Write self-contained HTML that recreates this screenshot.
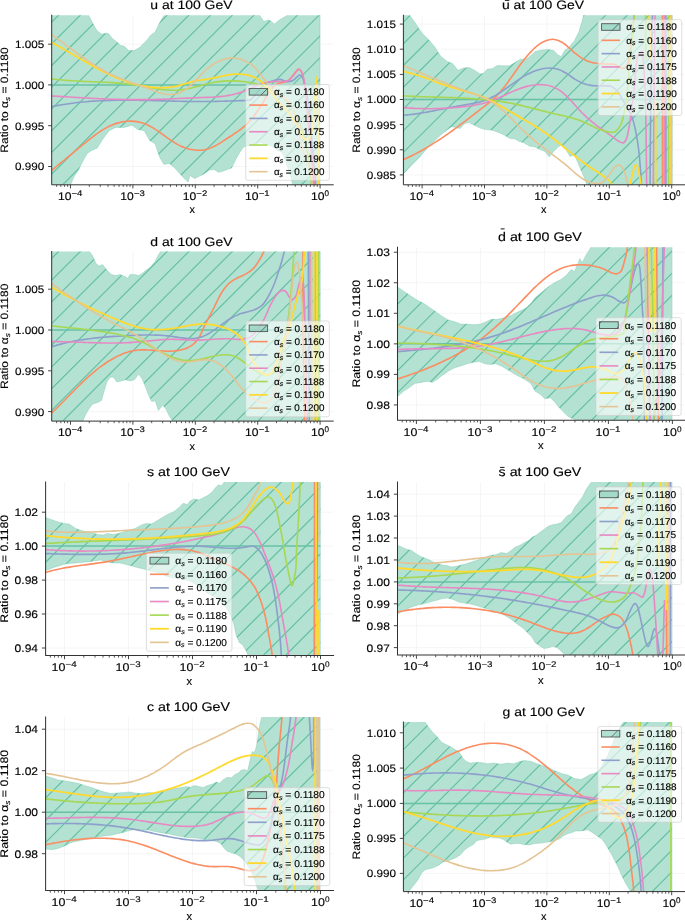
<!DOCTYPE html>
<html><head><meta charset="utf-8"><title>PDF ratio plots</title>
<style>
html,body{margin:0;padding:0;background:#fff;}
body{width:685px;height:920px;overflow:hidden;font-family:"Liberation Sans", sans-serif;}
svg{display:block;will-change:transform;}
svg text{font-family:"Liberation Sans", sans-serif;fill:#000;text-rendering:geometricPrecision;stroke:#000;stroke-width:0.14px;}
</style></head><body>
<svg width="685" height="920" viewBox="0 0 685 920">
<rect width="685" height="920" fill="#fff"/>
<g id="p1">
<path d="M70.5,15.2 V184.8 M132.9,15.2 V184.8 M195.3,15.2 V184.8 M257.7,15.2 V184.8 M320.1,15.2 V184.8 M51.7,44.2 H333.2 M51.7,84.9 H333.2 M51.7,125.7 H333.2 M51.7,166.5 H333.2" stroke="#f3f3f3" stroke-width="0.8" fill="none"/>
<clipPath id="ax1"><rect x="51.7" y="15.2" width="281.5" height="169.6"/></clipPath>
<g clip-path="url(#ax1)">
<clipPath id="bd1"><path d="M51.5,5L88.3,5L88.3,14.8L92.7,23.1L97.1,30.8L101.5,34.1L106.5,33.2L108.5,33.6L112.4,38.5L117.9,42.8L120.3,45.2L124.4,46.3L128.8,50.6L134.3,50.5L139.8,47.2L146.3,40.7L150.7,35.2L155.1,31.9L159.5,23.1L163.9,15.5L165,5L259.7,5L259.7,15.2L263.8,21.5L268.8,19.8L274.6,23.9L279.5,19.8L285.3,16.5L287,15.2L288,5L320,5L320,195L293,195L292.5,184.3L290.7,176.6L288.5,170.1L286.3,163.5L284.2,156.9L282,152.6L277.6,150.4L273.2,147.1L268.8,144.9L264.5,143.8L260.1,142.7L255.7,143.8L251.3,144.9L246.9,146L243.6,147.1L240.4,151.5L237.1,156.9L233.8,163.5L231.6,167.9L227.2,169.6L222.8,171.2L218.5,172.3L214.1,169.6L209.7,170.1L206.4,172.3L203.1,174.4L198.8,176.6L194.4,178.4L190,175.5L188,182.1L181.4,175.5L174.8,167.9L169.3,163.5L163.9,164.6L159.5,156.9L155.1,143.8L149.6,140.5L144.2,130.7L137.6,129.6L132.1,125.2L124.5,127.4L115.7,127.4L109.1,130.7L102.6,139.4L97.1,148.2L91.6,150.4L87.2,153.6L82.8,161.3L78.5,170L74.1,176.6L70.8,184.3L70.8,195L51.5,195Z"/></clipPath>
<path d="M51.5,5L88.3,5L88.3,14.8L92.7,23.1L97.1,30.8L101.5,34.1L106.5,33.2L108.5,33.6L112.4,38.5L117.9,42.8L120.3,45.2L124.4,46.3L128.8,50.6L134.3,50.5L139.8,47.2L146.3,40.7L150.7,35.2L155.1,31.9L159.5,23.1L163.9,15.5L165,5L259.7,5L259.7,15.2L263.8,21.5L268.8,19.8L274.6,23.9L279.5,19.8L285.3,16.5L287,15.2L288,5L320,5L320,195L293,195L292.5,184.3L290.7,176.6L288.5,170.1L286.3,163.5L284.2,156.9L282,152.6L277.6,150.4L273.2,147.1L268.8,144.9L264.5,143.8L260.1,142.7L255.7,143.8L251.3,144.9L246.9,146L243.6,147.1L240.4,151.5L237.1,156.9L233.8,163.5L231.6,167.9L227.2,169.6L222.8,171.2L218.5,172.3L214.1,169.6L209.7,170.1L206.4,172.3L203.1,174.4L198.8,176.6L194.4,178.4L190,175.5L188,182.1L181.4,175.5L174.8,167.9L169.3,163.5L163.9,164.6L159.5,156.9L155.1,143.8L149.6,140.5L144.2,130.7L137.6,129.6L132.1,125.2L124.5,127.4L115.7,127.4L109.1,130.7L102.6,139.4L97.1,148.2L91.6,150.4L87.2,153.6L82.8,161.3L78.5,170L74.1,176.6L70.8,184.3L70.8,195L51.5,195Z" fill="#b3e1d2" stroke="#66c2a5" stroke-opacity="0.5" stroke-width="0.6"/>
<path d="M50.7,-20.36 L16.14,14.2 M50.7,1.35 L37.85,14.2 M50.7,23.06 L59.56,14.2 M50.7,44.77 L81.27,14.2 M50.7,66.48 L102.98,14.2 M50.7,88.19 L124.69,14.2 M50.7,109.9 L146.4,14.2 M50.7,131.61 L168.11,14.2 M50.7,153.32 L189.82,14.2 M50.7,175.03 L211.53,14.2 M50.7,196.74 L233.24,14.2 M50.7,218.45 L254.95,14.2 M50.7,240.16 L276.66,14.2 M50.7,261.87 L298.37,14.2 M50.7,283.58 L320.08,14.2 M50.7,305.29 L341.79,14.2 M50.7,327 L363.5,14.2 M50.7,348.71 L385.21,14.2 M50.7,370.42 L406.92,14.2 M50.7,392.13 L428.63,14.2 M50.7,413.84 L450.34,14.2 M50.7,435.55 L472.05,14.2 M50.7,457.26 L493.76,14.2 M50.7,478.97 L515.47,14.2" stroke="#62c0a2" stroke-width="1.15" fill="none" clip-path="url(#bd1)"/>
<path d="M51.7,84.9 H320.1" stroke="#66c2a5" stroke-opacity="1" stroke-width="1.5" fill="none"/>
<path d="M51.48,170.61C51.94,170.23 53.33,169.05 54.25,168.29C55.17,167.52 56.08,166.75 57,166C57.91,165.24 58.82,164.49 59.73,163.74C60.64,162.99 61.54,162.24 62.45,161.5C63.35,160.76 64.25,160.02 65.16,159.29C66.06,158.55 66.96,157.82 67.86,157.08C68.76,156.35 69.66,155.61 70.56,154.88C71.46,154.14 72.36,153.41 73.26,152.67C74.17,151.93 75.07,151.2 75.97,150.45C76.88,149.71 77.78,148.97 78.69,148.22C79.6,147.47 80.51,146.72 81.43,145.96C82.34,145.21 83.26,144.44 84.18,143.68C85.1,142.92 86.03,142.15 86.96,141.39C87.89,140.64 88.82,139.88 89.76,139.13C90.7,138.38 91.65,137.63 92.6,136.9C93.55,136.17 94.51,135.44 95.48,134.73C96.44,134.02 97.42,133.33 98.4,132.65C99.38,131.97 100.37,131.31 101.37,130.67C102.37,130.03 103.37,129.41 104.39,128.82C105.41,128.23 106.44,127.66 107.48,127.12C108.51,126.58 109.56,126.07 110.62,125.59C111.68,125.11 112.76,124.66 113.84,124.25C114.93,123.84 116.02,123.46 117.13,123.12C118.24,122.79 119.37,122.49 120.5,122.24C121.64,121.98 122.8,121.77 123.96,121.61C125.12,121.44 126.3,121.32 127.48,121.25C128.66,121.18 129.85,121.15 131.04,121.17C132.22,121.19 133.41,121.26 134.59,121.39C135.77,121.51 136.94,121.67 138.1,121.9C139.26,122.12 140.41,122.39 141.53,122.71C142.66,123.04 143.76,123.42 144.85,123.84C145.94,124.26 147.01,124.73 148.07,125.23C149.12,125.74 150.16,126.29 151.19,126.86C152.22,127.43 153.23,128.04 154.24,128.67C155.24,129.29 156.24,129.95 157.22,130.61C158.21,131.27 159.19,131.96 160.17,132.65C161.14,133.34 162.11,134.04 163.09,134.74C164.06,135.44 165.03,136.15 166,136.85C166.97,137.55 167.94,138.25 168.93,138.93C169.91,139.61 170.89,140.29 171.88,140.95C172.88,141.6 173.88,142.25 174.89,142.86C175.91,143.47 176.93,144.07 177.98,144.63C179.02,145.18 180.07,145.72 181.14,146.21C182.22,146.7 183.31,147.16 184.42,147.57C185.52,147.98 186.65,148.36 187.77,148.68C188.9,149.01 190.05,149.29 191.19,149.52C192.34,149.75 193.49,149.94 194.65,150.07C195.8,150.2 196.96,150.28 198.11,150.29C199.26,150.31 200.41,150.28 201.55,150.18C202.7,150.08 203.83,149.93 204.96,149.71C206.08,149.48 207.2,149.2 208.3,148.85C209.39,148.5 210.48,148.07 211.55,147.61C212.63,147.15 213.69,146.63 214.74,146.08C215.8,145.53 216.84,144.93 217.87,144.32C218.91,143.71 219.94,143.06 220.96,142.42C221.99,141.77 223,141.1 224.02,140.45C225.03,139.79 226.05,139.14 227.06,138.48C228.06,137.83 229.07,137.19 230.07,136.54C231.07,135.9 232.06,135.26 233.04,134.6C234.02,133.95 235,133.3 235.96,132.64C236.92,131.98 237.88,131.31 238.81,130.63C239.75,129.94 240.68,129.25 241.59,128.54C242.49,127.83 243.39,127.1 244.26,126.35C245.14,125.6 246,124.83 246.83,124.04C247.67,123.24 248.48,122.42 249.28,121.57C250.07,120.72 250.84,119.84 251.6,118.94C252.35,118.04 253.08,117.11 253.8,116.17C254.52,115.22 254.49,115.34 255.91,113.28C257.32,111.22 260.15,107.25 262.3,103.8C264.45,100.35 266.62,95.75 268.8,92.6C270.98,89.45 273.2,86.55 275.4,84.9C277.6,83.25 279.82,83.43 282,82.7C284.18,81.97 286.5,81.97 288.5,80.5C290.5,79.03 292.35,75.8 294,73.9C295.65,72 297.12,69.28 298.4,69.1C299.68,68.92 300.77,70.65 301.7,72.8C302.63,74.95 303.2,77.47 304,82C304.8,86.53 305.67,92.83 306.5,100C307.33,107.17 308.08,115 309,125C309.92,135 311.17,149.17 312,160C312.83,170.83 313.67,185 314,190" stroke="#fc8d62" stroke-width="1.6" fill="none" stroke-linejoin="round" stroke-linecap="butt"/>
<path d="M51.43,106.77C52.01,106.65 53.74,106.28 54.9,106.05C56.05,105.82 57.21,105.6 58.37,105.38C59.53,105.17 60.69,104.96 61.85,104.77C63.01,104.57 64.17,104.38 65.33,104.2C66.49,104.02 67.65,103.84 68.81,103.67C69.97,103.51 71.13,103.35 72.3,103.2C73.46,103.04 74.62,102.9 75.78,102.76C76.95,102.62 78.11,102.49 79.28,102.36C80.44,102.24 81.61,102.12 82.77,102.01C83.94,101.89 85.1,101.79 86.27,101.69C87.43,101.59 88.6,101.5 89.77,101.41C90.94,101.32 92.1,101.24 93.27,101.16C94.44,101.08 95.61,101.01 96.78,100.94C97.94,100.88 99.11,100.82 100.28,100.76C101.45,100.7 102.62,100.65 103.79,100.6C104.96,100.56 106.13,100.52 107.3,100.48C108.47,100.44 109.64,100.41 110.81,100.38C111.99,100.35 113.16,100.32 114.33,100.3C115.5,100.28 116.67,100.26 117.85,100.25C119.02,100.23 120.19,100.22 121.36,100.22C122.54,100.21 123.71,100.2 124.88,100.2C126.06,100.2 127.23,100.2 128.4,100.21C129.58,100.21 130.75,100.22 131.92,100.23C133.1,100.24 134.27,100.25 135.45,100.27C136.62,100.28 137.8,100.3 138.97,100.31C140.14,100.33 141.32,100.35 142.49,100.37C143.67,100.4 144.84,100.42 146.02,100.44C147.19,100.47 148.37,100.5 149.54,100.52C150.72,100.55 151.89,100.58 153.07,100.61C154.25,100.64 155.42,100.67 156.6,100.7C157.77,100.73 158.95,100.76 160.12,100.79C161.3,100.82 162.47,100.85 163.65,100.88C164.82,100.91 166,100.94 167.18,100.97C168.35,101 169.53,101.04 170.7,101.07C171.88,101.09 173.05,101.12 174.23,101.15C175.4,101.18 176.58,101.21 177.75,101.24C178.93,101.26 180.1,101.29 181.28,101.31C182.45,101.33 183.63,101.36 184.8,101.38C185.98,101.4 187.15,101.42 188.33,101.43C189.5,101.45 190.68,101.47 191.85,101.48C193.03,101.49 194.2,101.5 195.37,101.51C196.55,101.52 197.72,101.53 198.9,101.53C200.07,101.53 201.24,101.53 202.42,101.53C203.59,101.52 204.76,101.52 205.93,101.51C207.11,101.5 208.28,101.49 209.45,101.48C210.62,101.46 211.8,101.45 212.97,101.43C214.14,101.41 215.31,101.39 216.48,101.37C217.66,101.35 218.83,101.32 220,101.29C221.17,101.27 222.34,101.24 223.51,101.21C224.68,101.18 225.86,101.15 227.03,101.12C228.2,101.08 229.37,101.05 230.54,101.01C231.71,100.98 232.88,100.94 234.05,100.9C235.22,100.87 236.39,100.83 237.56,100.79C238.73,100.75 239.9,100.71 241.07,100.67C242.24,100.63 243.42,100.61 244.58,100.55C245.75,100.49 246.94,100.5 248.05,100.32C249.15,100.13 249.58,100.9 251.22,99.43C252.86,97.96 255.69,93.92 257.9,91.5C260.11,89.08 262.32,86.55 264.5,84.9C266.68,83.25 268.45,82.52 271,81.6C273.55,80.68 277.25,79.4 279.8,79.4C282.35,79.4 284.12,81.42 286.3,81.6C288.48,81.78 290.7,81.6 292.9,80.5C295.1,79.4 297.85,75.37 299.5,75C301.15,74.63 301.72,75.73 302.8,78.3C303.88,80.87 304.92,85.12 306,90.4C307.08,95.68 308.25,100.73 309.3,110C310.35,119.27 311.15,132.67 312.3,146C313.45,159.33 315.55,182.67 316.2,190" stroke="#8da0cb" stroke-width="1.6" fill="none" stroke-linejoin="round" stroke-linecap="butt"/>
<path d="M51.5,95.95C52.09,95.99 53.87,96.1 55.05,96.17C56.23,96.24 57.42,96.32 58.6,96.39C59.78,96.46 60.96,96.53 62.15,96.61C63.33,96.68 64.51,96.75 65.7,96.82C66.88,96.9 68.06,96.97 69.25,97.04C70.43,97.11 71.61,97.18 72.8,97.25C73.98,97.32 75.16,97.39 76.35,97.46C77.53,97.53 78.71,97.6 79.9,97.67C81.08,97.74 82.27,97.8 83.45,97.87C84.63,97.94 85.82,98 87,98.06C88.18,98.13 89.37,98.19 90.55,98.25C91.74,98.31 92.92,98.37 94.1,98.43C95.29,98.49 96.47,98.55 97.66,98.6C98.84,98.66 100.03,98.71 101.21,98.76C102.39,98.82 103.58,98.87 104.76,98.92C105.95,98.96 107.13,99.01 108.32,99.06C109.5,99.1 110.68,99.14 111.87,99.18C113.05,99.22 114.24,99.26 115.42,99.3C116.61,99.33 117.79,99.37 118.97,99.4C120.16,99.43 121.34,99.46 122.53,99.49C123.71,99.51 124.9,99.54 126.08,99.56C127.26,99.58 128.45,99.6 129.63,99.61C130.82,99.63 132,99.64 133.19,99.65C134.37,99.66 135.55,99.66 136.74,99.67C137.92,99.67 139.11,99.67 140.29,99.67C141.47,99.66 142.66,99.66 143.84,99.65C145.03,99.64 146.21,99.62 147.39,99.61C148.58,99.59 149.76,99.57 150.95,99.54C152.13,99.52 153.31,99.49 154.5,99.46C155.68,99.43 156.87,99.4 158.05,99.36C159.23,99.32 160.42,99.28 161.6,99.24C162.78,99.2 163.97,99.15 165.15,99.11C166.33,99.06 167.52,99.01 168.7,98.96C169.89,98.91 171.07,98.86 172.25,98.81C173.44,98.76 174.62,98.7 175.81,98.65C176.99,98.6 178.17,98.54 179.36,98.49C180.54,98.43 181.73,98.38 182.91,98.32C184.09,98.27 185.28,98.21 186.46,98.16C187.65,98.11 188.83,98.06 190.02,98C191.2,97.95 192.39,97.9 193.57,97.85C194.76,97.8 195.94,97.76 197.13,97.71C198.31,97.66 199.5,97.62 200.68,97.58C201.87,97.54 203.05,97.5 204.24,97.46C205.43,97.42 206.61,97.38 207.8,97.34C208.98,97.29 210.17,97.25 211.35,97.19C212.53,97.13 213.72,97.07 214.9,97C216.08,96.92 217.26,96.84 218.44,96.74C219.62,96.64 220.8,96.52 221.98,96.39C223.16,96.26 224.33,96.11 225.51,95.94C226.68,95.77 227.85,95.58 229.02,95.37C230.18,95.16 231.35,94.93 232.5,94.68C233.66,94.42 234.81,94.15 235.96,93.85C237.1,93.55 238.24,93.23 239.37,92.88C240.5,92.53 241.63,92.15 242.74,91.75C243.86,91.35 244.96,90.92 246.06,90.47C247.15,90.03 248.24,89.54 249.32,89.07C250.41,88.59 251.48,88.08 252.56,87.6C253.64,87.11 253.81,86.96 255.8,86.14C257.79,85.32 261.6,83.46 264.5,82.7C267.4,81.94 270.28,81.78 273.2,81.6C276.12,81.42 279.45,81.78 282,81.6C284.55,81.42 286.68,81.42 288.5,80.5C290.32,79.58 291.25,77.92 292.9,76.1C294.55,74.28 296.93,70.32 298.4,69.6C299.87,68.88 300.78,70.17 301.7,71.8C302.62,73.43 303.18,75.72 303.9,79.4C304.62,83.08 305.4,88.07 306,93.9C306.6,99.73 306.72,105.72 307.5,114.4C308.28,123.08 309.65,136.27 310.7,146C311.75,155.73 313.02,165.47 313.8,172.8C314.58,180.13 315.13,187.13 315.4,190" stroke="#e78ac3" stroke-width="1.6" fill="none" stroke-linejoin="round" stroke-linecap="butt"/>
<path d="M51.5,78.89C52.09,78.97 53.86,79.19 55.04,79.33C56.22,79.47 57.4,79.59 58.58,79.71C59.77,79.83 60.95,79.94 62.13,80.05C63.31,80.15 64.49,80.25 65.67,80.34C66.86,80.43 68.04,80.52 69.22,80.6C70.4,80.68 71.59,80.75 72.77,80.82C73.95,80.89 75.13,80.96 76.32,81.02C77.5,81.08 78.68,81.14 79.86,81.2C81.05,81.25 82.23,81.31 83.41,81.36C84.6,81.41 85.78,81.46 86.96,81.5C88.14,81.55 89.33,81.6 90.51,81.64C91.69,81.69 92.87,81.74 94.06,81.78C95.24,81.83 96.42,81.88 97.6,81.93C98.79,81.97 99.97,82.02 101.15,82.08C102.33,82.13 103.51,82.18 104.7,82.24C105.88,82.3 107.06,82.36 108.24,82.42C109.42,82.49 110.6,82.56 111.78,82.63C112.97,82.7 114.15,82.78 115.33,82.87C116.51,82.95 117.69,83.04 118.87,83.13C120.05,83.23 121.23,83.33 122.41,83.44C123.59,83.55 124.76,83.67 125.94,83.79C127.12,83.92 128.3,84.05 129.48,84.2C130.66,84.34 131.83,84.49 133.01,84.65C134.19,84.81 135.36,84.98 136.54,85.17C137.72,85.35 138.89,85.54 140.07,85.74C141.24,85.94 142.42,86.16 143.59,86.37C144.77,86.58 145.94,86.8 147.12,87.02C148.29,87.23 149.46,87.45 150.64,87.67C151.81,87.88 152.98,88.09 154.16,88.29C155.33,88.49 156.5,88.69 157.67,88.87C158.85,89.05 160.02,89.22 161.19,89.37C162.36,89.52 163.53,89.66 164.7,89.78C165.87,89.89 167.04,89.99 168.21,90.06C169.38,90.14 170.55,90.19 171.72,90.2C172.89,90.22 174.06,90.21 175.23,90.18C176.4,90.14 177.57,90.07 178.74,89.98C179.91,89.89 181.07,89.77 182.24,89.62C183.4,89.48 184.57,89.31 185.73,89.11C186.89,88.92 188.05,88.7 189.2,88.46C190.36,88.22 191.51,87.96 192.66,87.68C193.81,87.4 194.96,87.1 196.11,86.8C197.26,86.5 198.4,86.18 199.55,85.87C200.69,85.55 201.84,85.23 202.99,84.92C204.13,84.61 205.28,84.3 206.43,84.01C207.58,83.72 208.73,83.43 209.89,83.17C211.04,82.91 212.2,82.67 213.36,82.45C214.52,82.23 215.69,82.04 216.85,81.87C218.02,81.7 219.19,81.55 220.37,81.42C221.54,81.3 222.71,81.19 223.89,81.11C225.07,81.03 226.25,80.96 227.43,80.92C228.61,80.88 229.8,80.86 230.98,80.86C232.17,80.86 233.35,80.88 234.54,80.92C235.73,80.96 236.92,81.02 238.1,81.1C239.29,81.18 240.48,81.27 241.66,81.39C242.85,81.51 244.03,81.66 245.21,81.82C246.39,81.98 247.57,82.16 248.74,82.37C249.91,82.58 251.08,82.8 252.24,83.05C253.41,83.31 253.09,83.05 255.71,83.88C258.34,84.7 263.95,86.15 268,88C272.05,89.85 276,91.67 280,95C284,98.33 288.33,102.17 292,108C295.67,113.83 299.33,122.17 302,130C304.67,137.83 306.33,145 308,155C309.67,165 311.33,184.17 312,190" stroke="#a6d854" stroke-width="1.6" fill="none" stroke-linejoin="round" stroke-linecap="butt"/>
<path d="M51.55,42.34C52.06,42.62 53.6,43.46 54.62,44.02C55.64,44.59 56.67,45.16 57.69,45.73C58.71,46.31 59.73,46.89 60.75,47.47C61.77,48.05 62.79,48.64 63.8,49.23C64.82,49.82 65.84,50.41 66.86,51.01C67.88,51.6 68.89,52.2 69.91,52.8C70.93,53.4 71.95,54 72.97,54.6C73.99,55.2 75,55.8 76.02,56.4C77.04,57 78.06,57.61 79.08,58.21C80.11,58.8 81.13,59.4 82.15,60C83.17,60.59 84.2,61.19 85.23,61.78C86.25,62.37 87.28,62.96 88.31,63.54C89.34,64.13 90.37,64.71 91.4,65.29C92.43,65.86 93.47,66.43 94.5,67C95.54,67.57 96.58,68.13 97.62,68.68C98.66,69.24 99.71,69.79 100.76,70.33C101.8,70.87 102.85,71.4 103.91,71.93C104.96,72.45 106.01,72.97 107.07,73.48C108.13,73.99 109.19,74.49 110.26,74.98C111.33,75.48 112.4,75.96 113.47,76.43C114.54,76.9 115.62,77.36 116.7,77.81C117.78,78.26 118.87,78.7 119.96,79.12C121.05,79.55 122.14,79.96 123.24,80.36C124.34,80.77 125.44,81.15 126.55,81.53C127.65,81.9 128.77,82.26 129.88,82.61C131,82.95 132.12,83.28 133.25,83.6C134.38,83.92 135.51,84.22 136.65,84.5C137.79,84.78 138.94,85.05 140.09,85.3C141.24,85.55 142.4,85.78 143.56,86C144.72,86.21 145.89,86.41 147.07,86.59C148.24,86.77 149.42,86.93 150.61,87.07C151.8,87.2 152.99,87.32 154.18,87.42C155.38,87.52 156.58,87.59 157.77,87.64C158.97,87.69 160.16,87.72 161.36,87.72C162.55,87.71 163.74,87.69 164.92,87.63C166.11,87.58 167.29,87.5 168.46,87.38C169.63,87.27 170.79,87.13 171.94,86.96C173.1,86.78 174.24,86.58 175.38,86.34C176.51,86.11 177.64,85.85 178.76,85.56C179.89,85.28 181,84.96 182.11,84.63C183.23,84.3 184.33,83.93 185.45,83.58C186.56,83.24 187.67,82.87 188.79,82.55C189.91,82.23 191.04,81.93 192.17,81.66C193.3,81.4 194.45,81.16 195.6,80.94C196.74,80.72 197.9,80.53 199.06,80.33C200.21,80.14 201.38,79.97 202.54,79.8C203.7,79.62 204.87,79.45 206.04,79.28C207.2,79.1 208.37,78.92 209.53,78.72C210.7,78.52 211.86,78.31 213.02,78.08C214.18,77.86 215.34,77.6 216.5,77.35C217.65,77.1 218.81,76.84 219.96,76.58C221.12,76.33 222.27,76.07 223.43,75.82C224.59,75.58 225.74,75.34 226.91,75.14C228.07,74.93 229.23,74.73 230.4,74.58C231.56,74.42 232.73,74.29 233.91,74.2C235.09,74.11 236.27,74.06 237.45,74.06C238.63,74.05 239.81,74.08 240.99,74.16C242.16,74.24 243.34,74.36 244.5,74.53C245.66,74.7 246.82,74.92 247.95,75.18C249.09,75.44 249.32,75.23 251.33,76.11C253.33,77 257.09,78.3 260,80.5C262.91,82.7 265.87,85.83 268.8,89.3C271.73,92.77 274.57,97.77 277.6,101.3C280.63,104.83 283.6,106.22 287,110.5C290.4,114.78 295.37,122.53 298,127C300.63,131.47 301.22,135.2 302.8,137.3C304.38,139.4 306.18,140 307.5,139.6C308.82,139.2 309.78,137.78 310.7,134.9C311.62,132.02 312.22,129.65 313,122.3C313.78,114.95 314.87,98.42 315.4,90.8C315.93,83.18 315.93,76.6 316.2,76.6C316.47,76.6 316.73,83.18 317,90.8C317.27,98.42 317.53,105.77 317.8,122.3C318.07,138.83 318.47,178.72 318.6,190" stroke="#ffd92f" stroke-width="1.8" fill="none" stroke-linejoin="round" stroke-linecap="butt"/>
<path d="M51.52,34.6C51.99,34.93 53.4,35.92 54.34,36.59C55.28,37.26 56.21,37.93 57.15,38.61C58.09,39.29 59.03,39.97 59.97,40.66C60.91,41.34 61.85,42.03 62.79,42.72C63.73,43.42 64.67,44.11 65.61,44.8C66.55,45.5 67.5,46.2 68.44,46.89C69.39,47.59 70.33,48.29 71.28,48.98C72.23,49.68 73.18,50.38 74.13,51.07C75.08,51.77 76.03,52.46 76.98,53.15C77.94,53.84 78.89,54.53 79.85,55.21C80.81,55.9 81.77,56.58 82.74,57.26C83.7,57.94 84.67,58.61 85.64,59.28C86.61,59.94 87.58,60.61 88.56,61.26C89.53,61.92 90.51,62.57 91.5,63.21C92.48,63.85 93.46,64.49 94.45,65.11C95.44,65.74 96.44,66.36 97.44,66.97C98.43,67.58 99.43,68.18 100.44,68.77C101.45,69.36 102.46,69.94 103.47,70.51C104.49,71.07 105.51,71.63 106.53,72.18C107.56,72.72 108.59,73.26 109.62,73.78C110.66,74.3 111.7,74.81 112.74,75.3C113.79,75.79 114.84,76.27 115.89,76.74C116.95,77.2 118.01,77.65 119.08,78.09C120.15,78.53 121.22,78.95 122.3,79.37C123.38,79.78 124.46,80.19 125.55,80.59C126.63,80.99 127.72,81.38 128.82,81.76C129.91,82.15 131.01,82.53 132.11,82.91C133.21,83.3 134.32,83.67 135.42,84.05C136.53,84.43 137.64,84.81 138.75,85.19C139.87,85.58 140.98,85.96 142.1,86.35C143.22,86.74 144.33,87.14 145.45,87.55C146.57,87.95 147.7,88.37 148.82,88.79C149.94,89.21 151.06,89.65 152.19,90.07C153.31,90.5 154.43,90.93 155.56,91.33C156.68,91.74 157.81,92.14 158.94,92.49C160.07,92.85 161.19,93.18 162.32,93.46C163.45,93.74 164.58,93.99 165.71,94.17C166.84,94.35 167.97,94.48 169.11,94.53C170.24,94.58 171.38,94.57 172.5,94.47C173.63,94.37 174.76,94.2 175.87,93.95C176.98,93.7 178.08,93.37 179.14,92.97C180.21,92.57 181.25,92.08 182.26,91.53C183.27,90.98 184.25,90.35 185.2,89.68C186.15,89.01 187.08,88.27 187.99,87.52C188.89,86.77 189.77,85.97 190.64,85.17C191.51,84.37 192.35,83.54 193.19,82.71C194.03,81.89 194.85,81.04 195.68,80.2C196.5,79.36 197.31,78.5 198.12,77.66C198.94,76.81 199.75,75.96 200.57,75.13C201.39,74.29 202.21,73.46 203.04,72.64C203.88,71.83 204.72,71.02 205.59,70.23C206.45,69.45 207.33,68.68 208.24,67.94C209.14,67.2 210.06,66.48 211.02,65.79C211.98,65.11 212.96,64.45 213.97,63.83C214.98,63.22 216.02,62.63 217.08,62.09C218.14,61.56 219.22,61.06 220.32,60.61C221.42,60.17 222.53,59.77 223.66,59.43C224.78,59.1 225.92,58.81 227.06,58.6C228.2,58.38 229.36,58.22 230.5,58.14C231.65,58.06 232.81,58.04 233.95,58.1C235.1,58.16 236.24,58.3 237.37,58.51C238.51,58.71 239.63,59 240.74,59.34C241.85,59.68 242.95,60.08 244.03,60.54C245.1,61.01 246.16,61.53 247.2,62.1C248.23,62.67 249.24,63.29 250.22,63.96C251.2,64.63 252.16,65.34 253.07,66.09C253.99,66.84 253.82,66.24 255.72,68.46C257.63,70.68 261.59,75.64 264.5,79.4C267.41,83.16 270.23,88.07 273.2,91C276.17,93.93 279.73,95.25 282.3,97C284.87,98.75 286.5,98.6 288.6,101.5C290.7,104.4 293.07,108.83 294.9,114.4C296.73,119.97 298.28,129.12 299.6,134.9C300.92,140.68 301.73,144.92 302.8,149.1C303.87,153.28 304.68,156.18 306,160C307.32,163.82 309.53,167 310.7,172C311.87,177 312.62,187 313,190" stroke="#e5c494" stroke-width="1.6" fill="none" stroke-linejoin="round" stroke-linecap="butt"/>
</g>
<path d="M51.7,15.2 V184.8 H333.2" stroke="#333" stroke-width="1" fill="none" stroke-linecap="square"/>
<path d="M70.5,184.8 v3.6 M132.9,184.8 v3.6 M195.3,184.8 v3.6 M257.7,184.8 v3.6 M320.1,184.8 v3.6 M51.7,44.2 h-3.6 M51.7,84.9 h-3.6 M51.7,125.7 h-3.6 M51.7,166.5 h-3.6" stroke="#333" stroke-width="0.9" fill="none"/>
<path d="M56.66,184.8 v2.1 M60.83,184.8 v2.1 M64.45,184.8 v2.1 M67.64,184.8 v2.1 M89.28,184.8 v2.1 M100.27,184.8 v2.1 M108.07,184.8 v2.1 M114.12,184.8 v2.1 M119.06,184.8 v2.1 M123.23,184.8 v2.1 M126.85,184.8 v2.1 M130.04,184.8 v2.1 M151.68,184.8 v2.1 M162.67,184.8 v2.1 M170.47,184.8 v2.1 M176.52,184.8 v2.1 M181.46,184.8 v2.1 M185.63,184.8 v2.1 M189.25,184.8 v2.1 M192.44,184.8 v2.1 M214.08,184.8 v2.1 M225.07,184.8 v2.1 M232.87,184.8 v2.1 M238.92,184.8 v2.1 M243.86,184.8 v2.1 M248.03,184.8 v2.1 M251.65,184.8 v2.1 M254.84,184.8 v2.1 M276.48,184.8 v2.1 M287.47,184.8 v2.1 M295.27,184.8 v2.1 M301.32,184.8 v2.1 M306.26,184.8 v2.1 M310.43,184.8 v2.1 M314.05,184.8 v2.1 M317.24,184.8 v2.1" stroke="#333" stroke-width="0.8" fill="none"/>
<text x="57.9" y="199.8" font-size="11" textLength="13.5" lengthAdjust="spacingAndGlyphs">10</text>
<text x="71.5" y="196.05" font-size="8.1" textLength="10.9" lengthAdjust="spacingAndGlyphs">−4</text>
<text x="120.3" y="199.8" font-size="11" textLength="13.5" lengthAdjust="spacingAndGlyphs">10</text>
<text x="133.9" y="196.05" font-size="8.1" textLength="10.9" lengthAdjust="spacingAndGlyphs">−3</text>
<text x="182.7" y="199.8" font-size="11" textLength="13.5" lengthAdjust="spacingAndGlyphs">10</text>
<text x="196.3" y="196.05" font-size="8.1" textLength="10.9" lengthAdjust="spacingAndGlyphs">−2</text>
<text x="245.1" y="199.8" font-size="11" textLength="13.5" lengthAdjust="spacingAndGlyphs">10</text>
<text x="258.7" y="196.05" font-size="8.1" textLength="10.9" lengthAdjust="spacingAndGlyphs">−1</text>
<text x="310.9" y="199.8" font-size="11" textLength="13.5" lengthAdjust="spacingAndGlyphs">10</text>
<text x="324.5" y="196.05" font-size="8.1" textLength="4.5" lengthAdjust="spacingAndGlyphs">0</text>
<text x="44.3" y="48.15" font-size="10.7" text-anchor="end" textLength="29.3" lengthAdjust="spacingAndGlyphs">1.005</text>
<text x="44.3" y="88.85" font-size="10.7" text-anchor="end" textLength="29.3" lengthAdjust="spacingAndGlyphs">1.000</text>
<text x="44.3" y="129.65" font-size="10.7" text-anchor="end" textLength="29.3" lengthAdjust="spacingAndGlyphs">0.995</text>
<text x="44.3" y="170.45" font-size="10.7" text-anchor="end" textLength="29.3" lengthAdjust="spacingAndGlyphs">0.990</text>
<text x="192.15" y="213.2" font-size="10.9" text-anchor="middle">x</text>
<text transform="translate(8,100) rotate(-90)" font-size="10.7" text-anchor="middle" textLength="105.5" lengthAdjust="spacingAndGlyphs">Ratio to α<tspan font-size="7.21" dy="1.8" font-style="italic">s</tspan><tspan dy="-1.8"> = 0.1180</tspan></text>
<text x="191.35" y="9.3" font-size="12.3" text-anchor="middle" textLength="82.2" lengthAdjust="spacingAndGlyphs">u at 100 GeV</text>
<rect x="245.7" y="84.5" width="83.6" height="95.8" rx="2" fill="#fff" fill-opacity="0.6" stroke="#ccc" stroke-opacity="0.8" stroke-width="0.8"/>
<g><clipPath id="lc1"><rect x="249.2" y="88.5" width="18.4" height="6.6"/></clipPath>
<rect x="249.2" y="88.5" width="18.4" height="6.6" fill="#66c2a5" fill-opacity="0.5"/>
<path d="M216.47,96.1 L225.07,87.5 M238.18,96.1 L246.78,87.5 M259.89,96.1 L268.49,87.5 M281.6,96.1 L290.2,87.5" stroke="#555" stroke-width="0.8" clip-path="url(#lc1)"/>
<rect x="249.2" y="88.5" width="18.4" height="6.6" fill="none" stroke="#555" stroke-width="0.9"/></g>
<text x="273.9" y="95.1" font-size="9.7" textLength="50.5" lengthAdjust="spacingAndGlyphs">α<tspan font-size="6.79" dy="1.6" font-style="italic">s</tspan><tspan dy="-1.6"> = 0.1180</tspan></text>
<path d="M249.2,105.11 H267.6" stroke="#fc8d62" stroke-width="1.6" fill="none"/>
<text x="273.9" y="108.41" font-size="9.7" textLength="50.5" lengthAdjust="spacingAndGlyphs">α<tspan font-size="6.79" dy="1.6" font-style="italic">s</tspan><tspan dy="-1.6"> = 0.1160</tspan></text>
<path d="M249.2,118.42 H267.6" stroke="#8da0cb" stroke-width="1.6" fill="none"/>
<text x="273.9" y="121.72" font-size="9.7" textLength="50.5" lengthAdjust="spacingAndGlyphs">α<tspan font-size="6.79" dy="1.6" font-style="italic">s</tspan><tspan dy="-1.6"> = 0.1170</tspan></text>
<path d="M249.2,131.73 H267.6" stroke="#e78ac3" stroke-width="1.6" fill="none"/>
<text x="273.9" y="135.03" font-size="9.7" textLength="50.5" lengthAdjust="spacingAndGlyphs">α<tspan font-size="6.79" dy="1.6" font-style="italic">s</tspan><tspan dy="-1.6"> = 0.1175</tspan></text>
<path d="M249.2,145.04 H267.6" stroke="#a6d854" stroke-width="1.6" fill="none"/>
<text x="273.9" y="148.34" font-size="9.7" textLength="50.5" lengthAdjust="spacingAndGlyphs">α<tspan font-size="6.79" dy="1.6" font-style="italic">s</tspan><tspan dy="-1.6"> = 0.1188</tspan></text>
<path d="M249.2,158.35 H267.6" stroke="#ffd92f" stroke-width="1.8" fill="none"/>
<text x="273.9" y="161.65" font-size="9.7" textLength="50.5" lengthAdjust="spacingAndGlyphs">α<tspan font-size="6.79" dy="1.6" font-style="italic">s</tspan><tspan dy="-1.6"> = 0.1190</tspan></text>
<path d="M249.2,171.66 H267.6" stroke="#e5c494" stroke-width="1.6" fill="none"/>
<text x="273.9" y="174.96" font-size="9.7" textLength="50.5" lengthAdjust="spacingAndGlyphs">α<tspan font-size="6.79" dy="1.6" font-style="italic">s</tspan><tspan dy="-1.6"> = 0.1200</tspan></text>
</g>
<g id="p2">
<path d="M422.1,15.2 V184.8 M484.5,15.2 V184.8 M546.9,15.2 V184.8 M609.3,15.2 V184.8 M671.7,15.2 V184.8 M403.4,24.1 H684.9 M403.4,49.2 H684.9 M403.4,74.4 H684.9 M403.4,99.5 H684.9 M403.4,124.6 H684.9 M403.4,149.8 H684.9 M403.4,174.9 H684.9" stroke="#f3f3f3" stroke-width="0.8" fill="none"/>
<clipPath id="ax2"><rect x="403.4" y="15.2" width="281.5" height="169.6"/></clipPath>
<g clip-path="url(#ax2)">
<clipPath id="bd2"><path d="M403.8,5L409.9,5L409.9,15.5L415.3,23.1L421.9,33L428.5,39.6L435,47.2L440.5,56L447.1,61.5L452.6,63.6L458,70.2L463.5,68L469,67.4L474.5,70.2L479.9,73.9L483.2,73.5L487.6,69.1L492,68.7L497.4,65.4L502.9,65.8L509.5,65.8L515,62.6L520.4,59.3L525.9,59.3L531.4,54.9L535,51.6L541.6,50.1L548.1,49.4L553.6,50.5L558,54.9L561.3,56.4L564.6,50.5L568.9,47.2L574.4,40.7L578.8,31.9L582.1,20.9L583.6,14.8L584,5L672.3,5L672.3,195L587,195L586.5,184.3L584.3,177.7L581,170.1L577.7,162.4L574.4,154.7L570,156.5L565.7,149.3L561.3,144.9L558,147.1L553.6,151.5L549.2,156.9L544.9,151.5L539.4,149.3L535,147.1L529.2,146L523.7,142.7L519.3,141.6L515,139L509.5,138.3L504,135L498.5,132.4L492,130.2L485.4,129.6L479.9,128L474.5,125.2L469,122.6L464.6,123.6L460.2,128.5L455.8,127.4L451.5,126.7L446,130.7L439.4,136.1L432.8,142.7L426.3,149.3L419.7,156.9L410.9,165.7L403.8,173.4Z"/></clipPath>
<path d="M403.8,5L409.9,5L409.9,15.5L415.3,23.1L421.9,33L428.5,39.6L435,47.2L440.5,56L447.1,61.5L452.6,63.6L458,70.2L463.5,68L469,67.4L474.5,70.2L479.9,73.9L483.2,73.5L487.6,69.1L492,68.7L497.4,65.4L502.9,65.8L509.5,65.8L515,62.6L520.4,59.3L525.9,59.3L531.4,54.9L535,51.6L541.6,50.1L548.1,49.4L553.6,50.5L558,54.9L561.3,56.4L564.6,50.5L568.9,47.2L574.4,40.7L578.8,31.9L582.1,20.9L583.6,14.8L584,5L672.3,5L672.3,195L587,195L586.5,184.3L584.3,177.7L581,170.1L577.7,162.4L574.4,154.7L570,156.5L565.7,149.3L561.3,144.9L558,147.1L553.6,151.5L549.2,156.9L544.9,151.5L539.4,149.3L535,147.1L529.2,146L523.7,142.7L519.3,141.6L515,139L509.5,138.3L504,135L498.5,132.4L492,130.2L485.4,129.6L479.9,128L474.5,125.2L469,122.6L464.6,123.6L460.2,128.5L455.8,127.4L451.5,126.7L446,130.7L439.4,136.1L432.8,142.7L426.3,149.3L419.7,156.9L410.9,165.7L403.8,173.4Z" fill="#b3e1d2" stroke="#66c2a5" stroke-opacity="0.5" stroke-width="0.6"/>
<path d="M402.4,-20.36 L367.84,14.2 M402.4,1.35 L389.55,14.2 M402.4,23.06 L411.26,14.2 M402.4,44.77 L432.97,14.2 M402.4,66.48 L454.68,14.2 M402.4,88.19 L476.39,14.2 M402.4,109.9 L498.1,14.2 M402.4,131.61 L519.81,14.2 M402.4,153.32 L541.52,14.2 M402.4,175.03 L563.23,14.2 M402.4,196.74 L584.94,14.2 M402.4,218.45 L606.65,14.2 M402.4,240.16 L628.36,14.2 M402.4,261.87 L650.07,14.2 M402.4,283.58 L671.78,14.2 M402.4,305.29 L693.49,14.2 M402.4,327 L715.2,14.2 M402.4,348.71 L736.91,14.2 M402.4,370.42 L758.62,14.2 M402.4,392.13 L780.33,14.2 M402.4,413.84 L802.04,14.2 M402.4,435.55 L823.75,14.2 M402.4,457.26 L845.46,14.2 M402.4,478.97 L867.17,14.2" stroke="#62c0a2" stroke-width="1.15" fill="none" clip-path="url(#bd2)"/>
<path d="M403.4,99.5 H671.7" stroke="#66c2a5" stroke-opacity="1" stroke-width="1.5" fill="none"/>
<path d="M403.64,159.52C404.18,159.28 405.81,158.56 406.88,158.06C407.96,157.57 409.03,157.06 410.09,156.55C411.16,156.03 412.22,155.51 413.27,154.98C414.33,154.45 415.38,153.9 416.42,153.36C417.46,152.81 418.5,152.25 419.54,151.69C420.57,151.12 421.6,150.55 422.63,149.97C423.65,149.39 424.67,148.8 425.69,148.21C426.7,147.62 427.72,147.01 428.72,146.41C429.73,145.8 430.73,145.18 431.73,144.56C432.73,143.94 433.73,143.32 434.72,142.68C435.71,142.05 436.7,141.41 437.69,140.77C438.67,140.13 439.65,139.48 440.63,138.82C441.61,138.17 442.59,137.51 443.56,136.84C444.53,136.18 445.5,135.51 446.47,134.84C447.43,134.16 448.4,133.49 449.36,132.81C450.32,132.12 451.28,131.44 452.23,130.75C453.19,130.06 454.14,129.37 455.09,128.68C456.04,127.98 456.99,127.28 457.94,126.58C458.89,125.88 459.83,125.18 460.78,124.47C461.72,123.76 462.66,123.06 463.6,122.35C464.54,121.64 465.48,120.92 466.42,120.21C467.36,119.5 468.29,118.78 469.23,118.06C470.16,117.35 471.1,116.63 472.03,115.91C472.96,115.19 473.9,114.47 474.83,113.75C475.76,113.03 476.69,112.31 477.62,111.59C478.55,110.87 479.48,110.15 480.41,109.43C481.34,108.71 482.27,108 483.2,107.28C484.13,106.56 485.06,105.84 485.99,105.12C486.91,104.4 487.84,103.67 488.75,102.93C489.66,102.19 490.57,101.45 491.46,100.68C492.35,99.91 493.23,99.13 494.09,98.32C494.95,97.51 495.79,96.68 496.62,95.83C497.45,94.98 498.25,94.1 499.05,93.22C499.84,92.34 500.62,91.44 501.38,90.53C502.15,89.62 502.89,88.7 503.63,87.78C504.36,86.86 505.08,85.93 505.79,84.99C506.5,84.06 507.2,83.12 507.89,82.18C508.58,81.24 509.26,80.29 509.94,79.34C510.62,78.39 511.29,77.44 511.96,76.49C512.63,75.54 513.3,74.58 513.97,73.63C514.63,72.68 515.3,71.72 515.97,70.77C516.64,69.82 517.31,68.87 517.99,67.92C518.66,66.97 519.34,66.03 520.03,65.08C520.73,64.14 521.42,63.2 522.13,62.27C522.84,61.33 523.56,60.4 524.29,59.48C525.02,58.55 525.77,57.64 526.53,56.73C527.29,55.82 528.07,54.91 528.86,54.02C529.66,53.12 530.47,52.23 531.31,51.36C532.15,50.48 533,49.61 533.88,48.77C534.76,47.93 535.66,47.1 536.59,46.33C537.52,45.55 538.48,44.8 539.46,44.12C540.45,43.43 541.46,42.78 542.5,42.22C543.55,41.65 544.62,41.13 545.73,40.71C546.83,40.3 547.99,39.94 549.13,39.7C550.27,39.47 551.44,39.32 552.56,39.32C553.68,39.31 554.77,39.44 555.84,39.67C556.91,39.9 557.94,40.26 558.96,40.69C559.98,41.13 560.97,41.67 561.95,42.26C562.93,42.86 563.89,43.54 564.84,44.26C565.8,44.97 566.73,45.76 567.67,46.55C568.6,47.34 569.52,48.19 570.45,49.02C571.38,49.85 572.3,50.71 573.23,51.53C574.16,52.36 575.09,53.19 576.03,53.97C576.98,54.75 577.93,55.52 578.89,56.22C579.86,56.92 580.84,57.56 581.83,58.16C582.83,58.76 583.84,59.3 584.86,59.79C585.89,60.29 586.93,60.73 587.98,61.13C589.03,61.53 590.1,61.88 591.19,62.19C592.27,62.5 593.37,62.77 594.48,63C595.6,63.22 596.73,63.41 597.87,63.56C599.01,63.71 600.17,63.82 601.35,63.9C602.52,63.97 602.84,63.96 604.92,64.03C606.99,64.09 611.22,63.74 613.8,64.3C616.38,64.86 618.57,66.78 620.4,67.4C622.23,68.02 623.52,68.8 624.8,68C626.08,67.2 627.02,66.8 628.1,62.6C629.18,58.4 630.22,51.57 631.3,42.8C632.38,34.03 634.05,15.47 634.6,10" stroke="#fc8d62" stroke-width="1.6" fill="none" stroke-linejoin="round" stroke-linecap="butt"/>
<path d="M662.5,10L662.5,190" stroke="#fc8d62" stroke-width="1.6" fill="none" stroke-linejoin="round" stroke-linecap="butt"/>
<path d="M403.68,115.23C404.27,115.18 406.06,115.04 407.24,114.92C408.43,114.81 409.61,114.68 410.78,114.55C411.96,114.41 413.13,114.26 414.3,114.11C415.47,113.95 416.64,113.78 417.8,113.61C418.97,113.44 420.13,113.26 421.29,113.07C422.45,112.88 423.61,112.68 424.76,112.48C425.92,112.28 427.07,112.07 428.22,111.86C429.38,111.64 430.53,111.43 431.68,111.21C432.83,110.98 433.98,110.76 435.13,110.53C436.28,110.31 437.43,110.08 438.58,109.84C439.73,109.61 440.88,109.38 442.03,109.15C443.19,108.92 444.34,108.68 445.49,108.45C446.64,108.22 447.8,107.99 448.95,107.76C450.11,107.53 451.26,107.3 452.42,107.08C453.58,106.86 454.74,106.64 455.91,106.42C457.07,106.2 458.24,105.99 459.41,105.79C460.58,105.58 461.75,105.38 462.93,105.18C464.1,104.99 465.28,104.8 466.45,104.6C467.63,104.4 468.81,104.21 469.98,104C471.15,103.79 472.32,103.58 473.49,103.35C474.65,103.12 475.81,102.88 476.96,102.62C478.11,102.35 479.25,102.07 480.38,101.76C481.51,101.45 482.63,101.12 483.73,100.74C484.84,100.37 485.93,99.97 487.01,99.54C488.08,99.1 489.14,98.63 490.19,98.13C491.25,97.64 492.28,97.11 493.31,96.56C494.34,96.01 495.36,95.43 496.36,94.83C497.37,94.24 498.37,93.62 499.37,92.99C500.36,92.35 501.35,91.7 502.33,91.04C503.31,90.38 504.29,89.71 505.26,89.03C506.24,88.35 507.21,87.66 508.18,86.98C509.15,86.29 510.12,85.59 511.09,84.9C512.06,84.21 513.03,83.52 514,82.83C514.98,82.15 515.95,81.47 516.93,80.8C517.92,80.13 518.9,79.47 519.89,78.83C520.88,78.18 521.88,77.55 522.89,76.94C523.89,76.33 524.91,75.73 525.93,75.16C526.96,74.59 527.99,74.04 529.04,73.52C530.09,73 531.14,72.5 532.22,72.04C533.29,71.58 534.37,71.14 535.48,70.75C536.58,70.35 537.7,69.99 538.83,69.67C539.96,69.35 541.12,69.07 542.27,68.84C543.43,68.61 544.6,68.42 545.77,68.29C546.93,68.17 548.11,68.09 549.27,68.07C550.44,68.06 551.6,68.1 552.75,68.22C553.9,68.33 555.04,68.51 556.16,68.77C557.28,69.02 558.39,69.35 559.47,69.76C560.55,70.17 561.61,70.66 562.66,71.2C563.7,71.73 564.72,72.35 565.74,72.97C566.76,73.6 567.77,74.28 568.77,74.96C569.78,75.63 570.77,76.34 571.78,77.03C572.78,77.71 573.78,78.41 574.8,79.06C575.81,79.7 576.83,80.34 577.87,80.92C578.9,81.49 579.95,82.02 581.02,82.5C582.09,82.97 583.17,83.39 584.27,83.76C585.37,84.12 586.48,84.44 587.6,84.71C588.73,84.98 589.87,85.19 591.01,85.37C592.16,85.54 593.33,85.67 594.5,85.75C595.67,85.84 596.86,85.86 598.04,85.88C599.23,85.89 600.43,85.85 601.62,85.85C602.81,85.85 603.5,85.74 605.16,85.86C606.83,85.99 609.43,85.56 611.6,86.6C613.77,87.64 616.37,89.87 618.2,92.1C620.03,94.33 620.77,96.87 622.6,100C624.43,103.13 627.38,107.25 629.2,110.9C631.02,114.55 632.23,117.52 633.5,121.9C634.77,126.28 635.88,132.08 636.8,137.2C637.72,142.32 638.38,147.12 639,152.6C639.62,158.08 640.03,163.87 640.5,170.1C640.97,176.33 641.58,186.68 641.8,190" stroke="#8da0cb" stroke-width="1.6" fill="none" stroke-linejoin="round" stroke-linecap="butt"/>
<path d="M650,190C650.13,175 650.38,130 650.8,100C651.22,70 652.22,25 652.5,10" stroke="#8da0cb" stroke-width="1.6" fill="none" stroke-linejoin="round" stroke-linecap="butt"/>
<path d="M665.9,10L665.9,190" stroke="#8da0cb" stroke-width="1.6" fill="none" stroke-linejoin="round" stroke-linecap="butt"/>
<path d="M403.69,107.61C404.28,107.66 406.04,107.81 407.21,107.9C408.38,107.98 409.55,108.07 410.72,108.14C411.89,108.21 413.06,108.28 414.23,108.34C415.4,108.4 416.56,108.45 417.73,108.49C418.9,108.54 420.06,108.57 421.23,108.6C422.39,108.63 423.56,108.66 424.72,108.67C425.89,108.69 427.05,108.7 428.21,108.7C429.38,108.71 430.54,108.7 431.7,108.69C432.86,108.68 434.03,108.66 435.19,108.64C436.35,108.61 437.51,108.58 438.67,108.54C439.83,108.5 441,108.46 442.16,108.41C443.32,108.36 444.48,108.3 445.64,108.24C446.8,108.17 447.96,108.1 449.13,108.02C450.29,107.95 451.45,107.86 452.61,107.77C453.77,107.68 454.93,107.59 456.1,107.49C457.26,107.38 458.42,107.28 459.59,107.16C460.75,107.05 461.91,106.93 463.08,106.8C464.24,106.67 465.41,106.54 466.57,106.39C467.73,106.25 468.9,106.1 470.06,105.93C471.21,105.76 472.37,105.58 473.53,105.39C474.68,105.2 475.83,104.99 476.98,104.77C478.13,104.54 479.27,104.3 480.41,104.04C481.55,103.78 482.68,103.5 483.81,103.2C484.94,102.9 486.06,102.57 487.17,102.23C488.29,101.88 489.39,101.51 490.49,101.12C491.59,100.72 492.68,100.31 493.77,99.88C494.86,99.45 495.94,99 497.03,98.55C498.11,98.09 499.18,97.62 500.25,97.15C501.33,96.67 502.4,96.18 503.47,95.7C504.54,95.22 505.61,94.72 506.67,94.24C507.74,93.75 508.81,93.26 509.88,92.79C510.95,92.31 512.02,91.83 513.09,91.37C514.17,90.91 515.24,90.46 516.32,90.02C517.4,89.59 518.49,89.16 519.57,88.76C520.66,88.36 521.76,87.98 522.86,87.62C523.96,87.26 525.06,86.93 526.18,86.62C527.29,86.32 528.41,86.04 529.54,85.8C530.67,85.56 531.81,85.34 532.96,85.17C534.1,85 535.27,84.86 536.43,84.77C537.59,84.67 538.77,84.62 539.93,84.62C541.1,84.61 542.28,84.65 543.44,84.75C544.6,84.84 545.76,84.99 546.91,85.19C548.05,85.4 549.19,85.65 550.3,85.97C551.42,86.3 552.52,86.68 553.59,87.12C554.67,87.57 555.72,88.08 556.75,88.64C557.78,89.19 558.78,89.81 559.75,90.46C560.72,91.11 561.67,91.81 562.58,92.53C563.5,93.25 564.38,94.02 565.25,94.8C566.11,95.58 566.95,96.4 567.78,97.22C568.61,98.05 569.41,98.91 570.21,99.77C571.01,100.63 571.79,101.5 572.57,102.38C573.36,103.26 574.13,104.15 574.91,105.03C575.68,105.91 576.46,106.8 577.24,107.67C578.03,108.54 578.81,109.4 579.62,110.25C580.42,111.1 581.23,111.94 582.05,112.76C582.87,113.59 583.7,114.4 584.54,115.19C585.38,115.99 586.24,116.78 587.1,117.55C587.96,118.33 588.83,119.09 589.71,119.85C590.59,120.6 591.48,121.35 592.37,122.08C593.27,122.81 594.17,123.54 595.09,124.26C596,124.97 596.92,125.68 597.85,126.38C598.78,127.08 598.38,126.85 600.67,128.46C602.96,130.08 608.49,133.91 611.6,136.1C614.71,138.29 617.28,140.5 619.3,141.6C621.32,142.7 622.42,143.43 623.7,142.7C624.98,141.97 626.02,140.3 627,137.2C627.98,134.1 628.88,128.48 629.6,124.1C630.32,119.72 630.75,114.92 631.3,110.9C631.85,106.88 632.28,105.15 632.9,100C633.52,94.85 634.35,86.67 635,80C635.65,73.33 636.02,64.43 636.8,60C637.58,55.57 638.72,54.5 639.7,53.4C640.68,52.3 641.9,48.97 642.7,53.4C643.5,57.83 644.02,72.23 644.5,80C644.98,87.77 645.23,81.67 645.6,100C645.97,118.33 646.52,175 646.7,190" stroke="#e78ac3" stroke-width="1.6" fill="none" stroke-linejoin="round" stroke-linecap="butt"/>
<path d="M653.2,190L655,10" stroke="#e78ac3" stroke-width="1.6" fill="none" stroke-linejoin="round" stroke-linecap="butt"/>
<path d="M664.2,10L664.2,190" stroke="#e78ac3" stroke-width="1.6" fill="none" stroke-linejoin="round" stroke-linecap="butt"/>
<path d="M403.69,95.85C404.28,95.89 406.04,95.99 407.22,96.06C408.39,96.13 409.57,96.19 410.75,96.25C411.92,96.31 413.1,96.36 414.28,96.41C415.45,96.47 416.63,96.51 417.81,96.56C418.99,96.61 420.16,96.65 421.34,96.7C422.52,96.74 423.7,96.78 424.88,96.82C426.06,96.86 427.24,96.89 428.41,96.93C429.59,96.97 430.77,97 431.95,97.03C433.13,97.07 434.31,97.1 435.49,97.14C436.67,97.17 437.85,97.2 439.03,97.23C440.21,97.27 441.39,97.3 442.57,97.33C443.75,97.37 444.93,97.4 446.11,97.44C447.29,97.47 448.47,97.51 449.64,97.55C450.82,97.59 452,97.63 453.18,97.67C454.36,97.71 455.54,97.75 456.72,97.8C457.89,97.85 459.07,97.89 460.25,97.94C461.43,98 462.6,98.05 463.78,98.11C464.96,98.16 466.13,98.22 467.31,98.29C468.48,98.35 469.66,98.42 470.83,98.49C472.01,98.57 473.18,98.64 474.36,98.72C475.53,98.8 476.7,98.89 477.88,98.98C479.05,99.07 480.22,99.17 481.39,99.27C482.56,99.37 483.73,99.47 484.9,99.59C486.07,99.7 487.24,99.82 488.41,99.94C489.58,100.07 490.74,100.2 491.91,100.34C493.08,100.47 494.24,100.62 495.41,100.77C496.57,100.92 497.74,101.08 498.9,101.25C500.06,101.41 501.22,101.59 502.38,101.77C503.54,101.95 504.7,102.15 505.86,102.34C507.02,102.54 508.18,102.75 509.34,102.97C510.49,103.19 511.65,103.41 512.8,103.65C513.96,103.88 515.11,104.12 516.26,104.37C517.41,104.62 518.56,104.88 519.71,105.14C520.87,105.4 522.01,105.67 523.16,105.94C524.31,106.21 525.46,106.49 526.61,106.77C527.76,107.05 528.9,107.34 530.05,107.63C531.2,107.91 532.34,108.21 533.49,108.5C534.63,108.79 535.78,109.08 536.93,109.38C538.07,109.67 539.22,109.96 540.36,110.26C541.5,110.55 542.65,110.85 543.79,111.14C544.94,111.43 546.08,111.72 547.23,112C548.37,112.29 549.52,112.58 550.66,112.86C551.81,113.14 552.95,113.41 554.1,113.69C555.24,113.96 556.39,114.22 557.54,114.49C558.68,114.75 559.83,115 560.97,115.26C562.12,115.52 563.26,115.77 564.4,116.04C565.55,116.3 566.69,116.57 567.82,116.85C568.96,117.13 570.09,117.42 571.22,117.73C572.35,118.03 573.47,118.35 574.59,118.7C575.71,119.04 576.82,119.41 577.93,119.8C579.03,120.19 580.13,120.61 581.23,121.06C582.32,121.5 583.4,121.97 584.49,122.45C585.57,122.93 586.65,123.43 587.73,123.93C588.8,124.44 589.88,124.96 590.95,125.48C592.03,125.99 593.1,126.52 594.18,127.02C595.26,127.52 596.33,128.02 597.42,128.48C598.51,128.94 598.68,129.17 600.7,129.79C602.71,130.41 607.13,131.88 609.5,132.2C611.87,132.52 613.27,132.5 614.9,131.7C616.53,130.9 618.02,129.4 619.3,127.4C620.58,125.4 621.68,122.8 622.6,119.7C623.52,116.6 624.15,112.08 624.8,108.8C625.45,105.52 625.77,106.47 626.5,100C627.23,93.53 628.28,80 629.2,70C630.12,60 631.1,50 632,40C632.9,30 634.17,15 634.6,10" stroke="#a6d854" stroke-width="1.6" fill="none" stroke-linejoin="round" stroke-linecap="butt"/>
<path d="M645.6,10L645.6,60" stroke="#a6d854" stroke-width="1.6" fill="none" stroke-linejoin="round" stroke-linecap="butt"/>
<path d="M668.6,10L668.6,190" stroke="#a6d854" stroke-width="1.6" fill="none" stroke-linejoin="round" stroke-linecap="butt"/>
<path d="M403.69,71.32C404.25,71.49 405.93,71.98 407.06,72.29C408.19,72.61 409.32,72.92 410.45,73.24C411.58,73.56 412.71,73.87 413.84,74.19C414.97,74.51 416.09,74.83 417.22,75.16C418.34,75.5 419.46,75.84 420.58,76.2C421.69,76.55 422.8,76.93 423.9,77.31C425.01,77.7 426.1,78.1 427.2,78.51C428.29,78.92 429.38,79.34 430.47,79.77C431.55,80.19 432.64,80.62 433.73,81.05C434.81,81.48 435.9,81.91 436.99,82.33C438.07,82.76 439.16,83.18 440.26,83.59C441.35,84 442.45,84.41 443.55,84.8C444.66,85.18 445.77,85.56 446.88,85.93C447.99,86.29 449.11,86.65 450.24,86.99C451.36,87.34 452.48,87.68 453.61,88.01C454.74,88.34 455.87,88.67 457,88.99C458.14,89.32 459.27,89.63 460.4,89.95C461.53,90.27 462.67,90.59 463.8,90.91C464.93,91.23 466.06,91.55 467.19,91.88C468.32,92.21 469.45,92.54 470.57,92.88C471.7,93.22 472.82,93.56 473.93,93.91C475.05,94.27 476.16,94.63 477.26,95.01C478.37,95.39 479.47,95.77 480.56,96.18C481.65,96.58 482.74,96.99 483.82,97.43C484.89,97.87 485.96,98.32 487.02,98.79C488.09,99.26 489.14,99.75 490.18,100.26C491.22,100.77 492.26,101.29 493.29,101.83C494.32,102.37 495.34,102.93 496.36,103.49C497.38,104.06 498.39,104.63 499.4,105.22C500.41,105.8 501.42,106.39 502.43,106.98C503.43,107.58 504.44,108.18 505.44,108.78C506.45,109.38 507.45,109.98 508.46,110.58C509.47,111.17 510.48,111.77 511.49,112.36C512.51,112.96 513.52,113.54 514.54,114.13C515.55,114.72 516.57,115.31 517.59,115.89C518.6,116.48 519.62,117.06 520.64,117.65C521.65,118.24 522.67,118.82 523.69,119.41C524.7,120 525.72,120.59 526.73,121.18C527.74,121.77 528.75,122.37 529.76,122.97C530.77,123.56 531.78,124.17 532.78,124.77C533.78,125.38 534.78,125.99 535.77,126.61C536.77,127.23 537.76,127.85 538.74,128.48C539.72,129.11 540.7,129.75 541.68,130.39C542.65,131.04 543.62,131.69 544.58,132.35C545.54,133.01 546.5,133.68 547.44,134.36C548.39,135.04 549.33,135.73 550.27,136.42C551.21,137.12 552.14,137.82 553.06,138.53C553.99,139.24 554.91,139.95 555.83,140.67C556.75,141.39 557.66,142.12 558.58,142.84C559.49,143.57 560.4,144.3 561.31,145.04C562.22,145.77 563.12,146.51 564.03,147.24C564.94,147.98 565.84,148.72 566.75,149.46C567.65,150.2 568.56,150.94 569.47,151.67C570.38,152.41 571.29,153.15 572.2,153.88C573.11,154.61 574.03,155.34 574.94,156.07C575.86,156.79 576.78,157.52 577.71,158.24C578.63,158.95 579.56,159.67 580.5,160.37C581.43,161.08 582.37,161.78 583.32,162.47C584.27,163.16 585.22,163.85 586.18,164.52C587.14,165.2 588.11,165.87 589.08,166.53C590.06,167.18 591.04,167.83 592.03,168.47C593.02,169.11 594.01,169.74 595,170.38C595.99,171.02 596.98,171.66 597.96,172.3C598.94,172.95 598.95,172.81 600.87,174.26C602.8,175.71 606.98,178.38 609.5,181C612.02,183.62 614.92,188.5 616,190" stroke="#ffd92f" stroke-width="1.8" fill="none" stroke-linejoin="round" stroke-linecap="butt"/>
<path d="M628.5,190C629.15,187.4 631.38,178.27 632.4,174.4C633.42,170.53 633.97,168.37 634.6,166.8C635.23,165.23 635.65,164.82 636.2,165C636.75,165.18 637.25,165.6 637.9,167.9C638.55,170.2 639.45,175.12 640.1,178.8C640.75,182.48 641.52,188.13 641.8,190" stroke="#ffd92f" stroke-width="1.8" fill="none" stroke-linejoin="round" stroke-linecap="butt"/>
<path d="M648.9,10L651,60" stroke="#ffd92f" stroke-width="1.8" fill="none" stroke-linejoin="round" stroke-linecap="butt"/>
<path d="M655.6,100L655.6,190" stroke="#ffd92f" stroke-width="1.8" fill="none" stroke-linejoin="round" stroke-linecap="butt"/>
<path d="M670.5,10L670.5,190" stroke="#ffd92f" stroke-width="1.8" fill="none" stroke-linejoin="round" stroke-linecap="butt"/>
<path d="M403.68,65.82C404.23,66.04 405.87,66.72 406.96,67.17C408.05,67.62 409.13,68.07 410.22,68.53C411.31,68.98 412.39,69.43 413.48,69.88C414.56,70.34 415.65,70.79 416.73,71.24C417.81,71.7 418.89,72.15 419.97,72.6C421.05,73.05 422.14,73.51 423.22,73.96C424.3,74.41 425.38,74.86 426.46,75.31C427.54,75.76 428.61,76.21 429.69,76.66C430.77,77.11 431.85,77.56 432.93,78.01C434.02,78.45 435.1,78.9 436.18,79.35C437.26,79.79 438.34,80.23 439.42,80.67C440.51,81.12 441.59,81.56 442.67,81.99C443.76,82.43 444.85,82.87 445.93,83.3C447.02,83.74 448.11,84.17 449.2,84.6C450.29,85.03 451.38,85.46 452.47,85.88C453.57,86.31 454.66,86.73 455.76,87.15C456.86,87.57 457.96,87.99 459.06,88.4C460.16,88.82 461.27,89.23 462.37,89.64C463.48,90.05 464.59,90.45 465.7,90.86C466.81,91.26 467.93,91.65 469.04,92.06C470.16,92.46 471.27,92.85 472.39,93.26C473.5,93.66 474.61,94.07 475.71,94.49C476.82,94.91 477.92,95.33 479.01,95.77C480.1,96.21 481.19,96.66 482.26,97.13C483.33,97.6 484.4,98.08 485.45,98.59C486.5,99.1 487.53,99.62 488.55,100.17C489.57,100.72 490.58,101.3 491.57,101.9C492.55,102.5 493.52,103.14 494.47,103.8C495.42,104.45 496.35,105.14 497.27,105.85C498.19,106.55 499.1,107.28 499.99,108.03C500.89,108.77 501.77,109.54 502.64,110.32C503.51,111.1 504.37,111.9 505.23,112.71C506.08,113.51 506.93,114.34 507.77,115.16C508.61,115.99 509.45,116.83 510.29,117.66C511.12,118.5 511.95,119.35 512.79,120.19C513.62,121.04 514.45,121.88 515.28,122.73C516.12,123.57 516.95,124.41 517.8,125.24C518.64,126.08 519.48,126.91 520.33,127.73C521.18,128.55 522.04,129.36 522.89,130.17C523.75,130.98 524.62,131.78 525.48,132.58C526.35,133.38 527.22,134.17 528.1,134.95C528.97,135.73 529.85,136.51 530.74,137.28C531.62,138.05 532.51,138.82 533.4,139.58C534.29,140.34 535.19,141.09 536.09,141.84C536.99,142.58 537.89,143.32 538.8,144.06C539.7,144.79 540.61,145.52 541.53,146.25C542.44,146.97 543.36,147.69 544.28,148.4C545.2,149.11 546.12,149.82 547.05,150.52C547.98,151.22 548.91,151.91 549.84,152.61C550.77,153.3 551.7,154 552.63,154.69C553.57,155.38 554.5,156.08 555.43,156.77C556.37,157.47 557.3,158.17 558.23,158.88C559.16,159.58 560.09,160.3 561.01,161.02C561.94,161.74 562.86,162.47 563.78,163.21C564.7,163.95 565.61,164.7 566.52,165.46C567.43,166.23 568.33,167.01 569.23,167.8C570.14,168.58 571.03,169.39 571.93,170.19C572.83,170.98 573.73,171.79 574.64,172.57C575.54,173.35 576.46,174.13 577.39,174.88C578.32,175.63 579.25,176.36 580.21,177.05C581.17,177.75 582.15,178.41 583.15,179.03C584.15,179.64 585.17,180.22 586.22,180.74C587.27,181.25 588.36,181.73 589.46,182.11C590.56,182.5 591.69,182.84 592.82,183.06C593.94,183.29 595.08,183.44 596.19,183.46C597.3,183.47 598.41,183.4 599.47,183.16C600.53,182.93 600.86,183.52 602.53,182.06C604.2,180.6 607.44,176.94 609.5,174.4C611.56,171.86 613.27,168.37 614.9,166.8C616.53,165.23 618.02,164.82 619.3,165C620.58,165.18 621.5,165.97 622.6,167.9C623.7,169.83 624.75,172.92 625.9,176.6C627.05,180.28 628.9,187.77 629.5,190" stroke="#e5c494" stroke-width="1.6" fill="none" stroke-linejoin="round" stroke-linecap="butt"/>
<path d="M671.4,10L671.4,190" stroke="#e5c494" stroke-width="1.6" fill="none" stroke-linejoin="round" stroke-linecap="butt"/>
</g>
<path d="M403.4,15.2 V184.8 H684.9" stroke="#333" stroke-width="1" fill="none" stroke-linecap="square"/>
<path d="M422.1,184.8 v3.6 M484.5,184.8 v3.6 M546.9,184.8 v3.6 M609.3,184.8 v3.6 M671.7,184.8 v3.6 M403.4,24.1 h-3.6 M403.4,49.2 h-3.6 M403.4,74.4 h-3.6 M403.4,99.5 h-3.6 M403.4,124.6 h-3.6 M403.4,149.8 h-3.6 M403.4,174.9 h-3.6" stroke="#333" stroke-width="0.9" fill="none"/>
<path d="M408.26,184.8 v2.1 M412.43,184.8 v2.1 M416.05,184.8 v2.1 M419.24,184.8 v2.1 M440.88,184.8 v2.1 M451.87,184.8 v2.1 M459.67,184.8 v2.1 M465.72,184.8 v2.1 M470.66,184.8 v2.1 M474.83,184.8 v2.1 M478.45,184.8 v2.1 M481.64,184.8 v2.1 M503.28,184.8 v2.1 M514.27,184.8 v2.1 M522.07,184.8 v2.1 M528.12,184.8 v2.1 M533.06,184.8 v2.1 M537.23,184.8 v2.1 M540.85,184.8 v2.1 M544.04,184.8 v2.1 M565.68,184.8 v2.1 M576.67,184.8 v2.1 M584.47,184.8 v2.1 M590.52,184.8 v2.1 M595.46,184.8 v2.1 M599.63,184.8 v2.1 M603.25,184.8 v2.1 M606.44,184.8 v2.1 M628.08,184.8 v2.1 M639.07,184.8 v2.1 M646.87,184.8 v2.1 M652.92,184.8 v2.1 M657.86,184.8 v2.1 M662.03,184.8 v2.1 M665.65,184.8 v2.1 M668.84,184.8 v2.1" stroke="#333" stroke-width="0.8" fill="none"/>
<text x="409.5" y="199.8" font-size="11" textLength="13.5" lengthAdjust="spacingAndGlyphs">10</text>
<text x="423.1" y="196.05" font-size="8.1" textLength="10.9" lengthAdjust="spacingAndGlyphs">−4</text>
<text x="471.9" y="199.8" font-size="11" textLength="13.5" lengthAdjust="spacingAndGlyphs">10</text>
<text x="485.5" y="196.05" font-size="8.1" textLength="10.9" lengthAdjust="spacingAndGlyphs">−3</text>
<text x="534.3" y="199.8" font-size="11" textLength="13.5" lengthAdjust="spacingAndGlyphs">10</text>
<text x="547.9" y="196.05" font-size="8.1" textLength="10.9" lengthAdjust="spacingAndGlyphs">−2</text>
<text x="596.7" y="199.8" font-size="11" textLength="13.5" lengthAdjust="spacingAndGlyphs">10</text>
<text x="610.3" y="196.05" font-size="8.1" textLength="10.9" lengthAdjust="spacingAndGlyphs">−1</text>
<text x="662.5" y="199.8" font-size="11" textLength="13.5" lengthAdjust="spacingAndGlyphs">10</text>
<text x="676.1" y="196.05" font-size="8.1" textLength="4.5" lengthAdjust="spacingAndGlyphs">0</text>
<text x="396" y="28.05" font-size="10.7" text-anchor="end" textLength="29.3" lengthAdjust="spacingAndGlyphs">1.015</text>
<text x="396" y="53.15" font-size="10.7" text-anchor="end" textLength="29.3" lengthAdjust="spacingAndGlyphs">1.010</text>
<text x="396" y="78.35" font-size="10.7" text-anchor="end" textLength="29.3" lengthAdjust="spacingAndGlyphs">1.005</text>
<text x="396" y="103.45" font-size="10.7" text-anchor="end" textLength="29.3" lengthAdjust="spacingAndGlyphs">1.000</text>
<text x="396" y="128.55" font-size="10.7" text-anchor="end" textLength="29.3" lengthAdjust="spacingAndGlyphs">0.995</text>
<text x="396" y="153.75" font-size="10.7" text-anchor="end" textLength="29.3" lengthAdjust="spacingAndGlyphs">0.990</text>
<text x="396" y="178.85" font-size="10.7" text-anchor="end" textLength="29.3" lengthAdjust="spacingAndGlyphs">0.985</text>
<text x="543.85" y="213.2" font-size="10.9" text-anchor="middle">x</text>
<text transform="translate(359.7,100) rotate(-90)" font-size="10.7" text-anchor="middle" textLength="105.5" lengthAdjust="spacingAndGlyphs">Ratio to α<tspan font-size="7.21" dy="1.8" font-style="italic">s</tspan><tspan dy="-1.8"> = 0.1180</tspan></text>
<text x="543.05" y="9.3" font-size="12.3" text-anchor="middle" textLength="82.2" lengthAdjust="spacingAndGlyphs">u at 100 GeV</text>
<path d="M504.9,0.4 h4.4" stroke="#000" stroke-width="0.9"/>
<rect x="598.1" y="19.7" width="83.6" height="95.8" rx="2" fill="#fff" fill-opacity="0.6" stroke="#ccc" stroke-opacity="0.8" stroke-width="0.8"/>
<g><clipPath id="lc2"><rect x="601.6" y="23.7" width="18.4" height="6.6"/></clipPath>
<rect x="601.6" y="23.7" width="18.4" height="6.6" fill="#66c2a5" fill-opacity="0.5"/>
<path d="M567.84,31.3 L576.44,22.7 M589.55,31.3 L598.15,22.7 M611.26,31.3 L619.86,22.7 M632.97,31.3 L641.57,22.7" stroke="#555" stroke-width="0.8" clip-path="url(#lc2)"/>
<rect x="601.6" y="23.7" width="18.4" height="6.6" fill="none" stroke="#555" stroke-width="0.9"/></g>
<text x="626.3" y="30.3" font-size="9.7" textLength="50.5" lengthAdjust="spacingAndGlyphs">α<tspan font-size="6.79" dy="1.6" font-style="italic">s</tspan><tspan dy="-1.6"> = 0.1180</tspan></text>
<path d="M601.6,40.31 H620" stroke="#fc8d62" stroke-width="1.6" fill="none"/>
<text x="626.3" y="43.61" font-size="9.7" textLength="50.5" lengthAdjust="spacingAndGlyphs">α<tspan font-size="6.79" dy="1.6" font-style="italic">s</tspan><tspan dy="-1.6"> = 0.1160</tspan></text>
<path d="M601.6,53.62 H620" stroke="#8da0cb" stroke-width="1.6" fill="none"/>
<text x="626.3" y="56.92" font-size="9.7" textLength="50.5" lengthAdjust="spacingAndGlyphs">α<tspan font-size="6.79" dy="1.6" font-style="italic">s</tspan><tspan dy="-1.6"> = 0.1170</tspan></text>
<path d="M601.6,66.93 H620" stroke="#e78ac3" stroke-width="1.6" fill="none"/>
<text x="626.3" y="70.23" font-size="9.7" textLength="50.5" lengthAdjust="spacingAndGlyphs">α<tspan font-size="6.79" dy="1.6" font-style="italic">s</tspan><tspan dy="-1.6"> = 0.1175</tspan></text>
<path d="M601.6,80.24 H620" stroke="#a6d854" stroke-width="1.6" fill="none"/>
<text x="626.3" y="83.54" font-size="9.7" textLength="50.5" lengthAdjust="spacingAndGlyphs">α<tspan font-size="6.79" dy="1.6" font-style="italic">s</tspan><tspan dy="-1.6"> = 0.1188</tspan></text>
<path d="M601.6,93.55 H620" stroke="#ffd92f" stroke-width="1.8" fill="none"/>
<text x="626.3" y="96.85" font-size="9.7" textLength="50.5" lengthAdjust="spacingAndGlyphs">α<tspan font-size="6.79" dy="1.6" font-style="italic">s</tspan><tspan dy="-1.6"> = 0.1190</tspan></text>
<path d="M601.6,106.86 H620" stroke="#e5c494" stroke-width="1.6" fill="none"/>
<text x="626.3" y="110.16" font-size="9.7" textLength="50.5" lengthAdjust="spacingAndGlyphs">α<tspan font-size="6.79" dy="1.6" font-style="italic">s</tspan><tspan dy="-1.6"> = 0.1200</tspan></text>
</g>
<g id="p3">
<path d="M70.5,251.5 V421.1 M132.9,251.5 V421.1 M195.3,251.5 V421.1 M257.7,251.5 V421.1 M320.1,251.5 V421.1 M51.7,289.2 H333.2 M51.7,330 H333.2 M51.7,370.8 H333.2 M51.7,411.6 H333.2" stroke="#f3f3f3" stroke-width="0.8" fill="none"/>
<clipPath id="ax3"><rect x="51.7" y="251.5" width="281.5" height="169.6"/></clipPath>
<g clip-path="url(#ax3)">
<clipPath id="bd3"><path d="M51.5,240L89.4,240L89.4,251.5L92.7,255.9L96,263.5L99.3,266.1L102.6,264.6L106.9,270.1L111.3,274.5L115.7,275.6L120.1,274.5L125.5,276.7L127.7,278.4L129.9,274.5L134.3,274.5L138.7,275.6L142,273.4L146.3,270.1L150.7,266.8L155.1,261.3L158.4,254.8L160.6,251.5L161,240L320.2,240L320.2,430L173,430L172.6,421L169.3,415.9L166.1,409.4L162.8,405L158.4,410.5L155.1,400.6L151.8,401.7L148.5,395.1L145.3,386.4L142,378.7L138.7,374.3L134.3,379.8L129.9,380.9L125.5,379.8L121.2,380.9L116.8,382L113.5,377.2L110.2,377.2L106.9,382L103.6,392.9L101.5,400.6L97.1,402.8L92.7,403.9L89.4,408.3L86.1,413.7L82.8,421L82.8,430L51.5,430Z"/></clipPath>
<path d="M51.5,240L89.4,240L89.4,251.5L92.7,255.9L96,263.5L99.3,266.1L102.6,264.6L106.9,270.1L111.3,274.5L115.7,275.6L120.1,274.5L125.5,276.7L127.7,278.4L129.9,274.5L134.3,274.5L138.7,275.6L142,273.4L146.3,270.1L150.7,266.8L155.1,261.3L158.4,254.8L160.6,251.5L161,240L320.2,240L320.2,430L173,430L172.6,421L169.3,415.9L166.1,409.4L162.8,405L158.4,410.5L155.1,400.6L151.8,401.7L148.5,395.1L145.3,386.4L142,378.7L138.7,374.3L134.3,379.8L129.9,380.9L125.5,379.8L121.2,380.9L116.8,382L113.5,377.2L110.2,377.2L106.9,382L103.6,392.9L101.5,400.6L97.1,402.8L92.7,403.9L89.4,408.3L86.1,413.7L82.8,421L82.8,430L51.5,430Z" fill="#b3e1d2" stroke="#66c2a5" stroke-opacity="0.5" stroke-width="0.6"/>
<path d="M50.7,215.94 L16.14,250.5 M50.7,237.65 L37.85,250.5 M50.7,259.36 L59.56,250.5 M50.7,281.07 L81.27,250.5 M50.7,302.78 L102.98,250.5 M50.7,324.49 L124.69,250.5 M50.7,346.2 L146.4,250.5 M50.7,367.91 L168.11,250.5 M50.7,389.62 L189.82,250.5 M50.7,411.33 L211.53,250.5 M50.7,433.04 L233.24,250.5 M50.7,454.75 L254.95,250.5 M50.7,476.46 L276.66,250.5 M50.7,498.17 L298.37,250.5 M50.7,519.88 L320.08,250.5 M50.7,541.59 L341.79,250.5 M50.7,563.3 L363.5,250.5 M50.7,585.01 L385.21,250.5 M50.7,606.72 L406.92,250.5 M50.7,628.43 L428.63,250.5 M50.7,650.14 L450.34,250.5 M50.7,671.85 L472.05,250.5 M50.7,693.56 L493.76,250.5 M50.7,715.27 L515.47,250.5" stroke="#62c0a2" stroke-width="1.15" fill="none" clip-path="url(#bd3)"/>
<path d="M51.7,330 H320.1" stroke="#66c2a5" stroke-opacity="1" stroke-width="1.5" fill="none"/>
<path d="M51.48,413.23C51.91,412.81 53.23,411.57 54.09,410.74C54.95,409.91 55.81,409.07 56.66,408.24C57.51,407.4 58.35,406.57 59.19,405.73C60.03,404.9 60.86,404.06 61.69,403.22C62.52,402.38 63.34,401.54 64.16,400.71C64.98,399.87 65.8,399.03 66.62,398.19C67.44,397.36 68.25,396.52 69.07,395.69C69.88,394.85 70.69,394.02 71.51,393.19C72.32,392.36 73.14,391.53 73.95,390.7C74.77,389.88 75.59,389.05 76.41,388.23C77.23,387.41 78.05,386.59 78.87,385.78C79.7,384.96 80.53,384.15 81.36,383.34C82.2,382.54 83.04,381.74 83.88,380.94C84.73,380.14 85.58,379.35 86.44,378.56C87.3,377.77 88.16,376.99 89.03,376.21C89.91,375.44 90.79,374.66 91.68,373.9C92.57,373.14 93.46,372.38 94.37,371.63C95.28,370.88 96.2,370.13 97.13,369.39C98.06,368.66 99.01,367.93 99.96,367.21C100.91,366.49 101.88,365.78 102.85,365.08C103.83,364.38 104.82,363.69 105.82,363.02C106.81,362.35 107.82,361.69 108.84,361.05C109.85,360.41 110.88,359.79 111.92,359.19C112.95,358.59 114,358.01 115.05,357.45C116.11,356.89 117.17,356.36 118.24,355.85C119.31,355.34 120.39,354.85 121.48,354.4C122.57,353.95 123.66,353.52 124.76,353.12C125.87,352.73 126.97,352.36 128.09,352.03C129.21,351.7 130.33,351.4 131.46,351.15C132.58,350.89 133.72,350.66 134.86,350.48C136,350.3 137.14,350.15 138.29,350.05C139.44,349.94 140.6,349.89 141.76,349.85C142.92,349.82 144.08,349.82 145.25,349.85C146.42,349.87 147.59,349.92 148.77,349.98C149.94,350.05 151.12,350.13 152.3,350.22C153.48,350.31 154.67,350.41 155.85,350.51C157.04,350.6 158.22,350.71 159.41,350.8C160.6,350.88 161.79,350.97 162.98,351.04C164.17,351.11 165.37,351.17 166.56,351.19C167.75,351.22 168.94,351.23 170.14,351.21C171.33,351.18 172.52,351.13 173.71,351.04C174.89,350.95 176.07,350.82 177.24,350.65C178.41,350.48 179.56,350.28 180.7,350.02C181.83,349.76 182.95,349.46 184.04,349.11C185.13,348.76 186.2,348.36 187.23,347.9C188.26,347.44 189.27,346.93 190.23,346.35C191.19,345.78 192.12,345.15 192.99,344.45C193.87,343.75 194.71,342.98 195.49,342.15C196.27,341.31 197,340.4 197.68,339.43C198.36,338.47 198.98,337.42 199.58,336.35C200.18,335.29 200.73,334.16 201.28,333.03C201.82,331.91 202.33,330.75 202.84,329.61C203.35,328.47 203.84,327.31 204.35,326.21C204.86,325.1 205.37,324.01 205.9,322.96C206.42,321.91 206.96,320.9 207.5,319.9C208.04,318.89 208.59,317.92 209.13,316.94C209.67,315.96 210.22,314.99 210.76,314C211.3,313 211.83,312.01 212.35,310.98C212.88,309.96 213.39,308.91 213.91,307.85C214.42,306.79 214.93,305.72 215.44,304.64C215.96,303.56 216.47,302.47 217,301.39C217.53,300.32 218.06,299.23 218.61,298.16C219.16,297.09 219.72,296.03 220.3,294.99C220.89,293.95 221.49,292.91 222.12,291.91C222.75,290.92 223.4,289.93 224.09,288.99C224.78,288.05 225.49,287.13 226.25,286.26C227,285.39 227.79,284.56 228.63,283.77C229.46,282.99 230.34,282.25 231.26,281.57C232.18,280.89 233.16,280.27 234.17,279.68C235.17,279.09 236.23,278.56 237.29,278.03C238.34,277.5 239.44,277.01 240.51,276.5C241.59,275.99 242.69,275.5 243.75,274.97C244.82,274.44 245.88,273.92 246.9,273.33C247.92,272.75 248.92,272.14 249.86,271.46C250.8,270.78 251.7,270.05 252.54,269.25C253.38,268.45 254.16,267.57 254.9,266.66C255.65,265.75 255.95,265.41 257,263.78C258.05,262.15 259.53,260.03 261.2,256.9C262.87,253.77 266.03,246.98 267,245" stroke="#fc8d62" stroke-width="1.6" fill="none" stroke-linejoin="round" stroke-linecap="butt"/>
<path d="M302.9,245C302.95,260.83 302.85,309.17 303.2,340C303.55,370.83 304.7,415 305,430" stroke="#fc8d62" stroke-width="1.6" fill="none" stroke-linejoin="round" stroke-linecap="butt"/>
<path d="M51.53,346.79C52.1,346.62 53.79,346.09 54.92,345.75C56.06,345.42 57.19,345.1 58.33,344.79C59.47,344.47 60.61,344.17 61.76,343.88C62.9,343.59 64.05,343.32 65.2,343.05C66.35,342.78 67.51,342.52 68.66,342.27C69.82,342.02 70.97,341.78 72.13,341.55C73.29,341.32 74.45,341.1 75.62,340.89C76.78,340.67 77.95,340.47 79.11,340.28C80.28,340.08 81.45,339.89 82.62,339.71C83.79,339.53 84.96,339.36 86.14,339.2C87.31,339.03 88.48,338.88 89.66,338.72C90.84,338.57 92.01,338.43 93.19,338.29C94.37,338.16 95.55,338.03 96.72,337.9C97.9,337.77 99.08,337.66 100.26,337.54C101.44,337.43 102.63,337.32 103.81,337.22C104.99,337.11 106.17,337.01 107.35,336.92C108.53,336.82 109.71,336.73 110.89,336.65C112.08,336.56 113.26,336.48 114.44,336.4C115.62,336.32 116.8,336.25 117.98,336.18C119.16,336.1 120.34,336.03 121.52,335.97C122.7,335.9 123.87,335.84 125.05,335.77C126.23,335.71 127.4,335.65 128.58,335.59C129.75,335.54 130.93,335.48 132.1,335.42C133.27,335.37 134.44,335.31 135.61,335.27C136.79,335.22 137.96,335.17 139.13,335.13C140.3,335.09 141.47,335.05 142.64,335.03C143.81,335 144.98,334.97 146.15,334.96C147.33,334.94 148.5,334.94 149.67,334.94C150.85,334.94 152.02,334.95 153.2,334.98C154.38,335 155.56,335.03 156.74,335.08C157.92,335.12 159.11,335.18 160.3,335.25C161.48,335.32 162.67,335.41 163.87,335.51C165.06,335.61 166.26,335.72 167.46,335.85C168.66,335.98 169.86,336.13 171.07,336.29C172.27,336.46 173.49,336.64 174.7,336.82C175.91,337 177.12,337.19 178.33,337.37C179.54,337.54 180.75,337.72 181.95,337.87C183.16,338.02 184.36,338.17 185.55,338.27C186.74,338.38 187.93,338.47 189.1,338.51C190.28,338.55 191.45,338.56 192.6,338.51C193.76,338.46 194.9,338.38 196.03,338.22C197.15,338.06 198.27,337.85 199.36,337.57C200.46,337.29 201.53,336.94 202.6,336.54C203.66,336.13 204.71,335.66 205.75,335.15C206.79,334.65 207.81,334.08 208.82,333.49C209.84,332.9 210.84,332.26 211.84,331.61C212.83,330.96 213.82,330.27 214.8,329.57C215.78,328.88 216.76,328.16 217.73,327.45C218.7,326.74 219.67,326.01 220.63,325.3C221.6,324.58 222.56,323.87 223.53,323.18C224.49,322.49 225.45,321.81 226.43,321.15C227.4,320.5 228.37,319.85 229.36,319.24C230.35,318.63 231.34,318.04 232.35,317.48C233.36,316.92 234.38,316.39 235.43,315.89C236.47,315.4 237.53,314.93 238.62,314.51C239.71,314.08 240.82,313.71 241.95,313.35C243.08,312.99 244.24,312.69 245.39,312.37C246.55,312.05 247.72,311.77 248.88,311.45C250.03,311.13 251.19,310.82 252.33,310.46C253.46,310.1 254,310.18 255.67,309.29C257.33,308.4 260.29,307.07 262.3,305.1C264.31,303.13 265.88,300.6 267.7,297.5C269.52,294.4 271.55,290.33 273.2,286.5C274.85,282.67 276.13,278.88 277.6,274.5C279.07,270.12 280.6,265.12 282,260.2C283.4,255.28 285.33,247.53 286,245" stroke="#8da0cb" stroke-width="1.6" fill="none" stroke-linejoin="round" stroke-linecap="butt"/>
<path d="M308.2,245L309.3,430" stroke="#8da0cb" stroke-width="1.6" fill="none" stroke-linejoin="round" stroke-linecap="butt"/>
<path d="M51.5,341.53C52.09,341.54 53.85,341.55 55.03,341.57C56.2,341.58 57.38,341.6 58.55,341.63C59.72,341.65 60.9,341.67 62.08,341.7C63.25,341.73 64.43,341.76 65.6,341.79C66.78,341.83 67.95,341.86 69.13,341.9C70.31,341.93 71.48,341.97 72.66,342.01C73.84,342.05 75.01,342.09 76.19,342.13C77.37,342.17 78.54,342.21 79.72,342.26C80.9,342.3 82.07,342.34 83.25,342.38C84.43,342.42 85.61,342.46 86.78,342.5C87.96,342.54 89.14,342.58 90.31,342.62C91.49,342.65 92.67,342.69 93.85,342.72C95.02,342.76 96.2,342.79 97.38,342.82C98.56,342.84 99.73,342.87 100.91,342.89C102.09,342.92 103.26,342.94 104.44,342.96C105.62,342.97 106.79,342.99 107.97,342.99C109.15,343 110.32,343.01 111.5,343.01C112.68,343.01 113.85,343 115.03,342.99C116.2,342.99 117.38,342.97 118.56,342.95C119.73,342.93 120.91,342.9 122.08,342.87C123.26,342.84 124.43,342.8 125.61,342.76C126.78,342.71 127.95,342.66 129.13,342.6C130.3,342.54 131.48,342.48 132.65,342.4C133.82,342.33 135,342.25 136.17,342.16C137.34,342.07 138.51,341.97 139.69,341.86C140.86,341.76 142.03,341.64 143.2,341.53C144.37,341.41 145.54,341.29 146.71,341.17C147.89,341.05 149.06,340.92 150.23,340.8C151.4,340.68 152.57,340.56 153.74,340.44C154.91,340.32 156.09,340.21 157.26,340.1C158.43,340 159.6,339.9 160.77,339.81C161.95,339.72 163.12,339.63 164.29,339.57C165.47,339.5 166.64,339.44 167.82,339.4C168.99,339.36 170.17,339.33 171.34,339.32C172.52,339.31 173.69,339.32 174.87,339.35C176.05,339.37 177.23,339.41 178.41,339.46C179.58,339.51 180.76,339.57 181.94,339.63C183.12,339.69 184.3,339.76 185.47,339.82C186.65,339.88 187.83,339.95 189.01,340C190.18,340.05 191.36,340.1 192.53,340.14C193.71,340.17 194.88,340.19 196.05,340.19C197.22,340.19 198.39,340.17 199.56,340.14C200.73,340.11 201.9,340.06 203.07,340C204.23,339.94 205.4,339.87 206.57,339.8C207.74,339.72 208.9,339.64 210.07,339.55C211.24,339.47 212.41,339.38 213.58,339.3C214.75,339.21 215.92,339.12 217.09,339.05C218.27,338.97 219.44,338.89 220.62,338.84C221.8,338.78 222.98,338.74 224.16,338.72C225.35,338.7 226.54,338.69 227.73,338.73C228.92,338.76 230.12,338.83 231.32,338.91C232.52,338.98 233.72,339.11 234.92,339.19C236.11,339.27 237.3,339.37 238.47,339.39C239.64,339.42 240.81,339.42 241.94,339.33C243.07,339.24 244.19,339.09 245.27,338.84C246.35,338.59 247.41,338.27 248.43,337.83C249.44,337.4 249.78,337.69 251.36,336.25C252.94,334.81 255.71,332.19 257.9,329.2C260.09,326.21 262.5,322.13 264.5,318.3C266.5,314.47 268.08,309.85 269.9,306.2C271.72,302.55 273.75,298.85 275.4,296.4C277.05,293.95 278.52,292.5 279.8,291.5C281.08,290.5 282.02,290.32 283.1,290.4C284.18,290.48 285.22,290.82 286.3,292C287.38,293.18 288.5,296.23 289.6,297.5C290.7,298.77 291.8,299.97 292.9,299.6C294,299.23 295.28,297.48 296.2,295.3C297.12,293.12 297.67,289.25 298.4,286.5C299.13,283.75 299.98,280.25 300.6,278.8C301.22,277.35 301.63,276.88 302.1,277.8C302.57,278.72 303.03,280.48 303.4,284.3C303.77,288.12 304,292.08 304.3,300.7C304.6,309.32 304.73,314.45 305.2,336C305.67,357.55 306.78,414.33 307.1,430" stroke="#e78ac3" stroke-width="1.6" fill="none" stroke-linejoin="round" stroke-linecap="butt"/>
<path d="M310,245L310,330" stroke="#e78ac3" stroke-width="1.6" fill="none" stroke-linejoin="round" stroke-linecap="butt"/>
<path d="M51.51,325.83C52.09,325.89 53.8,326.08 54.95,326.21C56.1,326.34 57.25,326.46 58.4,326.58C59.56,326.71 60.71,326.83 61.87,326.95C63.03,327.07 64.19,327.19 65.35,327.32C66.51,327.44 67.67,327.56 68.84,327.68C70,327.8 71.17,327.92 72.33,328.04C73.5,328.16 74.67,328.29 75.84,328.41C77,328.54 78.17,328.66 79.34,328.79C80.51,328.91 81.68,329.04 82.85,329.17C84.02,329.3 85.19,329.44 86.35,329.57C87.52,329.71 88.69,329.85 89.86,329.99C91.02,330.13 92.19,330.27 93.36,330.42C94.52,330.57 95.69,330.72 96.85,330.88C98.01,331.03 99.17,331.19 100.33,331.35C101.49,331.52 102.65,331.69 103.8,331.86C104.96,332.03 106.11,332.21 107.26,332.4C108.41,332.58 109.56,332.77 110.71,332.96C111.85,333.16 112.99,333.36 114.13,333.57C115.27,333.78 116.41,333.99 117.54,334.22C118.67,334.45 119.8,334.68 120.93,334.93C122.05,335.18 123.17,335.44 124.29,335.72C125.41,336 126.52,336.29 127.63,336.61C128.74,336.92 129.85,337.25 130.95,337.6C132.05,337.95 133.14,338.32 134.23,338.71C135.32,339.1 136.41,339.52 137.49,339.96C138.57,340.4 139.65,340.87 140.72,341.35C141.79,341.83 142.86,342.34 143.92,342.86C144.99,343.38 146.04,343.92 147.1,344.47C148.16,345.02 149.22,345.58 150.27,346.14C151.32,346.7 152.37,347.27 153.42,347.84C154.48,348.41 155.53,348.98 156.58,349.55C157.63,350.12 158.68,350.68 159.73,351.24C160.78,351.79 161.83,352.34 162.88,352.87C163.94,353.4 164.99,353.92 166.05,354.42C167.11,354.92 168.17,355.4 169.23,355.86C170.3,356.32 171.37,356.76 172.44,357.16C173.51,357.57 174.59,357.95 175.67,358.3C176.75,358.64 177.84,358.96 178.93,359.24C180.02,359.51 181.12,359.75 182.23,359.95C183.34,360.14 184.45,360.3 185.57,360.41C186.69,360.51 187.82,360.57 188.96,360.58C190.1,360.59 191.24,360.54 192.4,360.45C193.55,360.36 194.71,360.22 195.88,360.05C197.05,359.88 198.22,359.66 199.4,359.44C200.58,359.21 201.76,358.95 202.94,358.69C204.12,358.42 205.31,358.13 206.5,357.85C207.68,357.57 208.87,357.28 210.06,357.01C211.24,356.73 212.43,356.45 213.61,356.21C214.79,355.96 215.97,355.72 217.14,355.52C218.31,355.32 219.48,355.14 220.64,355.01C221.8,354.88 222.95,354.78 224.09,354.74C225.23,354.7 226.36,354.71 227.47,354.79C228.58,354.87 229.67,355 230.75,355.22C231.82,355.44 232.88,355.73 233.92,356.1C234.95,356.47 235.96,356.94 236.96,357.46C237.96,357.98 238.93,358.59 239.9,359.22C240.87,359.85 241.82,360.55 242.77,361.26C243.72,361.98 244.66,362.74 245.6,363.49C246.55,364.24 247.48,365.03 248.42,365.79C249.37,366.55 250.31,367.32 251.26,368.05C252.22,368.78 252.4,369.14 254.15,370.18C255.91,371.22 259.34,373.5 261.8,374.3C264.26,375.1 266.53,375.67 268.9,375C271.27,374.33 274.03,372.92 276,370.3C277.97,367.68 279.38,363.77 280.7,359.3C282.02,354.83 282.93,348.38 283.9,343.5C284.87,338.62 285.65,335.25 286.5,330C287.35,324.75 288.22,318.7 289,312C289.78,305.3 290.55,297.15 291.2,289.8C291.85,282.45 292.38,275.37 292.9,267.9C293.42,260.43 294.07,248.82 294.3,245" stroke="#a6d854" stroke-width="1.6" fill="none" stroke-linejoin="round" stroke-linecap="butt"/>
<path d="M315.2,245L315.2,430" stroke="#a6d854" stroke-width="1.6" fill="none" stroke-linejoin="round" stroke-linecap="butt"/>
<path d="M318.6,245L318.6,430" stroke="#a6d854" stroke-width="1.6" fill="none" stroke-linejoin="round" stroke-linecap="butt"/>
<path d="M51.49,287.19C52,287.49 53.55,288.4 54.58,289C55.61,289.6 56.64,290.2 57.67,290.79C58.7,291.38 59.74,291.96 60.77,292.54C61.8,293.12 62.84,293.7 63.87,294.27C64.91,294.84 65.94,295.41 66.98,295.97C68.02,296.53 69.06,297.09 70.09,297.65C71.13,298.2 72.18,298.75 73.22,299.3C74.26,299.85 75.3,300.39 76.35,300.93C77.39,301.47 78.44,302 79.49,302.53C80.53,303.06 81.58,303.59 82.63,304.11C83.68,304.64 84.74,305.16 85.79,305.67C86.85,306.19 87.9,306.7 88.96,307.21C90.02,307.72 91.08,308.23 92.14,308.73C93.2,309.24 94.27,309.74 95.33,310.24C96.4,310.73 97.47,311.23 98.54,311.72C99.61,312.21 100.68,312.7 101.76,313.18C102.84,313.67 103.91,314.15 104.99,314.63C106.07,315.11 107.16,315.59 108.24,316.06C109.33,316.54 110.42,317.01 111.51,317.48C112.6,317.95 113.69,318.42 114.79,318.88C115.89,319.35 116.99,319.82 118.09,320.27C119.19,320.73 120.3,321.19 121.41,321.64C122.52,322.08 123.63,322.52 124.74,322.95C125.86,323.38 126.98,323.8 128.1,324.21C129.22,324.61 130.34,325 131.47,325.38C132.6,325.75 133.73,326.11 134.86,326.45C136,326.78 137.14,327.1 138.28,327.4C139.42,327.69 140.56,327.96 141.71,328.21C142.86,328.45 144.01,328.67 145.17,328.86C146.32,329.05 147.48,329.21 148.64,329.34C149.81,329.47 150.97,329.57 152.14,329.64C153.31,329.7 154.48,329.74 155.66,329.75C156.83,329.77 158.01,329.75 159.18,329.71C160.36,329.68 161.54,329.62 162.72,329.53C163.9,329.45 165.08,329.35 166.26,329.23C167.44,329.11 168.62,328.98 169.8,328.83C170.98,328.68 172.15,328.51 173.33,328.33C174.51,328.15 175.68,327.96 176.85,327.77C178.03,327.57 179.2,327.36 180.36,327.15C181.53,326.94 182.69,326.72 183.85,326.5C185.01,326.28 186.17,326.05 187.32,325.83C188.47,325.61 189.62,325.38 190.77,325.18C191.92,324.98 193.06,324.78 194.21,324.63C195.36,324.47 196.5,324.32 197.66,324.23C198.81,324.13 199.96,324.08 201.12,324.06C202.28,324.04 203.45,324.06 204.62,324.11C205.79,324.16 206.97,324.24 208.15,324.35C209.34,324.46 210.54,324.59 211.73,324.75C212.92,324.92 214.12,325.11 215.31,325.33C216.5,325.55 217.7,325.8 218.87,326.08C220.05,326.36 221.23,326.68 222.38,327.03C223.54,327.38 224.68,327.76 225.8,328.18C226.92,328.6 228.03,329.05 229.1,329.54C230.18,330.03 231.23,330.56 232.25,331.13C233.27,331.7 234.27,332.3 235.22,332.95C236.17,333.6 237.1,334.29 237.97,335.02C238.85,335.76 239.69,336.53 240.48,337.35C241.26,338.17 242.01,339.04 242.7,339.95C243.39,340.86 244.03,341.82 244.62,342.81C245.22,343.81 245.76,344.85 246.29,345.91C246.81,346.97 247.29,348.07 247.77,349.17C248.25,350.27 248.7,351.4 249.15,352.52C249.61,353.64 250.05,354.78 250.51,355.9C250.97,357.02 251.43,358.15 251.92,359.24C252.41,360.34 252.11,360.51 253.46,362.47C254.81,364.43 257.81,368.91 260,371C262.19,373.09 264.58,374.82 266.6,375C268.62,375.18 270.45,374.22 272.1,372.1C273.75,369.98 275.22,365.77 276.5,362.3C277.78,358.83 278.7,354.95 279.8,351.3C280.9,347.65 282.2,342.95 283.1,340.4C284,337.85 284.3,337.4 285.2,336C286.1,334.6 287.4,334.95 288.5,332C289.6,329.05 290.7,322.78 291.8,318.3C292.9,313.82 294,309.3 295.1,305.1C296.2,300.9 297.3,296.93 298.4,293.1C299.5,289.27 300.87,286.3 301.7,282.1C302.53,277.9 302.92,274.08 303.4,267.9C303.88,261.72 304.4,248.82 304.6,245" stroke="#ffd92f" stroke-width="1.8" fill="none" stroke-linejoin="round" stroke-linecap="butt"/>
<path d="M313.7,245L313.7,430" stroke="#ffd92f" stroke-width="1.8" fill="none" stroke-linejoin="round" stroke-linecap="butt"/>
<path d="M317,245L317,430" stroke="#ffd92f" stroke-width="1.8" fill="none" stroke-linejoin="round" stroke-linecap="butt"/>
<path d="M51.48,283.24C51.95,283.59 53.37,284.65 54.32,285.35C55.27,286.05 56.22,286.75 57.17,287.44C58.12,288.14 59.08,288.84 60.03,289.53C60.99,290.22 61.95,290.91 62.91,291.6C63.88,292.29 64.84,292.97 65.81,293.65C66.78,294.34 67.75,295.02 68.72,295.69C69.69,296.37 70.66,297.04 71.64,297.71C72.62,298.38 73.6,299.05 74.58,299.72C75.56,300.38 76.55,301.04 77.54,301.7C78.52,302.35 79.51,303.01 80.51,303.66C81.5,304.31 82.49,304.95 83.49,305.6C84.49,306.24 85.49,306.88 86.49,307.51C87.49,308.14 88.5,308.77 89.51,309.4C90.51,310.03 91.52,310.65 92.54,311.26C93.55,311.88 94.56,312.49 95.58,313.1C96.6,313.71 97.62,314.31 98.64,314.91C99.67,315.51 100.69,316.1 101.72,316.69C102.75,317.28 103.78,317.86 104.81,318.44C105.85,319.02 106.89,319.59 107.92,320.15C108.96,320.72 110,321.28 111.05,321.84C112.09,322.39 113.14,322.94 114.19,323.49C115.24,324.03 116.29,324.57 117.35,325.1C118.4,325.64 119.46,326.17 120.52,326.7C121.57,327.23 122.63,327.75 123.68,328.28C124.74,328.81 125.79,329.35 126.84,329.89C127.89,330.43 128.94,330.97 129.98,331.53C131.02,332.09 132.05,332.65 133.08,333.23C134.11,333.81 135.13,334.4 136.15,335.01C137.16,335.62 138.16,336.25 139.16,336.9C140.15,337.54 141.14,338.21 142.12,338.88C143.1,339.55 144.07,340.24 145.04,340.93C146.01,341.63 146.98,342.33 147.94,343.04C148.9,343.75 149.86,344.46 150.83,345.17C151.79,345.88 152.75,346.59 153.71,347.3C154.67,348 155.64,348.71 156.61,349.4C157.58,350.09 158.55,350.78 159.53,351.45C160.52,352.12 161.5,352.79 162.5,353.43C163.49,354.07 164.5,354.7 165.51,355.3C166.53,355.91 167.55,356.5 168.59,357.05C169.63,357.6 170.68,358.14 171.74,358.62C172.8,359.11 173.87,359.56 174.96,359.96C176.04,360.36 177.14,360.73 178.25,361.02C179.36,361.32 180.49,361.57 181.62,361.74C182.76,361.91 183.91,362.03 185.07,362.06C186.24,362.1 187.42,362.04 188.6,361.95C189.79,361.86 190.98,361.69 192.18,361.52C193.38,361.35 194.59,361.12 195.79,360.92C196.99,360.72 198.2,360.5 199.39,360.33C200.58,360.15 201.77,359.98 202.95,359.89C204.12,359.8 205.29,359.74 206.44,359.78C207.59,359.82 208.72,359.93 209.83,360.14C210.94,360.34 212.03,360.64 213.1,361C214.17,361.37 215.22,361.81 216.24,362.31C217.27,362.81 218.27,363.39 219.25,364.01C220.23,364.63 221.19,365.31 222.12,366.03C223.05,366.75 223.95,367.52 224.83,368.32C225.7,369.12 226.55,369.96 227.38,370.83C228.21,371.69 229.01,372.59 229.8,373.49C230.59,374.4 231.36,375.34 232.13,376.28C232.89,377.22 233.64,378.18 234.38,379.14C235.13,380.1 235.87,381.07 236.61,382.03C237.35,382.99 238.09,383.96 238.84,384.91C239.59,385.86 240.34,386.8 241.1,387.72C241.87,388.64 242.64,389.55 243.43,390.43C244.22,391.31 245.03,392.17 245.86,392.99C246.69,393.8 247.54,394.6 248.42,395.35C249.3,396.09 249.22,396.4 251.15,397.46C253.08,398.52 257.61,400.81 260,401.7C262.39,402.59 263.85,402.98 265.5,402.8C267.15,402.62 268.43,402.25 269.9,400.6C271.37,398.95 273.02,396 274.3,392.9C275.58,389.8 276.5,386.73 277.6,382C278.7,377.27 279.8,370.33 280.9,364.5C282,358.67 283.3,351.75 284.2,347C285.1,342.25 285.5,340.78 286.3,336C287.1,331.22 288.18,324.9 289,318.3C289.82,311.7 290.55,302.98 291.2,296.4C291.85,289.82 292.32,283.73 292.9,278.8C293.48,273.87 294.08,269.53 294.7,266.8C295.32,264.07 295.98,262.58 296.6,262.4C297.22,262.22 297.85,262.97 298.4,265.7C298.95,268.43 299.35,272.97 299.9,278.8C300.45,284.63 301.12,293.4 301.7,300.7C302.28,308 302.97,316.72 303.4,322.6C303.83,328.48 303.87,318.1 304.3,336C304.73,353.9 305.72,414.33 306,430" stroke="#e5c494" stroke-width="1.6" fill="none" stroke-linejoin="round" stroke-linecap="butt"/>
<path d="M311.5,245L311.5,430" stroke="#e5c494" stroke-width="1.6" fill="none" stroke-linejoin="round" stroke-linecap="butt"/>
</g>
<path d="M51.7,251.5 V421.1 H333.2" stroke="#333" stroke-width="1" fill="none" stroke-linecap="square"/>
<path d="M70.5,421.1 v3.6 M132.9,421.1 v3.6 M195.3,421.1 v3.6 M257.7,421.1 v3.6 M320.1,421.1 v3.6 M51.7,289.2 h-3.6 M51.7,330 h-3.6 M51.7,370.8 h-3.6 M51.7,411.6 h-3.6" stroke="#333" stroke-width="0.9" fill="none"/>
<path d="M56.66,421.1 v2.1 M60.83,421.1 v2.1 M64.45,421.1 v2.1 M67.64,421.1 v2.1 M89.28,421.1 v2.1 M100.27,421.1 v2.1 M108.07,421.1 v2.1 M114.12,421.1 v2.1 M119.06,421.1 v2.1 M123.23,421.1 v2.1 M126.85,421.1 v2.1 M130.04,421.1 v2.1 M151.68,421.1 v2.1 M162.67,421.1 v2.1 M170.47,421.1 v2.1 M176.52,421.1 v2.1 M181.46,421.1 v2.1 M185.63,421.1 v2.1 M189.25,421.1 v2.1 M192.44,421.1 v2.1 M214.08,421.1 v2.1 M225.07,421.1 v2.1 M232.87,421.1 v2.1 M238.92,421.1 v2.1 M243.86,421.1 v2.1 M248.03,421.1 v2.1 M251.65,421.1 v2.1 M254.84,421.1 v2.1 M276.48,421.1 v2.1 M287.47,421.1 v2.1 M295.27,421.1 v2.1 M301.32,421.1 v2.1 M306.26,421.1 v2.1 M310.43,421.1 v2.1 M314.05,421.1 v2.1 M317.24,421.1 v2.1" stroke="#333" stroke-width="0.8" fill="none"/>
<text x="57.9" y="436.1" font-size="11" textLength="13.5" lengthAdjust="spacingAndGlyphs">10</text>
<text x="71.5" y="432.35" font-size="8.1" textLength="10.9" lengthAdjust="spacingAndGlyphs">−4</text>
<text x="120.3" y="436.1" font-size="11" textLength="13.5" lengthAdjust="spacingAndGlyphs">10</text>
<text x="133.9" y="432.35" font-size="8.1" textLength="10.9" lengthAdjust="spacingAndGlyphs">−3</text>
<text x="182.7" y="436.1" font-size="11" textLength="13.5" lengthAdjust="spacingAndGlyphs">10</text>
<text x="196.3" y="432.35" font-size="8.1" textLength="10.9" lengthAdjust="spacingAndGlyphs">−2</text>
<text x="245.1" y="436.1" font-size="11" textLength="13.5" lengthAdjust="spacingAndGlyphs">10</text>
<text x="258.7" y="432.35" font-size="8.1" textLength="10.9" lengthAdjust="spacingAndGlyphs">−1</text>
<text x="310.9" y="436.1" font-size="11" textLength="13.5" lengthAdjust="spacingAndGlyphs">10</text>
<text x="324.5" y="432.35" font-size="8.1" textLength="4.5" lengthAdjust="spacingAndGlyphs">0</text>
<text x="44.3" y="293.15" font-size="10.7" text-anchor="end" textLength="29.3" lengthAdjust="spacingAndGlyphs">1.005</text>
<text x="44.3" y="333.95" font-size="10.7" text-anchor="end" textLength="29.3" lengthAdjust="spacingAndGlyphs">1.000</text>
<text x="44.3" y="374.75" font-size="10.7" text-anchor="end" textLength="29.3" lengthAdjust="spacingAndGlyphs">0.995</text>
<text x="44.3" y="415.55" font-size="10.7" text-anchor="end" textLength="29.3" lengthAdjust="spacingAndGlyphs">0.990</text>
<text x="192.15" y="449.5" font-size="10.9" text-anchor="middle">x</text>
<text transform="translate(8,336.3) rotate(-90)" font-size="10.7" text-anchor="middle" textLength="105.5" lengthAdjust="spacingAndGlyphs">Ratio to α<tspan font-size="7.21" dy="1.8" font-style="italic">s</tspan><tspan dy="-1.8"> = 0.1180</tspan></text>
<text x="191.35" y="245.6" font-size="12.3" text-anchor="middle" textLength="82.2" lengthAdjust="spacingAndGlyphs">d at 100 GeV</text>
<rect x="245.7" y="321" width="83.6" height="95.8" rx="2" fill="#fff" fill-opacity="0.6" stroke="#ccc" stroke-opacity="0.8" stroke-width="0.8"/>
<g><clipPath id="lc3"><rect x="249.2" y="325" width="18.4" height="6.6"/></clipPath>
<rect x="249.2" y="325" width="18.4" height="6.6" fill="#66c2a5" fill-opacity="0.5"/>
<path d="M216.27,332.6 L224.87,324 M237.98,332.6 L246.58,324 M259.69,332.6 L268.29,324 M281.4,332.6 L290,324" stroke="#555" stroke-width="0.8" clip-path="url(#lc3)"/>
<rect x="249.2" y="325" width="18.4" height="6.6" fill="none" stroke="#555" stroke-width="0.9"/></g>
<text x="273.9" y="331.6" font-size="9.7" textLength="50.5" lengthAdjust="spacingAndGlyphs">α<tspan font-size="6.79" dy="1.6" font-style="italic">s</tspan><tspan dy="-1.6"> = 0.1180</tspan></text>
<path d="M249.2,341.61 H267.6" stroke="#fc8d62" stroke-width="1.6" fill="none"/>
<text x="273.9" y="344.91" font-size="9.7" textLength="50.5" lengthAdjust="spacingAndGlyphs">α<tspan font-size="6.79" dy="1.6" font-style="italic">s</tspan><tspan dy="-1.6"> = 0.1160</tspan></text>
<path d="M249.2,354.92 H267.6" stroke="#8da0cb" stroke-width="1.6" fill="none"/>
<text x="273.9" y="358.22" font-size="9.7" textLength="50.5" lengthAdjust="spacingAndGlyphs">α<tspan font-size="6.79" dy="1.6" font-style="italic">s</tspan><tspan dy="-1.6"> = 0.1170</tspan></text>
<path d="M249.2,368.23 H267.6" stroke="#e78ac3" stroke-width="1.6" fill="none"/>
<text x="273.9" y="371.53" font-size="9.7" textLength="50.5" lengthAdjust="spacingAndGlyphs">α<tspan font-size="6.79" dy="1.6" font-style="italic">s</tspan><tspan dy="-1.6"> = 0.1175</tspan></text>
<path d="M249.2,381.54 H267.6" stroke="#a6d854" stroke-width="1.6" fill="none"/>
<text x="273.9" y="384.84" font-size="9.7" textLength="50.5" lengthAdjust="spacingAndGlyphs">α<tspan font-size="6.79" dy="1.6" font-style="italic">s</tspan><tspan dy="-1.6"> = 0.1188</tspan></text>
<path d="M249.2,394.85 H267.6" stroke="#ffd92f" stroke-width="1.8" fill="none"/>
<text x="273.9" y="398.15" font-size="9.7" textLength="50.5" lengthAdjust="spacingAndGlyphs">α<tspan font-size="6.79" dy="1.6" font-style="italic">s</tspan><tspan dy="-1.6"> = 0.1190</tspan></text>
<path d="M249.2,408.16 H267.6" stroke="#e5c494" stroke-width="1.6" fill="none"/>
<text x="273.9" y="411.46" font-size="9.7" textLength="50.5" lengthAdjust="spacingAndGlyphs">α<tspan font-size="6.79" dy="1.6" font-style="italic">s</tspan><tspan dy="-1.6"> = 0.1200</tspan></text>
</g>
<g id="p4">
<path d="M416.4,247.3 V420.29 M480.4,247.3 V420.29 M544.4,247.3 V420.29 M608.4,247.3 V420.29 M672.4,247.3 V420.29 M397.5,252.2 H684.63 M397.5,282.75 H684.63 M397.5,313.3 H684.63 M397.5,343.85 H684.63 M397.5,374.4 H684.63 M397.5,404.95 H684.63" stroke="#f3f3f3" stroke-width="0.8" fill="none"/>
<clipPath id="ax4"><rect x="397.5" y="247.3" width="287.13" height="172.99"/></clipPath>
<g clip-path="url(#ax4)">
<clipPath id="bd4"><path d="M397.6,286.9L403.8,291.3L410.3,295.6L416.9,300L423.5,303.3L430,307.7L435.5,311.6L441,315.4L447.6,319.7L454.1,321.5L460.7,324.1L467.3,324.1L473.8,324.8L480.4,324.1L485.9,321.9L491.3,319.3L497.9,319.3L504.5,317.5L511,315.4L517.6,312.1L522,309.9L526.4,307.7L531.9,302.2L535,297.8L541.6,292.4L548.1,286.9L554.7,282.5L561.3,279.2L566.8,274.8L571.1,269.4L574.4,271.6L577.7,263.9L579.9,258.4L582.1,262.8L585.4,256.2L588.7,250.8L590.8,247.5L591,238L671.9,238L671.9,430L577,430L576.6,420.2L572.2,418.5L567.8,416.3L563.5,411.9L559.1,407.5L554.7,402.1L550.3,397.7L544.9,398.8L540.5,394.4L535,391.1L530.8,383.5L524.2,379.1L517.6,375.8L512.1,372.5L506.7,369.2L501.2,365.9L495.7,363.8L490.2,364.4L484.8,363.8L479.3,361.6L473.8,362.2L467.3,363.8L460.7,365.9L454.1,368.1L448.6,371L443.2,374.7L437.7,379.1L432.2,382.4L427.8,381.3L421.3,382.4L414.7,383.5L409.2,387.8L403.8,391.1L397.6,396.6Z"/></clipPath>
<path d="M397.6,286.9L403.8,291.3L410.3,295.6L416.9,300L423.5,303.3L430,307.7L435.5,311.6L441,315.4L447.6,319.7L454.1,321.5L460.7,324.1L467.3,324.1L473.8,324.8L480.4,324.1L485.9,321.9L491.3,319.3L497.9,319.3L504.5,317.5L511,315.4L517.6,312.1L522,309.9L526.4,307.7L531.9,302.2L535,297.8L541.6,292.4L548.1,286.9L554.7,282.5L561.3,279.2L566.8,274.8L571.1,269.4L574.4,271.6L577.7,263.9L579.9,258.4L582.1,262.8L585.4,256.2L588.7,250.8L590.8,247.5L591,238L671.9,238L671.9,430L577,430L576.6,420.2L572.2,418.5L567.8,416.3L563.5,411.9L559.1,407.5L554.7,402.1L550.3,397.7L544.9,398.8L540.5,394.4L535,391.1L530.8,383.5L524.2,379.1L517.6,375.8L512.1,372.5L506.7,369.2L501.2,365.9L495.7,363.8L490.2,364.4L484.8,363.8L479.3,361.6L473.8,362.2L467.3,363.8L460.7,365.9L454.1,368.1L448.6,371L443.2,374.7L437.7,379.1L432.2,382.4L427.8,381.3L421.3,382.4L414.7,383.5L409.2,387.8L403.8,391.1L397.6,396.6Z" fill="#b3e1d2" stroke="#66c2a5" stroke-opacity="0.5" stroke-width="0.6"/>
<path d="M396.5,216.62 L366.82,246.3 M396.5,238.77 L388.97,246.3 M396.5,260.91 L411.11,246.3 M396.5,283.06 L433.26,246.3 M396.5,305.2 L455.4,246.3 M396.5,327.34 L477.54,246.3 M396.5,349.49 L499.69,246.3 M396.5,371.63 L521.83,246.3 M396.5,393.78 L543.98,246.3 M396.5,415.92 L566.12,246.3 M396.5,438.07 L588.27,246.3 M396.5,460.21 L610.41,246.3 M396.5,482.35 L632.55,246.3 M396.5,504.5 L654.7,246.3 M396.5,526.64 L676.84,246.3 M396.5,548.79 L698.99,246.3 M396.5,570.93 L721.13,246.3 M396.5,593.07 L743.27,246.3 M396.5,615.22 L765.42,246.3 M396.5,637.36 L787.56,246.3 M396.5,659.51 L809.71,246.3 M396.5,681.65 L831.85,246.3 M396.5,703.8 L854,246.3 M396.5,725.94 L876.14,246.3" stroke="#62c0a2" stroke-width="1.17" fill="none" clip-path="url(#bd4)"/>
<path d="M397.5,343.85 H672.4" stroke="#66c2a5" stroke-opacity="1" stroke-width="1.53" fill="none"/>
<path d="M397.63,378.93C398.18,378.75 399.81,378.23 400.9,377.88C401.99,377.52 403.09,377.16 404.18,376.79C405.27,376.43 406.37,376.06 407.46,375.68C408.56,375.31 409.65,374.93 410.74,374.55C411.84,374.16 412.93,373.77 414.03,373.38C415.12,372.98 416.22,372.58 417.31,372.18C418.41,371.77 419.5,371.36 420.59,370.94C421.69,370.53 422.78,370.11 423.87,369.68C424.96,369.25 426.05,368.82 427.13,368.38C428.22,367.94 429.31,367.49 430.39,367.04C431.48,366.59 432.56,366.14 433.64,365.67C434.72,365.21 435.8,364.74 436.87,364.26C437.95,363.79 439.02,363.31 440.09,362.82C441.16,362.33 442.23,361.83 443.29,361.33C444.35,360.83 445.41,360.32 446.47,359.81C447.53,359.29 448.58,358.77 449.63,358.24C450.68,357.71 451.72,357.18 452.76,356.63C453.8,356.09 454.84,355.54 455.87,354.98C456.9,354.43 457.93,353.86 458.95,353.29C459.98,352.72 460.99,352.14 462.01,351.55C463.02,350.96 464.03,350.37 465.03,349.76C466.03,349.16 467.02,348.55 468.01,347.93C469,347.31 469.99,346.69 470.96,346.05C471.94,345.42 472.91,344.77 473.88,344.12C474.84,343.47 475.8,342.81 476.75,342.15C477.7,341.48 478.64,340.8 479.58,340.12C480.51,339.43 481.44,338.74 482.37,338.04C483.29,337.33 484.2,336.62 485.11,335.9C486.01,335.18 486.91,334.46 487.8,333.72C488.7,332.98 489.58,332.24 490.46,331.49C491.34,330.74 492.21,329.98 493.08,329.22C493.95,328.45 494.81,327.68 495.67,326.9C496.53,326.12 497.38,325.34 498.23,324.55C499.08,323.76 499.92,322.96 500.76,322.16C501.6,321.36 502.43,320.55 503.27,319.74C504.1,318.93 504.93,318.12 505.76,317.3C506.58,316.48 507.41,315.65 508.23,314.82C509.05,314 509.87,313.16 510.69,312.33C511.51,311.49 512.32,310.66 513.14,309.82C513.95,308.97 514.77,308.13 515.58,307.29C516.4,306.44 517.21,305.59 518.03,304.74C518.84,303.89 519.65,303.04 520.47,302.19C521.28,301.34 522.1,300.49 522.92,299.63C523.73,298.78 524.55,297.92 525.37,297.07C526.19,296.22 527.01,295.36 527.84,294.51C528.66,293.66 529.49,292.8 530.32,291.95C531.15,291.11 531.99,290.26 532.82,289.43C533.66,288.59 534.51,287.76 535.36,286.94C536.21,286.11 537.06,285.3 537.93,284.5C538.79,283.7 539.66,282.91 540.53,282.14C541.41,281.36 542.3,280.6 543.19,279.86C544.08,279.11 544.99,278.39 545.9,277.68C546.81,276.97 547.73,276.28 548.67,275.62C549.6,274.95 550.54,274.31 551.5,273.69C552.46,273.07 553.42,272.47 554.4,271.91C555.39,271.34 556.38,270.8 557.39,270.29C558.4,269.77 559.42,269.29 560.46,268.84C561.49,268.39 562.54,267.98 563.61,267.59C564.68,267.21 565.77,266.86 566.87,266.55C567.97,266.24 569.09,265.97 570.23,265.74C571.36,265.5 572.52,265.31 573.69,265.16C574.86,265.01 576.05,264.9 577.25,264.82C578.45,264.75 579.66,264.71 580.87,264.72C582.08,264.72 583.3,264.76 584.52,264.83C585.74,264.91 586.96,265.02 588.17,265.16C589.38,265.3 590.59,265.48 591.78,265.69C592.97,265.9 594.16,266.15 595.33,266.42C596.49,266.69 597.64,266.99 598.77,267.33C599.9,267.66 601.01,268.02 602.08,268.41C603.16,268.8 603.65,268.94 605.23,269.66C606.82,270.37 609.62,272.01 611.6,272.7C613.58,273.39 615.45,274.17 617.1,273.8C618.75,273.43 620.3,272.52 621.5,270.5C622.7,268.48 623.47,264.63 624.3,261.7C625.13,258.77 625.72,256.85 626.5,252.9C627.28,248.95 628.58,240.48 629,238" stroke="#fc8d62" stroke-width="1.63" fill="none" stroke-linejoin="round" stroke-linecap="butt"/>
<path d="M656.5,238C656.67,253.33 657.13,298 657.5,330C657.87,362 658.5,413.33 658.7,430" stroke="#fc8d62" stroke-width="1.63" fill="none" stroke-linejoin="round" stroke-linecap="butt"/>
<path d="M397.61,351.69C398.19,351.64 399.96,351.49 401.13,351.39C402.31,351.28 403.48,351.18 404.66,351.08C405.84,350.98 407.02,350.87 408.2,350.76C409.37,350.66 410.55,350.55 411.73,350.44C412.91,350.33 414.09,350.22 415.27,350.11C416.45,350 417.63,349.88 418.81,349.76C419.99,349.64 421.17,349.52 422.35,349.4C423.53,349.28 424.71,349.15 425.89,349.03C427.07,348.9 428.25,348.77 429.43,348.63C430.6,348.5 431.78,348.36 432.96,348.22C434.14,348.08 435.32,347.93 436.5,347.79C437.67,347.64 438.85,347.49 440.03,347.33C441.2,347.17 442.38,347.01 443.56,346.85C444.73,346.68 445.9,346.52 447.08,346.34C448.25,346.17 449.42,345.99 450.6,345.81C451.77,345.62 452.94,345.44 454.11,345.24C455.28,345.05 456.44,344.85 457.61,344.65C458.78,344.44 459.94,344.23 461.11,344.02C462.27,343.8 463.44,343.58 464.6,343.35C465.76,343.13 466.92,342.89 468.08,342.66C469.24,342.42 470.39,342.17 471.55,341.92C472.7,341.67 473.86,341.41 475.01,341.14C476.16,340.87 477.31,340.6 478.46,340.32C479.61,340.04 480.75,339.75 481.9,339.46C483.04,339.16 484.18,338.86 485.32,338.55C486.46,338.24 487.6,337.92 488.73,337.6C489.87,337.27 491,336.94 492.13,336.6C493.26,336.25 494.39,335.9 495.51,335.54C496.64,335.19 497.76,334.82 498.88,334.44C500,334.07 501.12,333.69 502.24,333.3C503.35,332.91 504.47,332.51 505.58,332.11C506.69,331.71 507.8,331.3 508.91,330.88C510.02,330.47 511.12,330.05 512.23,329.62C513.33,329.2 514.44,328.77 515.54,328.33C516.64,327.9 517.74,327.46 518.84,327.01C519.94,326.57 521.04,326.12 522.13,325.67C523.23,325.21 524.33,324.76 525.42,324.3C526.51,323.84 527.61,323.38 528.7,322.92C529.79,322.45 530.88,321.99 531.97,321.52C533.07,321.05 534.16,320.58 535.25,320.11C536.33,319.64 537.42,319.17 538.51,318.69C539.6,318.22 540.69,317.75 541.78,317.27C542.86,316.8 543.95,316.32 545.04,315.85C546.13,315.38 547.21,314.9 548.3,314.43C549.39,313.96 550.48,313.49 551.57,313.02C552.65,312.55 553.74,312.08 554.83,311.62C555.92,311.15 557.01,310.68 558.1,310.22C559.19,309.76 560.28,309.3 561.38,308.85C562.47,308.39 563.56,307.94 564.66,307.49C565.76,307.04 566.85,306.59 567.95,306.15C569.05,305.71 570.15,305.27 571.25,304.83C572.36,304.4 573.46,303.97 574.57,303.54C575.68,303.12 576.78,302.7 577.9,302.28C579.01,301.87 580.12,301.46 581.24,301.06C582.36,300.65 583.48,300.26 584.6,299.87C585.73,299.47 586.85,299.09 587.98,298.71C589.11,298.34 590.25,297.96 591.38,297.6C592.52,297.25 593.66,296.89 594.8,296.58C595.94,296.27 597.08,295.98 598.22,295.75C599.36,295.53 600.5,295.33 601.63,295.22C602.76,295.11 603.36,294.84 605.02,295.08C606.68,295.33 609.4,295.76 611.6,296.7C613.8,297.64 616.18,299.67 618.2,300.7C620.22,301.73 622.23,303.02 623.7,302.9C625.17,302.78 625.92,302.12 627,300C628.08,297.88 629.12,294.4 630.2,290.2C631.28,286 632.5,278.82 633.5,274.8C634.5,270.78 635.47,267.92 636.2,266.1C636.93,264.28 637.32,263.72 637.9,263.9C638.48,264.08 639.15,263.55 639.7,267.2C640.25,270.85 640.77,279.05 641.2,285.8C641.63,292.55 641.93,300 642.3,307.7C642.67,315.4 643,311.62 643.4,332C643.8,352.38 644.48,413.67 644.7,430" stroke="#8da0cb" stroke-width="1.63" fill="none" stroke-linejoin="round" stroke-linecap="butt"/>
<path d="M663,238L662,430" stroke="#8da0cb" stroke-width="1.63" fill="none" stroke-linejoin="round" stroke-linecap="butt"/>
<path d="M397.62,349.57C398.2,349.54 399.96,349.43 401.13,349.37C402.3,349.31 403.47,349.26 404.65,349.21C405.82,349.17 407,349.13 408.17,349.09C409.35,349.05 410.53,349.02 411.7,348.99C412.88,348.96 414.06,348.93 415.24,348.91C416.42,348.89 417.6,348.87 418.78,348.85C419.96,348.83 421.15,348.82 422.33,348.8C423.51,348.79 424.69,348.78 425.88,348.76C427.06,348.75 428.24,348.74 429.43,348.73C430.61,348.72 431.79,348.71 432.98,348.7C434.16,348.68 435.35,348.67 436.53,348.66C437.71,348.64 438.9,348.63 440.08,348.61C441.27,348.59 442.45,348.57 443.63,348.55C444.82,348.53 446,348.5 447.18,348.47C448.36,348.44 449.55,348.41 450.73,348.37C451.91,348.33 453.09,348.29 454.27,348.24C455.45,348.19 456.63,348.14 457.81,348.08C458.99,348.02 460.16,347.96 461.34,347.89C462.52,347.81 463.69,347.74 464.87,347.65C466.04,347.56 467.21,347.47 468.39,347.37C469.56,347.27 470.73,347.16 471.9,347.04C473.07,346.92 474.24,346.79 475.4,346.65C476.57,346.52 477.73,346.37 478.9,346.21C480.06,346.05 481.22,345.88 482.38,345.7C483.54,345.52 484.7,345.33 485.85,345.13C487.01,344.93 488.16,344.72 489.32,344.5C490.47,344.28 491.62,344.05 492.77,343.81C493.92,343.57 495.07,343.33 496.22,343.08C497.37,342.82 498.52,342.56 499.66,342.3C500.81,342.03 501.96,341.76 503.1,341.49C504.25,341.21 505.39,340.93 506.54,340.65C507.68,340.36 508.82,340.08 509.97,339.79C511.11,339.5 512.26,339.2 513.4,338.91C514.54,338.62 515.69,338.32 516.83,338.02C517.98,337.73 519.12,337.43 520.26,337.14C521.41,336.84 522.55,336.55 523.7,336.26C524.85,335.96 525.99,335.67 527.14,335.39C528.29,335.1 529.44,334.81 530.59,334.53C531.74,334.25 532.89,333.98 534.04,333.71C535.19,333.44 536.35,333.17 537.5,332.91C538.66,332.65 539.81,332.4 540.97,332.15C542.13,331.91 543.29,331.67 544.45,331.44C545.61,331.21 546.78,330.99 547.94,330.78C549.11,330.57 550.28,330.37 551.45,330.18C552.61,329.99 553.78,329.81 554.96,329.65C556.13,329.49 557.3,329.34 558.47,329.21C559.64,329.08 560.82,328.96 561.99,328.86C563.16,328.76 564.34,328.68 565.51,328.62C566.68,328.56 567.86,328.52 569.03,328.51C570.2,328.49 571.37,328.49 572.54,328.52C573.71,328.55 574.88,328.6 576.05,328.68C577.22,328.76 578.38,328.86 579.54,329C580.71,329.13 581.87,329.29 583.03,329.48C584.19,329.67 585.34,329.89 586.5,330.15C587.65,330.4 588.8,330.69 589.95,331C591.1,331.32 592.24,331.68 593.38,332.04C594.52,332.39 595.66,332.78 596.8,333.13C597.93,333.48 598,333.82 600.2,334.13C602.4,334.44 607,335.36 610,335C613,334.64 615.73,334.73 618.2,332C620.67,329.27 622.97,324.48 624.8,318.6C626.63,312.72 627.93,304 629.2,296.7C630.47,289.4 631.5,281 632.4,274.8C633.3,268.6 633.83,265.63 634.6,259.5C635.37,253.37 636.6,241.58 637,238" stroke="#e78ac3" stroke-width="1.63" fill="none" stroke-linejoin="round" stroke-linecap="butt"/>
<path d="M647,238C647.45,266.33 648.78,377 649.7,408C650.62,439 651.52,424 652.5,424C653.48,424 654.38,416.5 655.6,408C656.82,399.5 658.3,401.33 659.8,373C661.3,344.67 663.8,260.5 664.6,238" stroke="#e78ac3" stroke-width="1.63" fill="none" stroke-linejoin="round" stroke-linecap="butt"/>
<path d="M397.59,342.91C398.18,342.92 399.94,342.97 401.12,343C402.29,343.04 403.47,343.07 404.64,343.1C405.82,343.14 407,343.17 408.17,343.21C409.35,343.24 410.52,343.28 411.7,343.32C412.87,343.36 414.05,343.4 415.22,343.44C416.4,343.48 417.57,343.52 418.75,343.57C419.92,343.61 421.1,343.66 422.27,343.71C423.44,343.76 424.62,343.81 425.79,343.86C426.97,343.91 428.14,343.97 429.31,344.03C430.48,344.09 431.66,344.15 432.83,344.21C434,344.27 435.17,344.34 436.35,344.41C437.52,344.48 438.69,344.55 439.86,344.62C441.03,344.7 442.2,344.78 443.37,344.86C444.54,344.94 445.71,345.03 446.88,345.12C448.05,345.21 449.22,345.3 450.38,345.4C451.55,345.5 452.72,345.6 453.89,345.7C455.05,345.81 456.22,345.92 457.39,346.03C458.55,346.15 459.72,346.27 460.88,346.39C462.05,346.51 463.21,346.64 464.38,346.78C465.54,346.91 466.7,347.05 467.86,347.19C469.03,347.33 470.19,347.48 471.35,347.64C472.51,347.79 473.67,347.95 474.83,348.11C475.99,348.28 477.15,348.45 478.31,348.63C479.47,348.8 480.62,348.99 481.78,349.17C482.94,349.36 484.09,349.56 485.25,349.76C486.4,349.96 487.56,350.17 488.71,350.38C489.86,350.6 491.02,350.82 492.17,351.05C493.32,351.27 494.47,351.51 495.62,351.75C496.77,351.99 497.92,352.24 499.07,352.5C500.22,352.75 501.37,353.02 502.51,353.29C503.66,353.56 504.8,353.84 505.95,354.12C507.09,354.41 508.24,354.7 509.38,355C510.53,355.29 511.67,355.59 512.81,355.89C513.96,356.18 515.1,356.48 516.25,356.78C517.39,357.07 518.54,357.36 519.69,357.64C520.84,357.92 521.99,358.2 523.14,358.46C524.29,358.73 525.44,358.98 526.6,359.22C527.76,359.46 528.92,359.69 530.08,359.9C531.25,360.11 532.41,360.3 533.58,360.47C534.75,360.64 535.93,360.8 537.11,360.92C538.28,361.04 539.46,361.15 540.64,361.21C541.81,361.27 542.99,361.3 544.15,361.29C545.32,361.27 546.48,361.22 547.63,361.11C548.77,361 549.91,360.85 551.03,360.63C552.14,360.41 553.24,360.13 554.33,359.79C555.41,359.46 556.48,359.06 557.53,358.62C558.58,358.18 559.62,357.68 560.65,357.16C561.68,356.64 562.69,356.07 563.7,355.48C564.72,354.89 565.72,354.26 566.71,353.63C567.71,352.99 568.7,352.33 569.69,351.67C570.69,351.01 571.67,350.33 572.66,349.66C573.65,349 574.64,348.32 575.64,347.67C576.64,347.01 577.63,346.36 578.64,345.74C579.65,345.12 580.66,344.51 581.69,343.94C582.71,343.37 583.75,342.82 584.8,342.32C585.85,341.82 586.91,341.36 587.98,340.95C589.06,340.53 590.16,340.18 591.26,339.85C592.37,339.53 593.49,339.25 594.62,339C595.75,338.74 596.89,338.53 598.04,338.32C599.18,338.12 600.34,337.95 601.5,337.77C602.66,337.6 602.94,337.52 604.99,337.29C607.04,337.07 611.23,336.92 613.8,336.4C616.37,335.88 618.75,334.93 620.4,334.2C622.05,333.47 622.6,336.42 623.7,332C624.8,327.58 625.92,316.13 627,307.7C628.08,299.27 629.18,289.43 630.2,281.4C631.22,273.37 632.3,266.73 633.1,259.5C633.9,252.27 634.68,241.58 635,238" stroke="#a6d854" stroke-width="1.63" fill="none" stroke-linejoin="round" stroke-linecap="butt"/>
<path d="M651,238C651.37,253.67 652.7,300 653.2,332C653.7,364 653.87,413.67 654,430" stroke="#a6d854" stroke-width="1.63" fill="none" stroke-linejoin="round" stroke-linecap="butt"/>
<path d="M397.61,326.15C398.18,326.29 399.88,326.7 401.02,326.97C402.16,327.23 403.3,327.5 404.44,327.76C405.58,328.02 406.72,328.27 407.86,328.53C409,328.78 410.14,329.03 411.29,329.28C412.43,329.53 413.57,329.78 414.71,330.02C415.86,330.27 417,330.51 418.14,330.75C419.29,330.99 420.43,331.23 421.58,331.46C422.72,331.7 423.87,331.94 425.01,332.17C426.16,332.41 427.3,332.64 428.45,332.87C429.59,333.1 430.74,333.34 431.89,333.57C433.03,333.8 434.18,334.03 435.32,334.26C436.47,334.49 437.61,334.72 438.76,334.95C439.91,335.18 441.05,335.41 442.2,335.64C443.34,335.87 444.49,336.1 445.63,336.34C446.78,336.57 447.93,336.8 449.07,337.04C450.22,337.27 451.36,337.51 452.5,337.74C453.65,337.98 454.79,338.22 455.94,338.46C457.08,338.7 458.22,338.94 459.37,339.19C460.51,339.43 461.65,339.68 462.79,339.93C463.93,340.18 465.07,340.43 466.21,340.69C467.36,340.94 468.5,341.2 469.63,341.46C470.77,341.72 471.91,341.98 473.05,342.25C474.19,342.52 475.32,342.79 476.46,343.07C477.6,343.34 478.73,343.62 479.86,343.9C481,344.19 482.13,344.47 483.26,344.76C484.4,345.06 485.53,345.35 486.66,345.65C487.79,345.96 488.92,346.26 490.05,346.57C491.17,346.88 492.3,347.2 493.43,347.52C494.55,347.85 495.68,348.17 496.8,348.51C497.92,348.84 499.04,349.18 500.16,349.53C501.28,349.87 502.4,350.22 503.51,350.58C504.63,350.94 505.74,351.31 506.85,351.68C507.96,352.05 509.07,352.43 510.17,352.82C511.27,353.2 512.38,353.6 513.47,354C514.57,354.4 515.66,354.81 516.75,355.22C517.84,355.64 518.93,356.07 520.01,356.5C521.09,356.93 522.16,357.37 523.23,357.82C524.31,358.27 525.37,358.73 526.43,359.2C527.49,359.67 528.55,360.14 529.6,360.63C530.65,361.11 531.69,361.61 532.74,362.11C533.78,362.61 534.82,363.12 535.86,363.62C536.9,364.11 537.94,364.61 538.99,365.09C540.04,365.57 541.1,366.05 542.16,366.49C543.23,366.94 544.31,367.37 545.4,367.77C546.5,368.17 547.61,368.54 548.74,368.87C549.86,369.21 551,369.51 552.15,369.78C553.29,370.05 554.45,370.28 555.62,370.47C556.78,370.67 557.96,370.82 559.13,370.93C560.3,371.04 561.48,371.12 562.66,371.14C563.84,371.17 565.01,371.15 566.19,371.08C567.36,371.02 568.53,370.9 569.69,370.74C570.86,370.59 572.01,370.38 573.17,370.16C574.32,369.94 575.47,369.68 576.62,369.43C577.77,369.18 578.92,368.9 580.07,368.65C581.21,368.4 582.36,368.14 583.5,367.91C584.65,367.69 585.8,367.47 586.94,367.31C588.09,367.15 589.24,367.02 590.39,366.95C591.55,366.88 592.7,366.86 593.85,366.89C595,366.93 596.16,367.02 597.3,367.17C598.45,367.32 599.59,367.52 600.72,367.79C601.84,368.06 602.97,368.39 604.07,368.78C605.18,369.17 605.54,369.34 607.35,370.15C609.15,370.95 612.72,373.21 614.9,373.6C617.08,373.99 618.57,373.6 620.4,372.5C622.23,371.4 624.27,369.37 625.9,367C627.53,364.63 628.93,360.55 630.2,358.3C631.47,356.05 632.5,354.42 633.5,353.5C634.5,352.58 635.28,352.18 636.2,352.8C637.12,353.42 637.98,354.28 639,357.2C640.02,360.12 641.35,365.67 642.3,370.3C643.25,374.93 644,375.05 644.7,385C645.4,394.95 646.2,422.5 646.5,430" stroke="#ffd92f" stroke-width="1.84" fill="none" stroke-linejoin="round" stroke-linecap="butt"/>
<path d="M648.9,238L650,332" stroke="#ffd92f" stroke-width="1.84" fill="none" stroke-linejoin="round" stroke-linecap="butt"/>
<path d="M655,238L655,332" stroke="#ffd92f" stroke-width="1.84" fill="none" stroke-linejoin="round" stroke-linecap="butt"/>
<path d="M397.6,325.63C398.16,325.82 399.83,326.39 400.96,326.75C402.08,327.11 403.2,327.45 404.33,327.77C405.46,328.1 406.59,328.41 407.73,328.71C408.86,329.01 409.99,329.29 411.13,329.57C412.27,329.85 413.41,330.11 414.55,330.37C415.69,330.63 416.83,330.89 417.98,331.13C419.12,331.38 420.26,331.62 421.41,331.86C422.55,332.1 423.7,332.33 424.85,332.57C425.99,332.8 427.14,333.04 428.29,333.27C429.43,333.51 430.58,333.74 431.73,333.99C432.87,334.23 434.02,334.47 435.17,334.72C436.31,334.98 437.46,335.23 438.6,335.5C439.75,335.77 440.89,336.04 442.03,336.32C443.17,336.61 444.31,336.9 445.45,337.2C446.59,337.5 447.73,337.81 448.86,338.13C450,338.45 451.13,338.78 452.26,339.11C453.39,339.45 454.51,339.79 455.64,340.15C456.76,340.5 457.88,340.87 459,341.24C460.12,341.61 461.23,341.99 462.35,342.38C463.46,342.77 464.56,343.17 465.67,343.58C466.77,343.99 467.87,344.41 468.96,344.84C470.05,345.26 471.14,345.7 472.23,346.15C473.31,346.59 474.39,347.05 475.47,347.51C476.54,347.98 477.61,348.45 478.67,348.94C479.74,349.42 480.8,349.91 481.85,350.42C482.91,350.92 483.96,351.43 485,351.95C486.05,352.47 487.09,353 488.12,353.53C489.16,354.07 490.19,354.62 491.22,355.17C492.25,355.72 493.27,356.28 494.29,356.86C495.31,357.43 496.33,358 497.34,358.59C498.35,359.18 499.36,359.77 500.37,360.37C501.37,360.98 502.37,361.59 503.37,362.2C504.37,362.82 505.36,363.45 506.36,364.08C507.35,364.71 508.34,365.35 509.32,366C510.31,366.65 511.29,367.3 512.27,367.96C513.25,368.62 514.23,369.29 515.2,369.97C516.17,370.64 517.15,371.32 518.12,372.01C519.09,372.7 520.05,373.39 521.02,374.08C521.99,374.77 522.96,375.47 523.93,376.14C524.91,376.82 525.88,377.5 526.87,378.15C527.85,378.81 528.84,379.45 529.84,380.06C530.84,380.68 531.84,381.28 532.86,381.84C533.88,382.4 534.92,382.94 535.96,383.43C537.01,383.93 538.07,384.39 539.14,384.81C540.21,385.24 541.29,385.63 542.38,385.98C543.48,386.33 544.58,386.65 545.7,386.92C546.81,387.2 547.93,387.44 549.06,387.64C550.19,387.84 551.33,388.01 552.47,388.13C553.61,388.26 554.76,388.34 555.91,388.39C557.06,388.44 558.22,388.45 559.38,388.42C560.53,388.39 561.69,388.31 562.86,388.21C564.02,388.1 565.18,387.95 566.34,387.78C567.51,387.6 568.67,387.39 569.83,387.16C571,386.93 572.16,386.67 573.32,386.4C574.48,386.13 575.64,385.83 576.79,385.52C577.95,385.22 579.1,384.9 580.25,384.57C581.39,384.25 582.54,383.91 583.68,383.58C584.82,383.24 585.96,382.9 587.1,382.56C588.24,382.23 589.38,381.89 590.52,381.56C591.65,381.23 592.79,380.9 593.92,380.59C595.06,380.27 596.2,379.97 597.33,379.68C598.47,379.39 598.72,379.25 600.75,378.86C602.78,378.46 606.77,377.63 609.5,377.3C612.23,376.97 614.92,376.6 617.1,376.9C619.28,377.2 620.95,377.1 622.6,379.1C624.25,381.1 625.73,385.07 627,388.9C628.27,392.73 629.3,397.72 630.2,402.1C631.1,406.48 631.8,410.55 632.4,415.2C633,419.85 633.57,427.53 633.8,430" stroke="#e5c494" stroke-width="1.63" fill="none" stroke-linejoin="round" stroke-linecap="butt"/>
<path d="M644.5,238L646.7,332" stroke="#e5c494" stroke-width="1.63" fill="none" stroke-linejoin="round" stroke-linecap="butt"/>
</g>
<path d="M397.5,247.3 V420.29 H684.63" stroke="#333" stroke-width="1.02" fill="none" stroke-linecap="square"/>
<path d="M416.4,420.29 v3.67 M480.4,420.29 v3.67 M544.4,420.29 v3.67 M608.4,420.29 v3.67 M672.4,420.29 v3.67 M397.5,252.2 h-3.67 M397.5,282.75 h-3.67 M397.5,313.3 h-3.67 M397.5,343.85 h-3.67 M397.5,374.4 h-3.67 M397.5,404.95 h-3.67" stroke="#333" stroke-width="0.92" fill="none"/>
<path d="M402.2,420.29 v2.14 M406.49,420.29 v2.14 M410.2,420.29 v2.14 M413.47,420.29 v2.14 M435.67,420.29 v2.14 M446.94,420.29 v2.14 M454.93,420.29 v2.14 M461.13,420.29 v2.14 M466.2,420.29 v2.14 M470.49,420.29 v2.14 M474.2,420.29 v2.14 M477.47,420.29 v2.14 M499.67,420.29 v2.14 M510.94,420.29 v2.14 M518.93,420.29 v2.14 M525.13,420.29 v2.14 M530.2,420.29 v2.14 M534.49,420.29 v2.14 M538.2,420.29 v2.14 M541.47,420.29 v2.14 M563.67,420.29 v2.14 M574.94,420.29 v2.14 M582.93,420.29 v2.14 M589.13,420.29 v2.14 M594.2,420.29 v2.14 M598.49,420.29 v2.14 M602.2,420.29 v2.14 M605.47,420.29 v2.14 M627.67,420.29 v2.14 M638.94,420.29 v2.14 M646.93,420.29 v2.14 M653.13,420.29 v2.14 M658.2,420.29 v2.14 M662.49,420.29 v2.14 M666.2,420.29 v2.14 M669.47,420.29 v2.14" stroke="#333" stroke-width="0.82" fill="none"/>
<text x="403.55" y="435.59" font-size="11.22" textLength="13.77" lengthAdjust="spacingAndGlyphs">10</text>
<text x="417.42" y="431.77" font-size="8.26" textLength="11.12" lengthAdjust="spacingAndGlyphs">−4</text>
<text x="467.55" y="435.59" font-size="11.22" textLength="13.77" lengthAdjust="spacingAndGlyphs">10</text>
<text x="481.42" y="431.77" font-size="8.26" textLength="11.12" lengthAdjust="spacingAndGlyphs">−3</text>
<text x="531.55" y="435.59" font-size="11.22" textLength="13.77" lengthAdjust="spacingAndGlyphs">10</text>
<text x="545.42" y="431.77" font-size="8.26" textLength="11.12" lengthAdjust="spacingAndGlyphs">−2</text>
<text x="595.55" y="435.59" font-size="11.22" textLength="13.77" lengthAdjust="spacingAndGlyphs">10</text>
<text x="609.42" y="431.77" font-size="8.26" textLength="11.12" lengthAdjust="spacingAndGlyphs">−1</text>
<text x="663.02" y="435.59" font-size="11.22" textLength="13.77" lengthAdjust="spacingAndGlyphs">10</text>
<text x="676.89" y="431.77" font-size="8.26" textLength="4.59" lengthAdjust="spacingAndGlyphs">0</text>
<text x="389.95" y="256.23" font-size="10.91" text-anchor="end" textLength="23.36" lengthAdjust="spacingAndGlyphs">1.03</text>
<text x="389.95" y="286.78" font-size="10.91" text-anchor="end" textLength="23.36" lengthAdjust="spacingAndGlyphs">1.02</text>
<text x="389.95" y="317.33" font-size="10.91" text-anchor="end" textLength="23.36" lengthAdjust="spacingAndGlyphs">1.01</text>
<text x="389.95" y="347.88" font-size="10.91" text-anchor="end" textLength="23.36" lengthAdjust="spacingAndGlyphs">1.00</text>
<text x="389.95" y="378.43" font-size="10.91" text-anchor="end" textLength="23.36" lengthAdjust="spacingAndGlyphs">0.99</text>
<text x="389.95" y="408.98" font-size="10.91" text-anchor="end" textLength="23.36" lengthAdjust="spacingAndGlyphs">0.98</text>
<text x="540.76" y="449.26" font-size="11.12" text-anchor="middle">x</text>
<text transform="translate(359.76,333.8) rotate(-90)" font-size="10.91" text-anchor="middle" textLength="107.61" lengthAdjust="spacingAndGlyphs">Ratio to α<tspan font-size="7.35" dy="1.84" font-style="italic">s</tspan><tspan dy="-1.84"> = 0.1180</tspan></text>
<text x="539.94" y="241.28" font-size="12.55" text-anchor="middle" textLength="83.84" lengthAdjust="spacingAndGlyphs">d at 100 GeV</text>
<path d="M500.7,228.9 h3.9" stroke="#000" stroke-width="0.92"/>
<rect x="595.9" y="317.7" width="85.27" height="97.72" rx="2.04" fill="#fff" fill-opacity="0.6" stroke="#ccc" stroke-opacity="0.8" stroke-width="0.82"/>
<g><clipPath id="lc4"><rect x="599.47" y="321.78" width="18.77" height="6.73"/></clipPath>
<rect x="599.47" y="321.78" width="18.77" height="6.73" fill="#66c2a5" fill-opacity="0.5"/>
<path d="M549.34,329.51 L558.07,320.78 M571.49,329.51 L580.22,320.78 M593.63,329.51 L602.36,320.78 M615.77,329.51 L624.51,320.78 M637.92,329.51 L646.65,320.78" stroke="#555" stroke-width="0.82" clip-path="url(#lc4)"/>
<rect x="599.47" y="321.78" width="18.77" height="6.73" fill="none" stroke="#555" stroke-width="0.92"/></g>
<text x="624.66" y="328.51" font-size="9.89" textLength="51.51" lengthAdjust="spacingAndGlyphs">α<tspan font-size="6.93" dy="1.63" font-style="italic">s</tspan><tspan dy="-1.63"> = 0.1180</tspan></text>
<path d="M599.47,338.72 H618.24" stroke="#fc8d62" stroke-width="1.63" fill="none"/>
<text x="624.66" y="342.09" font-size="9.89" textLength="51.51" lengthAdjust="spacingAndGlyphs">α<tspan font-size="6.93" dy="1.63" font-style="italic">s</tspan><tspan dy="-1.63"> = 0.1160</tspan></text>
<path d="M599.47,352.3 H618.24" stroke="#8da0cb" stroke-width="1.63" fill="none"/>
<text x="624.66" y="355.66" font-size="9.89" textLength="51.51" lengthAdjust="spacingAndGlyphs">α<tspan font-size="6.93" dy="1.63" font-style="italic">s</tspan><tspan dy="-1.63"> = 0.1170</tspan></text>
<path d="M599.47,365.87 H618.24" stroke="#e78ac3" stroke-width="1.63" fill="none"/>
<text x="624.66" y="369.24" font-size="9.89" textLength="51.51" lengthAdjust="spacingAndGlyphs">α<tspan font-size="6.93" dy="1.63" font-style="italic">s</tspan><tspan dy="-1.63"> = 0.1175</tspan></text>
<path d="M599.47,379.45 H618.24" stroke="#a6d854" stroke-width="1.63" fill="none"/>
<text x="624.66" y="382.82" font-size="9.89" textLength="51.51" lengthAdjust="spacingAndGlyphs">α<tspan font-size="6.93" dy="1.63" font-style="italic">s</tspan><tspan dy="-1.63"> = 0.1188</tspan></text>
<path d="M599.47,393.03 H618.24" stroke="#ffd92f" stroke-width="1.84" fill="none"/>
<text x="624.66" y="396.39" font-size="9.89" textLength="51.51" lengthAdjust="spacingAndGlyphs">α<tspan font-size="6.93" dy="1.63" font-style="italic">s</tspan><tspan dy="-1.63"> = 0.1190</tspan></text>
<path d="M599.47,406.6 H618.24" stroke="#e5c494" stroke-width="1.63" fill="none"/>
<text x="624.66" y="409.97" font-size="9.89" textLength="51.51" lengthAdjust="spacingAndGlyphs">α<tspan font-size="6.93" dy="1.63" font-style="italic">s</tspan><tspan dy="-1.63"> = 0.1200</tspan></text>
</g>
<g id="p5">
<path d="M64.5,482 V655.5 M128.5,482 V655.5 M192.5,482 V655.5 M256.5,482 V655.5 M320.5,482 V655.5 M45.6,512.2 H333.57 M45.6,546.1 H333.57 M45.6,580.1 H333.57 M45.6,614 H333.57 M45.6,648 H333.57" stroke="#f3f3f3" stroke-width="0.8" fill="none"/>
<clipPath id="ax5"><rect x="45.6" y="482" width="287.97" height="173.5"/></clipPath>
<g clip-path="url(#ax5)">
<clipPath id="bd5"><path d="M45.6,517.5L51.8,519.7L58.3,521.9L63.8,523.4L69.3,524.1L75.8,528.5L81.3,530.6L86.8,531.7L92.3,532.8L97.7,534.4L103.2,535L107.6,533.5L113.1,534.4L118.5,533.5L124,531.7L129.5,530L135,528.5L141.6,524.9L145.9,523.4L151.4,524.1L156.9,520.8L162.3,517.5L167.8,514.2L173.3,512L178.8,507.7L183.1,503.3L187.5,504.4L190,501.1L194.4,498.9L198.8,500L203.1,497.8L207.5,495.6L211.9,492.3L215.2,487.9L218.5,484.7L221.7,485.8L223.9,482.5L224,470L320.3,470L320.3,665L248.5,665L248,655.2L245.8,650.2L242.5,644.7L239.3,642.5L236,634.9L233.8,623.9L231.6,618L229.1,612.4L225.1,606L220.3,600.4L213.9,596.4L207.5,593.2L201,588.4L194.6,583.5L188.2,580.3L178.5,578.7L168.9,577.1L159.3,573.1L149.6,570.7L145.9,569.6L139.3,568L132.8,566.3L126.2,564.5L119.6,563L113.1,563L106.5,561.9L101,560.1L95.6,560.8L86.8,561.9L75.8,563L64.9,564.1L53.9,567.4L45.6,570.7Z"/></clipPath>
<path d="M45.6,517.5L51.8,519.7L58.3,521.9L63.8,523.4L69.3,524.1L75.8,528.5L81.3,530.6L86.8,531.7L92.3,532.8L97.7,534.4L103.2,535L107.6,533.5L113.1,534.4L118.5,533.5L124,531.7L129.5,530L135,528.5L141.6,524.9L145.9,523.4L151.4,524.1L156.9,520.8L162.3,517.5L167.8,514.2L173.3,512L178.8,507.7L183.1,503.3L187.5,504.4L190,501.1L194.4,498.9L198.8,500L203.1,497.8L207.5,495.6L211.9,492.3L215.2,487.9L218.5,484.7L221.7,485.8L223.9,482.5L224,470L320.3,470L320.3,665L248.5,665L248,655.2L245.8,650.2L242.5,644.7L239.3,642.5L236,634.9L233.8,623.9L231.6,618L229.1,612.4L225.1,606L220.3,600.4L213.9,596.4L207.5,593.2L201,588.4L194.6,583.5L188.2,580.3L178.5,578.7L168.9,577.1L159.3,573.1L149.6,570.7L145.9,569.6L139.3,568L132.8,566.3L126.2,564.5L119.6,563L113.1,563L106.5,561.9L101,560.1L95.6,560.8L86.8,561.9L75.8,563L64.9,564.1L53.9,567.4L45.6,570.7Z" fill="#b3e1d2" stroke="#66c2a5" stroke-opacity="0.5" stroke-width="0.6"/>
<path d="M44.6,452.16 L15.76,481 M44.6,474.37 L37.97,481 M44.6,496.58 L60.18,481 M44.6,518.79 L82.39,481 M44.6,541 L104.6,481 M44.6,563.21 L126.81,481 M44.6,585.42 L149.02,481 M44.6,607.63 L171.23,481 M44.6,629.84 L193.44,481 M44.6,652.05 L215.65,481 M44.6,674.26 L237.86,481 M44.6,696.47 L260.07,481 M44.6,718.67 L282.27,481 M44.6,740.88 L304.48,481 M44.6,763.09 L326.69,481 M44.6,785.3 L348.9,481 M44.6,807.51 L371.11,481 M44.6,829.72 L393.32,481 M44.6,851.93 L415.53,481 M44.6,874.14 L437.74,481 M44.6,896.35 L459.95,481 M44.6,918.56 L482.16,481 M44.6,940.77 L504.37,481 M44.6,962.98 L526.58,481" stroke="#62c0a2" stroke-width="1.18" fill="none" clip-path="url(#bd5)"/>
<path d="M45.6,546.1 H320.5" stroke="#66c2a5" stroke-opacity="1" stroke-width="1.53" fill="none"/>
<path d="M45.61,572.43C46.17,572.27 47.86,571.76 48.99,571.45C50.12,571.14 51.26,570.84 52.39,570.55C53.53,570.27 54.67,570 55.81,569.73C56.95,569.47 58.1,569.22 59.24,568.98C60.39,568.74 61.54,568.52 62.69,568.3C63.84,568.07 64.99,567.86 66.14,567.66C67.3,567.46 68.45,567.26 69.61,567.07C70.76,566.88 71.92,566.7 73.08,566.52C74.24,566.35 75.4,566.18 76.55,566.01C77.71,565.84 78.88,565.68 80.04,565.51C81.2,565.35 82.36,565.19 83.52,565.04C84.68,564.88 85.85,564.72 87.01,564.57C88.17,564.41 89.33,564.26 90.49,564.1C91.66,563.94 92.82,563.79 93.98,563.63C95.14,563.47 96.3,563.3 97.46,563.14C98.62,562.97 99.78,562.8 100.94,562.63C102.09,562.45 103.25,562.27 104.4,562.09C105.56,561.9 106.71,561.71 107.87,561.51C109.02,561.31 110.17,561.11 111.32,560.89C112.47,560.68 113.61,560.46 114.76,560.23C115.91,560 117.05,559.77 118.2,559.53C119.34,559.3 120.49,559.05 121.63,558.81C122.77,558.57 123.92,558.32 125.06,558.07C126.2,557.81 127.34,557.56 128.49,557.31C129.63,557.05 130.77,556.8 131.91,556.54C133.06,556.28 134.2,556.03 135.35,555.77C136.49,555.52 137.63,555.26 138.78,555.01C139.93,554.76 141.07,554.51 142.22,554.26C143.37,554.02 144.52,553.77 145.67,553.54C146.82,553.3 147.98,553.06 149.13,552.83C150.29,552.61 151.44,552.38 152.6,552.17C153.76,551.95 154.92,551.74 156.09,551.54C157.25,551.34 158.41,551.15 159.58,550.97C160.75,550.79 161.91,550.62 163.08,550.46C164.25,550.31 165.41,550.16 166.58,550.04C167.75,549.91 168.91,549.8 170.08,549.71C171.25,549.62 172.41,549.54 173.57,549.49C174.74,549.43 175.9,549.4 177.06,549.39C178.21,549.38 179.37,549.39 180.52,549.43C181.68,549.46 182.83,549.52 183.98,549.61C185.12,549.7 186.27,549.81 187.4,549.96C188.54,550.11 189.68,550.28 190.81,550.48C191.94,550.69 193.06,550.93 194.18,551.2C195.3,551.47 196.41,551.78 197.52,552.11C198.63,552.45 199.74,552.82 200.84,553.2C201.94,553.59 203.03,554.01 204.13,554.44C205.22,554.87 206.31,555.32 207.4,555.78C208.49,556.25 209.58,556.73 210.67,557.21C211.75,557.7 212.84,558.2 213.93,558.7C215.01,559.19 216.1,559.7 217.19,560.2C218.28,560.69 219.37,561.19 220.46,561.68C221.55,562.17 222.65,562.66 223.74,563.14C224.83,563.63 225.93,564.1 227.01,564.59C228.09,565.08 229.17,565.57 230.24,566.08C231.3,566.59 232.36,567.1 233.4,567.64C234.43,568.18 235.46,568.73 236.46,569.31C237.46,569.89 238.44,570.49 239.4,571.13C240.35,571.77 241.28,572.44 242.19,573.14C243.09,573.84 243.97,574.58 244.82,575.34C245.67,576.1 246.49,576.9 247.29,577.72C248.08,578.54 248.86,579.39 249.6,580.27C250.35,581.14 251.07,582.04 251.76,582.97C252.45,583.89 253.12,584.84 253.76,585.81C254.41,586.77 254.38,586.07 255.62,588.77C256.85,591.47 259.55,597.23 261.2,602C262.85,606.77 264.23,611.92 265.5,617.4C266.77,622.88 267.8,629.43 268.8,634.9C269.8,640.37 270.75,645.18 271.5,650.2C272.25,655.22 273,662.53 273.3,665" stroke="#fc8d62" stroke-width="1.64" fill="none" stroke-linejoin="round" stroke-linecap="butt"/>
<path d="M314.6,470L314.2,665" stroke="#fc8d62" stroke-width="1.64" fill="none" stroke-linejoin="round" stroke-linecap="butt"/>
<path d="M45.59,553.57C46.18,553.59 47.94,553.65 49.11,553.69C50.28,553.73 51.46,553.76 52.63,553.8C53.8,553.84 54.98,553.88 56.15,553.91C57.32,553.95 58.49,553.98 59.67,554.01C60.84,554.05 62.01,554.08 63.19,554.11C64.36,554.13 65.53,554.16 66.7,554.19C67.87,554.21 69.05,554.24 70.22,554.26C71.39,554.28 72.56,554.3 73.74,554.32C74.91,554.34 76.08,554.35 77.25,554.36C78.42,554.38 79.59,554.39 80.77,554.39C81.94,554.4 83.11,554.4 84.28,554.41C85.45,554.41 86.62,554.41 87.79,554.4C88.96,554.4 90.14,554.39 91.31,554.38C92.48,554.37 93.65,554.35 94.82,554.33C95.99,554.32 97.16,554.3 98.33,554.27C99.5,554.24 100.67,554.21 101.84,554.18C103.01,554.15 104.18,554.11 105.35,554.07C106.52,554.03 107.69,553.98 108.86,553.93C110.03,553.88 111.2,553.83 112.37,553.77C113.53,553.71 114.7,553.64 115.87,553.58C117.04,553.51 118.21,553.43 119.38,553.35C120.55,553.28 121.71,553.19 122.88,553.1C124.05,553.01 125.22,552.92 126.39,552.82C127.55,552.72 128.72,552.61 129.89,552.5C131.05,552.39 132.22,552.27 133.39,552.15C134.55,552.03 135.72,551.9 136.89,551.77C138.05,551.64 139.22,551.51 140.39,551.37C141.55,551.23 142.72,551.09 143.88,550.94C145.05,550.8 146.21,550.65 147.38,550.51C148.55,550.36 149.71,550.21 150.88,550.07C152.04,549.92 153.21,549.77 154.37,549.62C155.54,549.47 156.7,549.33 157.87,549.18C159.03,549.04 160.2,548.89 161.36,548.75C162.53,548.61 163.69,548.47 164.86,548.34C166.02,548.2 167.19,548.07 168.35,547.94C169.52,547.81 170.68,547.69 171.85,547.57C173.01,547.46 174.18,547.35 175.34,547.24C176.51,547.14 177.67,547.04 178.84,546.95C180,546.85 181.17,546.77 182.33,546.69C183.5,546.62 184.66,546.55 185.83,546.49C186.99,546.43 188.16,546.39 189.33,546.35C190.49,546.31 191.66,546.28 192.82,546.26C193.99,546.24 195.16,546.24 196.32,546.24C197.49,546.25 198.66,546.27 199.82,546.3C200.99,546.33 202.16,546.37 203.32,546.43C204.49,546.49 205.66,546.56 206.83,546.64C207.99,546.72 209.16,546.81 210.33,546.91C211.5,547 212.67,547.11 213.83,547.21C215,547.31 216.17,547.41 217.34,547.51C218.51,547.61 219.68,547.71 220.85,547.8C222.02,547.88 223.19,547.97 224.36,548.04C225.53,548.11 226.7,548.17 227.87,548.21C229.04,548.25 230.21,548.28 231.38,548.29C232.55,548.29 233.73,548.28 234.9,548.24C236.07,548.21 237.24,548.15 238.41,548.06C239.59,547.97 240.76,547.85 241.93,547.7C243.11,547.55 244.28,547.34 245.45,547.15C246.62,546.95 247.8,546.66 248.95,546.52C250.09,546.38 251.24,546.21 252.32,546.28C253.41,546.36 254.17,546.09 255.47,546.96C256.77,547.83 258.59,549.48 260.1,551.5C261.61,553.52 263.23,556.52 264.5,559.1C265.77,561.68 266.43,563.13 267.7,567C268.97,570.87 270.82,576.83 272.1,582.3C273.38,587.77 274.42,593.58 275.4,599.8C276.38,606.02 277.2,613.02 278,619.6C278.8,626.18 279.53,631.73 280.2,639.3C280.87,646.87 281.7,660.72 282,665" stroke="#8da0cb" stroke-width="1.64" fill="none" stroke-linejoin="round" stroke-linecap="butt"/>
<path d="M317.2,470L317.2,600" stroke="#8da0cb" stroke-width="1.64" fill="none" stroke-linejoin="round" stroke-linecap="butt"/>
<path d="M45.63,549.67C46.21,549.71 47.95,549.84 49.12,549.92C50.28,550 51.45,550.07 52.61,550.14C53.78,550.21 54.94,550.28 56.11,550.34C57.28,550.4 58.44,550.46 59.61,550.51C60.78,550.57 61.94,550.62 63.11,550.66C64.28,550.71 65.45,550.75 66.61,550.79C67.78,550.83 68.95,550.86 70.12,550.89C71.29,550.92 72.45,550.95 73.62,550.97C74.79,550.99 75.96,551.01 77.13,551.02C78.3,551.04 79.47,551.05 80.64,551.06C81.81,551.06 82.98,551.07 84.15,551.06C85.32,551.06 86.49,551.06 87.65,551.05C88.82,551.04 89.99,551.03 91.16,551.01C92.33,550.99 93.5,550.97 94.67,550.95C95.84,550.93 97.01,550.9 98.18,550.86C99.35,550.83 100.52,550.8 101.69,550.76C102.86,550.72 104.03,550.67 105.2,550.62C106.37,550.58 107.54,550.53 108.71,550.47C109.87,550.42 111.04,550.36 112.21,550.29C113.38,550.23 114.55,550.16 115.72,550.09C116.88,550.02 118.05,549.95 119.22,549.87C120.39,549.79 121.55,549.71 122.72,549.62C123.89,549.54 125.06,549.45 126.22,549.35C127.39,549.26 128.55,549.16 129.72,549.06C130.89,548.96 132.05,548.86 133.22,548.75C134.38,548.64 135.54,548.53 136.71,548.41C137.87,548.29 139.04,548.17 140.2,548.05C141.36,547.93 142.53,547.8 143.69,547.67C144.85,547.54 146.01,547.4 147.17,547.26C148.33,547.13 149.49,546.98 150.65,546.84C151.81,546.69 152.97,546.54 154.13,546.39C155.29,546.23 156.45,546.08 157.6,545.92C158.76,545.75 159.92,545.59 161.07,545.42C162.23,545.25 163.39,545.08 164.54,544.91C165.7,544.73 166.85,544.55 168,544.37C169.16,544.18 170.31,544 171.46,543.81C172.61,543.62 173.76,543.42 174.91,543.22C176.06,543.03 177.21,542.83 178.36,542.62C179.51,542.42 180.65,542.21 181.8,541.99C182.95,541.78 184.09,541.57 185.24,541.35C186.38,541.13 187.53,540.9 188.67,540.68C189.81,540.45 190.95,540.22 192.09,539.99C193.23,539.75 194.37,539.51 195.51,539.27C196.65,539.03 197.79,538.79 198.93,538.54C200.06,538.29 201.2,538.04 202.33,537.78C203.47,537.52 204.6,537.27 205.73,537C206.86,536.74 208,536.47 209.13,536.19C210.26,535.91 211.39,535.63 212.52,535.34C213.65,535.04 214.77,534.74 215.9,534.42C217.03,534.11 218.16,533.78 219.29,533.44C220.42,533.1 221.54,532.75 222.67,532.38C223.8,532.01 224.93,531.63 226.06,531.23C227.19,530.82 228.32,530.39 229.44,529.97C230.57,529.55 231.7,529.11 232.83,528.72C233.96,528.34 235.09,527.95 236.22,527.66C237.34,527.36 238.47,527.1 239.59,526.95C240.72,526.81 241.85,526.74 242.96,526.8C244.08,526.86 245.2,527.04 246.28,527.33C247.37,527.62 248.44,528.03 249.45,528.55C250.46,529.07 251.11,529.19 252.33,530.45C253.56,531.71 255.32,533.69 256.8,536.1C258.28,538.51 259.75,541.62 261.2,544.9C262.65,548.18 264.05,552.12 265.5,555.8C266.95,559.48 268.43,562.95 269.9,567C271.37,571.05 272.83,574.98 274.3,580.1C275.77,585.22 277.23,590.77 278.7,597.7C280.17,604.63 281.83,614.77 283.1,621.7C284.37,628.63 285.07,632.08 286.3,639.3C287.53,646.52 289.8,660.72 290.5,665" stroke="#e78ac3" stroke-width="1.64" fill="none" stroke-linejoin="round" stroke-linecap="butt"/>
<path d="M45.55,543.49C46.15,543.46 47.94,543.35 49.13,543.28C50.32,543.21 51.51,543.14 52.7,543.07C53.89,543 55.08,542.94 56.27,542.87C57.46,542.81 58.65,542.75 59.84,542.68C61.03,542.62 62.22,542.56 63.4,542.5C64.59,542.44 65.78,542.39 66.96,542.33C68.15,542.27 69.34,542.22 70.52,542.16C71.71,542.11 72.9,542.05 74.08,542C75.27,541.95 76.45,541.89 77.64,541.84C78.82,541.79 80,541.74 81.19,541.69C82.37,541.64 83.56,541.59 84.74,541.54C85.92,541.5 87.11,541.45 88.29,541.4C89.47,541.35 90.65,541.31 91.84,541.26C93.02,541.22 94.2,541.17 95.38,541.13C96.56,541.08 97.75,541.04 98.93,540.99C100.11,540.95 101.29,540.9 102.47,540.86C103.65,540.81 104.83,540.77 106.01,540.73C107.2,540.68 108.38,540.64 109.56,540.59C110.74,540.55 111.92,540.51 113.1,540.46C114.28,540.42 115.46,540.37 116.64,540.33C117.82,540.29 119,540.24 120.18,540.2C121.36,540.15 122.54,540.11 123.72,540.06C124.9,540.02 126.08,539.97 127.26,539.92C128.44,539.88 129.63,539.83 130.81,539.78C131.99,539.74 133.17,539.69 134.35,539.64C135.53,539.59 136.71,539.54 137.89,539.49C139.07,539.44 140.25,539.39 141.43,539.34C142.62,539.29 143.8,539.24 144.98,539.18C146.16,539.13 147.34,539.08 148.52,539.02C149.71,538.96 150.89,538.91 152.07,538.85C153.25,538.79 154.44,538.73 155.62,538.67C156.8,538.61 157.99,538.55 159.17,538.49C160.35,538.43 161.54,538.36 162.72,538.3C163.9,538.23 165.09,538.17 166.27,538.1C167.46,538.03 168.64,537.96 169.83,537.89C171.01,537.82 172.2,537.75 173.39,537.67C174.57,537.6 175.76,537.52 176.95,537.44C178.13,537.36 179.32,537.28 180.51,537.2C181.7,537.12 182.89,537.04 184.07,536.95C185.26,536.87 186.45,536.78 187.64,536.69C188.83,536.6 190.02,536.51 191.21,536.41C192.4,536.32 193.6,536.22 194.79,536.12C195.98,536.03 197.17,535.93 198.37,535.82C199.56,535.72 200.75,535.62 201.95,535.51C203.14,535.4 204.34,535.29 205.53,535.18C206.73,535.06 207.92,534.94 209.11,534.81C210.3,534.67 211.49,534.53 212.67,534.37C213.85,534.21 215.02,534.03 216.19,533.83C217.36,533.63 218.52,533.41 219.66,533.16C220.81,532.9 221.95,532.63 223.07,532.31C224.2,532 225.31,531.66 226.4,531.27C227.5,530.89 228.58,530.46 229.64,530C230.7,529.53 231.75,529.03 232.77,528.49C233.79,527.94 234.8,527.36 235.78,526.74C236.77,526.12 237.73,525.47 238.67,524.77C239.61,524.08 240.53,523.34 241.42,522.58C242.31,521.81 243.17,521 244.01,520.17C244.86,519.34 245.68,518.47 246.48,517.59C247.29,516.71 248.08,515.8 248.87,514.89C249.65,513.98 250.42,513.05 251.2,512.13C251.97,511.21 252.74,510.27 253.52,509.36C254.29,508.44 254.4,508.19 255.86,506.63C257.33,505.07 260.51,501.54 262.3,500C264.09,498.46 265.33,497.83 266.6,497.4C267.87,496.97 268.8,496.78 269.9,497.4C271,498.02 272.1,499.03 273.2,501.1C274.3,503.17 275.4,505.78 276.5,509.8C277.6,513.82 278.7,519.72 279.8,525.2C280.9,530.68 282.2,537.6 283.1,542.7C284,547.8 284.48,551.75 285.2,555.8C285.92,559.85 286.67,563.32 287.4,567C288.13,570.68 288.93,574.9 289.6,577.9C290.27,580.9 290.85,583.9 291.4,585C291.95,586.1 292.35,586.03 292.9,584.5C293.45,582.97 294.18,578.72 294.7,575.8C295.22,572.88 295.68,571.42 296,567C296.32,562.58 296.2,557 296.6,549.3C297,541.6 297.92,529.2 298.4,520.8C298.88,512.4 299.1,507.37 299.5,498.9C299.9,490.43 300.58,474.82 300.8,470" stroke="#a6d854" stroke-width="1.64" fill="none" stroke-linejoin="round" stroke-linecap="butt"/>
<path d="M45.51,535.6C46.1,535.66 47.89,535.86 49.09,535.99C50.28,536.11 51.47,536.23 52.66,536.35C53.85,536.47 55.04,536.58 56.23,536.69C57.42,536.8 58.61,536.91 59.79,537.01C60.98,537.11 62.17,537.21 63.36,537.31C64.54,537.4 65.73,537.49 66.91,537.58C68.1,537.67 69.28,537.75 70.47,537.83C71.65,537.91 72.83,537.98 74.02,538.06C75.2,538.13 76.38,538.2 77.56,538.26C78.75,538.33 79.93,538.39 81.11,538.45C82.29,538.5 83.47,538.56 84.65,538.61C85.83,538.66 87.01,538.71 88.19,538.75C89.37,538.79 90.55,538.83 91.73,538.87C92.91,538.91 94.08,538.94 95.26,538.97C96.44,539 97.62,539.02 98.8,539.05C99.97,539.07 101.15,539.09 102.33,539.11C103.51,539.12 104.68,539.14 105.86,539.15C107.04,539.16 108.21,539.16 109.39,539.17C110.57,539.17 111.74,539.17 112.92,539.17C114.09,539.17 115.27,539.16 116.45,539.15C117.62,539.14 118.8,539.13 119.97,539.12C121.15,539.1 122.33,539.08 123.5,539.06C124.68,539.04 125.86,539.02 127.03,538.99C128.21,538.96 129.38,538.93 130.56,538.9C131.74,538.87 132.91,538.83 134.09,538.79C135.27,538.76 136.44,538.72 137.62,538.67C138.8,538.63 139.97,538.58 141.15,538.53C142.33,538.48 143.51,538.43 144.68,538.38C145.86,538.32 147.04,538.26 148.22,538.2C149.4,538.14 150.57,538.08 151.75,538.02C152.93,537.95 154.11,537.88 155.29,537.81C156.47,537.74 157.65,537.67 158.83,537.59C160.01,537.52 161.19,537.44 162.37,537.36C163.56,537.28 164.74,537.2 165.92,537.11C167.1,537.03 168.28,536.94 169.47,536.85C170.65,536.76 171.84,536.67 173.02,536.57C174.2,536.48 175.39,536.38 176.57,536.29C177.76,536.19 178.95,536.09 180.13,535.98C181.32,535.88 182.51,535.77 183.69,535.67C184.88,535.56 186.07,535.45 187.26,535.34C188.45,535.23 189.64,535.11 190.83,535C192.02,534.88 193.21,534.76 194.41,534.64C195.6,534.52 196.79,534.4 197.99,534.28C199.18,534.16 200.38,534.03 201.57,533.9C202.77,533.78 203.97,533.65 205.16,533.52C206.36,533.38 207.56,533.25 208.75,533.1C209.94,532.95 211.13,532.8 212.32,532.63C213.5,532.47 214.68,532.29 215.85,532.09C217.02,531.89 218.18,531.68 219.33,531.44C220.47,531.19 221.61,530.94 222.74,530.65C223.86,530.36 224.97,530.05 226.06,529.7C227.16,529.35 228.23,528.98 229.29,528.56C230.35,528.15 231.39,527.7 232.4,527.21C233.41,526.72 234.41,526.19 235.38,525.61C236.34,525.03 237.29,524.42 238.2,523.74C239.12,523.07 240.01,522.35 240.87,521.58C241.72,520.8 242.55,519.97 243.35,519.09C244.15,518.21 244.91,517.27 245.65,516.3C246.4,515.34 247.11,514.32 247.82,513.29C248.52,512.27 249.2,511.2 249.88,510.15C250.55,509.09 251.21,508 251.86,506.94C252.52,505.88 253.16,504.8 253.81,503.76C254.46,502.72 254.33,502.6 255.75,500.69C257.17,498.78 260.31,494.43 262.3,492.3C264.29,490.17 265.88,488.7 267.7,487.9C269.52,487.1 271.37,486.83 273.2,487.5C275.03,488.17 277.05,490 278.7,491.9C280.35,493.8 281.83,497 283.1,498.9C284.37,500.8 285.32,502.65 286.3,503.3C287.28,503.95 288.27,503.9 289,502.8C289.73,501.7 290.15,499.53 290.7,496.7C291.25,493.87 291.88,490.25 292.3,485.8C292.72,481.35 293.05,472.63 293.2,470" stroke="#ffd92f" stroke-width="1.84" fill="none" stroke-linejoin="round" stroke-linecap="butt"/>
<path d="M315.9,470C316.02,491.67 316.32,567.5 316.6,600C316.88,632.5 317.43,654.17 317.6,665" stroke="#ffd92f" stroke-width="1.84" fill="none" stroke-linejoin="round" stroke-linecap="butt"/>
<path d="M319,610L319,665" stroke="#ffd92f" stroke-width="1.84" fill="none" stroke-linejoin="round" stroke-linecap="butt"/>
<path d="M45.61,531.1C46.2,531.15 47.95,531.31 49.12,531.41C50.29,531.5 51.47,531.58 52.64,531.66C53.81,531.74 54.98,531.81 56.16,531.87C57.33,531.93 58.51,531.99 59.68,532.04C60.85,532.08 62.03,532.13 63.2,532.16C64.38,532.2 65.55,532.23 66.73,532.25C67.9,532.27 69.08,532.29 70.25,532.3C71.43,532.31 72.61,532.32 73.78,532.32C74.96,532.32 76.14,532.32 77.31,532.31C78.49,532.3 79.67,532.29 80.84,532.27C82.02,532.25 83.2,532.23 84.38,532.2C85.55,532.18 86.73,532.15 87.91,532.12C89.09,532.08 90.26,532.05 91.44,532.01C92.62,531.97 93.8,531.93 94.97,531.88C96.15,531.84 97.33,531.79 98.51,531.74C99.69,531.69 100.86,531.64 102.04,531.59C103.22,531.53 104.4,531.48 105.57,531.42C106.75,531.37 107.93,531.31 109.1,531.25C110.28,531.19 111.46,531.13 112.64,531.07C113.81,531.01 114.99,530.95 116.17,530.89C117.34,530.83 118.52,530.77 119.69,530.71C120.87,530.65 122.05,530.59 123.22,530.53C124.4,530.47 125.57,530.41 126.75,530.35C127.92,530.3 129.1,530.24 130.27,530.19C131.45,530.13 132.62,530.08 133.79,530.03C134.97,529.98 136.14,529.93 137.31,529.88C138.49,529.83 139.66,529.78 140.83,529.73C142,529.69 143.18,529.64 144.35,529.59C145.52,529.55 146.69,529.5 147.86,529.46C149.04,529.41 150.21,529.36 151.38,529.32C152.55,529.27 153.72,529.23 154.89,529.18C156.07,529.13 157.24,529.09 158.41,529.04C159.58,528.99 160.75,528.94 161.92,528.89C163.09,528.84 164.27,528.79 165.44,528.74C166.61,528.68 167.78,528.63 168.95,528.57C170.13,528.52 171.3,528.46 172.47,528.4C173.64,528.34 174.82,528.28 175.99,528.21C177.16,528.15 178.34,528.08 179.51,528.01C180.68,527.94 181.86,527.87 183.03,527.79C184.2,527.72 185.38,527.64 186.55,527.56C187.73,527.47 188.9,527.39 190.08,527.3C191.26,527.21 192.43,527.12 193.61,527.02C194.79,526.92 195.96,526.82 197.14,526.71C198.32,526.61 199.5,526.5 200.68,526.38C201.86,526.27 203.04,526.15 204.22,526.03C205.4,525.9 206.58,525.77 207.76,525.63C208.93,525.49 210.11,525.34 211.29,525.18C212.46,525.01 213.63,524.84 214.8,524.64C215.97,524.45 217.13,524.24 218.29,524.01C219.44,523.78 220.59,523.53 221.73,523.26C222.88,522.98 224.01,522.68 225.14,522.36C226.26,522.03 227.38,521.68 228.48,521.29C229.58,520.91 230.68,520.49 231.75,520.04C232.81,519.58 233.87,519.1 234.89,518.56C235.92,518.03 236.92,517.46 237.88,516.84C238.85,516.22 239.78,515.55 240.68,514.84C241.57,514.12 242.42,513.34 243.23,512.52C244.04,511.7 244.8,510.82 245.54,509.91C246.27,508.99 246.96,508.03 247.63,507.05C248.3,506.06 248.94,505.04 249.56,504.01C250.18,502.98 250.78,501.91 251.37,500.86C251.96,499.8 252.52,498.72 253.09,497.66C253.66,496.6 253.8,496.28 254.78,494.48C255.77,492.69 257.63,490.98 259,486.9C260.37,482.82 262.33,472.82 263,470" stroke="#e5c494" stroke-width="1.64" fill="none" stroke-linejoin="round" stroke-linecap="butt"/>
<path d="M319.2,470L319.2,542" stroke="#e5c494" stroke-width="1.64" fill="none" stroke-linejoin="round" stroke-linecap="butt"/>
</g>
<path d="M45.6,482 V655.5 H333.57" stroke="#333" stroke-width="1.02" fill="none" stroke-linecap="square"/>
<path d="M64.5,655.5 v3.68 M128.5,655.5 v3.68 M192.5,655.5 v3.68 M256.5,655.5 v3.68 M320.5,655.5 v3.68 M45.6,512.2 h-3.68 M45.6,546.1 h-3.68 M45.6,580.1 h-3.68 M45.6,614 h-3.68 M45.6,648 h-3.68" stroke="#333" stroke-width="0.92" fill="none"/>
<path d="M50.3,655.5 v2.15 M54.59,655.5 v2.15 M58.3,655.5 v2.15 M61.57,655.5 v2.15 M83.77,655.5 v2.15 M95.04,655.5 v2.15 M103.03,655.5 v2.15 M109.23,655.5 v2.15 M114.3,655.5 v2.15 M118.59,655.5 v2.15 M122.3,655.5 v2.15 M125.57,655.5 v2.15 M147.77,655.5 v2.15 M159.04,655.5 v2.15 M167.03,655.5 v2.15 M173.23,655.5 v2.15 M178.3,655.5 v2.15 M182.59,655.5 v2.15 M186.3,655.5 v2.15 M189.57,655.5 v2.15 M211.77,655.5 v2.15 M223.04,655.5 v2.15 M231.03,655.5 v2.15 M237.23,655.5 v2.15 M242.3,655.5 v2.15 M246.59,655.5 v2.15 M250.3,655.5 v2.15 M253.57,655.5 v2.15 M275.77,655.5 v2.15 M287.04,655.5 v2.15 M295.03,655.5 v2.15 M301.23,655.5 v2.15 M306.3,655.5 v2.15 M310.59,655.5 v2.15 M314.3,655.5 v2.15 M317.57,655.5 v2.15" stroke="#333" stroke-width="0.82" fill="none"/>
<text x="51.61" y="670.85" font-size="11.25" textLength="13.81" lengthAdjust="spacingAndGlyphs">10</text>
<text x="65.52" y="667.01" font-size="8.29" textLength="11.15" lengthAdjust="spacingAndGlyphs">−4</text>
<text x="115.61" y="670.85" font-size="11.25" textLength="13.81" lengthAdjust="spacingAndGlyphs">10</text>
<text x="129.52" y="667.01" font-size="8.29" textLength="11.15" lengthAdjust="spacingAndGlyphs">−3</text>
<text x="179.61" y="670.85" font-size="11.25" textLength="13.81" lengthAdjust="spacingAndGlyphs">10</text>
<text x="193.52" y="667.01" font-size="8.29" textLength="11.15" lengthAdjust="spacingAndGlyphs">−2</text>
<text x="243.61" y="670.85" font-size="11.25" textLength="13.81" lengthAdjust="spacingAndGlyphs">10</text>
<text x="257.52" y="667.01" font-size="8.29" textLength="11.15" lengthAdjust="spacingAndGlyphs">−1</text>
<text x="311.09" y="670.85" font-size="11.25" textLength="13.81" lengthAdjust="spacingAndGlyphs">10</text>
<text x="325" y="667.01" font-size="8.29" textLength="4.6" lengthAdjust="spacingAndGlyphs">0</text>
<text x="38.03" y="516.24" font-size="10.95" text-anchor="end" textLength="23.43" lengthAdjust="spacingAndGlyphs">1.02</text>
<text x="38.03" y="550.14" font-size="10.95" text-anchor="end" textLength="23.43" lengthAdjust="spacingAndGlyphs">1.00</text>
<text x="38.03" y="584.14" font-size="10.95" text-anchor="end" textLength="23.43" lengthAdjust="spacingAndGlyphs">0.98</text>
<text x="38.03" y="618.04" font-size="10.95" text-anchor="end" textLength="23.43" lengthAdjust="spacingAndGlyphs">0.96</text>
<text x="38.03" y="652.04" font-size="10.95" text-anchor="end" textLength="23.43" lengthAdjust="spacingAndGlyphs">0.94</text>
<text x="189.28" y="684.55" font-size="11.15" text-anchor="middle">x</text>
<text transform="translate(7.75,568.75) rotate(-90)" font-size="10.95" text-anchor="middle" textLength="107.93" lengthAdjust="spacingAndGlyphs">Ratio to α<tspan font-size="7.38" dy="1.84" font-style="italic">s</tspan><tspan dy="-1.84"> = 0.1180</tspan></text>
<text x="188.46" y="475.96" font-size="12.58" text-anchor="middle" textLength="82.86" lengthAdjust="spacingAndGlyphs">s at 100 GeV</text>
<rect x="146.4" y="553.2" width="85.52" height="98" rx="2.05" fill="#fff" fill-opacity="0.6" stroke="#ccc" stroke-opacity="0.8" stroke-width="0.82"/>
<g><clipPath id="lc5"><rect x="149.98" y="557.29" width="18.82" height="6.75"/></clipPath>
<rect x="149.98" y="557.29" width="18.82" height="6.75" fill="#66c2a5" fill-opacity="0.5"/>
<path d="M109.39,565.04 L118.15,556.29 M131.6,565.04 L140.35,556.29 M153.81,565.04 L162.56,556.29 M176.02,565.04 L184.77,556.29" stroke="#555" stroke-width="0.82" clip-path="url(#lc5)"/>
<rect x="149.98" y="557.29" width="18.82" height="6.75" fill="none" stroke="#555" stroke-width="0.92"/></g>
<text x="175.25" y="564.04" font-size="9.92" textLength="51.66" lengthAdjust="spacingAndGlyphs">α<tspan font-size="6.95" dy="1.64" font-style="italic">s</tspan><tspan dy="-1.64"> = 0.1180</tspan></text>
<path d="M149.98,574.28 H168.8" stroke="#fc8d62" stroke-width="1.64" fill="none"/>
<text x="175.25" y="577.66" font-size="9.92" textLength="51.66" lengthAdjust="spacingAndGlyphs">α<tspan font-size="6.95" dy="1.64" font-style="italic">s</tspan><tspan dy="-1.64"> = 0.1160</tspan></text>
<path d="M149.98,587.9 H168.8" stroke="#8da0cb" stroke-width="1.64" fill="none"/>
<text x="175.25" y="591.28" font-size="9.92" textLength="51.66" lengthAdjust="spacingAndGlyphs">α<tspan font-size="6.95" dy="1.64" font-style="italic">s</tspan><tspan dy="-1.64"> = 0.1170</tspan></text>
<path d="M149.98,601.52 H168.8" stroke="#e78ac3" stroke-width="1.64" fill="none"/>
<text x="175.25" y="604.89" font-size="9.92" textLength="51.66" lengthAdjust="spacingAndGlyphs">α<tspan font-size="6.95" dy="1.64" font-style="italic">s</tspan><tspan dy="-1.64"> = 0.1175</tspan></text>
<path d="M149.98,615.13 H168.8" stroke="#a6d854" stroke-width="1.64" fill="none"/>
<text x="175.25" y="618.51" font-size="9.92" textLength="51.66" lengthAdjust="spacingAndGlyphs">α<tspan font-size="6.95" dy="1.64" font-style="italic">s</tspan><tspan dy="-1.64"> = 0.1188</tspan></text>
<path d="M149.98,628.75 H168.8" stroke="#ffd92f" stroke-width="1.84" fill="none"/>
<text x="175.25" y="632.12" font-size="9.92" textLength="51.66" lengthAdjust="spacingAndGlyphs">α<tspan font-size="6.95" dy="1.64" font-style="italic">s</tspan><tspan dy="-1.64"> = 0.1190</tspan></text>
<path d="M149.98,642.36 H168.8" stroke="#e5c494" stroke-width="1.64" fill="none"/>
<text x="175.25" y="645.74" font-size="9.92" textLength="51.66" lengthAdjust="spacingAndGlyphs">α<tspan font-size="6.95" dy="1.64" font-style="italic">s</tspan><tspan dy="-1.64"> = 0.1200</tspan></text>
</g>
<g id="p6">
<path d="M416.4,482.1 V655.09 M480.4,482.1 V655.09 M544.4,482.1 V655.09 M608.4,482.1 V655.09 M672.4,482.1 V655.09 M397.5,494.2 H684.63 M397.5,516.1 H684.63 M397.5,538 H684.63 M397.5,559.95 H684.63 M397.5,581.9 H684.63 M397.5,603.8 H684.63 M397.5,625.7 H684.63 M397.5,647.6 H684.63" stroke="#f3f3f3" stroke-width="0.8" fill="none"/>
<clipPath id="ax6"><rect x="397.5" y="482.1" width="287.13" height="172.99"/></clipPath>
<g clip-path="url(#ax6)">
<clipPath id="bd6"><path d="M397.6,545.3L402.7,547.5L407,549.3L411.4,550.4L415.8,553.6L420.2,556.3L424.6,558L428.9,559.8L433.3,562L437.7,563.5L442.1,565L447.6,565.7L451.9,567L458.5,565.7L465.1,564.1L471.6,562L478.2,559.8L484.8,557.6L490.2,555.4L495.7,554.7L501.2,552.5L506.7,553.6L511,550.4L515.4,547.1L519.8,545.3L524.2,542.7L528.6,540.5L532.9,536.8L535,536.1L539.4,532.8L543.8,529.6L548.1,526.3L552.5,524.7L556.9,524.1L561.3,522.5L564.6,518.6L567.8,515.3L571.1,514.2L574.4,507.7L577.7,503.3L581,498.9L583.2,495.6L585.8,490.1L588.7,485.8L591.5,481.8L592,470L671.9,470L671.9,665L566,665L565.7,655.2L563.5,653.5L560.2,650.2L556.9,647.6L552.5,646.3L548.1,648L543.8,648.5L539.4,645.8L535,642.5L531.9,637.1L527.5,632.7L523.1,628.3L518.7,625L514.3,621.7L510,618.5L504.5,615.2L497.9,612.5L491.3,610.4L484.8,608.2L478.2,606L471.6,604.2L465.1,603.1L458.5,602L453,599.4L447.6,598.1L442.1,598.7L436.6,600.3L430,602L423.5,603.8L416.9,605.3L410.3,607.5L403.8,610.8L397.6,614.1Z"/></clipPath>
<path d="M397.6,545.3L402.7,547.5L407,549.3L411.4,550.4L415.8,553.6L420.2,556.3L424.6,558L428.9,559.8L433.3,562L437.7,563.5L442.1,565L447.6,565.7L451.9,567L458.5,565.7L465.1,564.1L471.6,562L478.2,559.8L484.8,557.6L490.2,555.4L495.7,554.7L501.2,552.5L506.7,553.6L511,550.4L515.4,547.1L519.8,545.3L524.2,542.7L528.6,540.5L532.9,536.8L535,536.1L539.4,532.8L543.8,529.6L548.1,526.3L552.5,524.7L556.9,524.1L561.3,522.5L564.6,518.6L567.8,515.3L571.1,514.2L574.4,507.7L577.7,503.3L581,498.9L583.2,495.6L585.8,490.1L588.7,485.8L591.5,481.8L592,470L671.9,470L671.9,665L566,665L565.7,655.2L563.5,653.5L560.2,650.2L556.9,647.6L552.5,646.3L548.1,648L543.8,648.5L539.4,645.8L535,642.5L531.9,637.1L527.5,632.7L523.1,628.3L518.7,625L514.3,621.7L510,618.5L504.5,615.2L497.9,612.5L491.3,610.4L484.8,608.2L478.2,606L471.6,604.2L465.1,603.1L458.5,602L453,599.4L447.6,598.1L442.1,598.7L436.6,600.3L430,602L423.5,603.8L416.9,605.3L410.3,607.5L403.8,610.8L397.6,614.1Z" fill="#b3e1d2" stroke="#66c2a5" stroke-opacity="0.5" stroke-width="0.6"/>
<path d="M396.5,452.13 L367.53,481.1 M396.5,474.28 L389.68,481.1 M396.5,496.42 L411.82,481.1 M396.5,518.57 L433.97,481.1 M396.5,540.71 L456.11,481.1 M396.5,562.86 L478.26,481.1 M396.5,585 L500.4,481.1 M396.5,607.14 L522.54,481.1 M396.5,629.29 L544.69,481.1 M396.5,651.43 L566.83,481.1 M396.5,673.58 L588.98,481.1 M396.5,695.72 L611.12,481.1 M396.5,717.87 L633.27,481.1 M396.5,740.01 L655.41,481.1 M396.5,762.15 L677.55,481.1 M396.5,784.3 L699.7,481.1 M396.5,806.44 L721.84,481.1 M396.5,828.59 L743.99,481.1 M396.5,850.73 L766.13,481.1 M396.5,872.87 L788.27,481.1 M396.5,895.02 L810.42,481.1 M396.5,917.16 L832.56,481.1 M396.5,939.31 L854.71,481.1 M396.5,961.45 L876.85,481.1" stroke="#62c0a2" stroke-width="1.17" fill="none" clip-path="url(#bd6)"/>
<path d="M397.5,581.9 H672.4" stroke="#66c2a5" stroke-opacity="1" stroke-width="1.53" fill="none"/>
<path d="M397.63,611.91C398.2,611.81 399.92,611.49 401.07,611.29C402.23,611.09 403.38,610.89 404.53,610.71C405.69,610.52 406.84,610.34 408,610.17C409.16,610 410.32,609.84 411.48,609.68C412.64,609.53 413.8,609.38 414.97,609.23C416.13,609.09 417.3,608.96 418.46,608.83C419.63,608.71 420.79,608.59 421.96,608.48C423.13,608.36 424.3,608.26 425.47,608.16C426.64,608.07 427.81,607.98 428.98,607.9C430.15,607.82 431.33,607.74 432.5,607.68C433.67,607.61 434.84,607.56 436.02,607.51C437.19,607.46 438.37,607.41 439.54,607.38C440.72,607.35 441.89,607.32 443.07,607.3C444.24,607.28 445.42,607.27 446.59,607.27C447.77,607.27 448.94,607.27 450.12,607.29C451.29,607.3 452.47,607.32 453.64,607.35C454.81,607.38 455.99,607.42 457.16,607.47C458.34,607.51 459.51,607.57 460.68,607.63C461.86,607.69 463.03,607.77 464.2,607.84C465.37,607.92 466.54,608.01 467.71,608.11C468.88,608.2 470.05,608.31 471.22,608.42C472.39,608.53 473.56,608.65 474.72,608.78C475.89,608.91 477.05,609.05 478.22,609.2C479.38,609.34 480.54,609.5 481.71,609.66C482.87,609.83 484.03,610 485.18,610.18C486.34,610.36 487.5,610.55 488.65,610.75C489.81,610.95 490.96,611.16 492.11,611.37C493.27,611.59 494.42,611.81 495.56,612.05C496.71,612.28 497.86,612.52 499,612.77C500.14,613.03 501.29,613.29 502.43,613.56C503.56,613.83 504.7,614.1 505.84,614.39C506.97,614.68 508.1,614.97 509.23,615.28C510.36,615.59 511.49,615.9 512.62,616.22C513.74,616.55 514.86,616.88 515.98,617.22C517.1,617.56 518.22,617.92 519.33,618.28C520.44,618.64 521.55,619.01 522.66,619.39C523.77,619.77 524.87,620.15 525.98,620.55C527.08,620.95 528.17,621.36 529.27,621.77C530.37,622.18 531.46,622.61 532.55,623.03C533.65,623.45 534.74,623.88 535.83,624.31C536.92,624.73 538.02,625.16 539.11,625.58C540.21,626 541.31,626.42 542.41,626.83C543.51,627.25 544.61,627.65 545.72,628.05C546.83,628.44 547.95,628.83 549.07,629.2C550.19,629.57 551.31,629.92 552.45,630.26C553.58,630.6 554.72,630.93 555.87,631.23C557.02,631.53 558.19,631.82 559.35,632.07C560.52,632.33 561.69,632.56 562.87,632.75C564.04,632.94 565.22,633.1 566.39,633.21C567.56,633.32 568.74,633.4 569.9,633.41C571.06,633.42 572.22,633.38 573.36,633.28C574.51,633.18 575.64,633.02 576.76,632.78C577.87,632.54 578.97,632.23 580.06,631.86C581.14,631.48 582.2,631.02 583.25,630.52C584.3,630.02 585.34,629.45 586.36,628.86C587.39,628.27 588.4,627.62 589.41,626.97C590.42,626.31 591.42,625.62 592.41,624.93C593.41,624.25 594.4,623.54 595.4,622.85C596.39,622.17 597.38,621.47 598.38,620.82C599.37,620.16 600.37,619.51 601.37,618.92C602.38,618.32 603.39,617.75 604.41,617.25C605.43,616.75 606.13,616.43 607.51,615.91C608.89,615.38 610.92,614.15 612.7,614.1C614.48,614.05 616.55,614.68 618.2,615.6C619.85,616.52 621.13,617.3 622.6,619.6C624.07,621.9 625.73,625.75 627,629.4C628.27,633.05 629.3,637.67 630.2,641.5C631.1,645.33 631.77,648.48 632.4,652.4C633.03,656.32 633.73,662.9 634,665" stroke="#fc8d62" stroke-width="1.63" fill="none" stroke-linejoin="round" stroke-linecap="butt"/>
<path d="M666.4,610L666.8,665" stroke="#fc8d62" stroke-width="1.63" fill="none" stroke-linejoin="round" stroke-linecap="butt"/>
<path d="M397.61,589.98C398.19,590 399.94,590.04 401.1,590.07C402.27,590.1 403.44,590.13 404.6,590.16C405.77,590.2 406.93,590.23 408.1,590.27C409.27,590.31 410.43,590.35 411.6,590.4C412.77,590.44 413.93,590.49 415.1,590.53C416.27,590.58 417.43,590.63 418.6,590.68C419.77,590.74 420.93,590.79 422.1,590.85C423.27,590.9 424.43,590.96 425.6,591.03C426.77,591.09 427.93,591.15 429.1,591.22C430.27,591.28 431.43,591.35 432.6,591.42C433.77,591.49 434.93,591.57 436.1,591.64C437.27,591.72 438.43,591.79 439.6,591.87C440.76,591.95 441.93,592.04 443.1,592.12C444.26,592.21 445.43,592.29 446.59,592.38C447.76,592.47 448.92,592.56 450.09,592.66C451.25,592.75 452.42,592.85 453.58,592.95C454.75,593.05 455.91,593.15 457.08,593.25C458.24,593.36 459.41,593.46 460.57,593.57C461.73,593.68 462.9,593.79 464.06,593.9C465.22,594.02 466.39,594.13 467.55,594.25C468.71,594.37 469.88,594.49 471.04,594.61C472.2,594.73 473.36,594.86 474.52,594.99C475.68,595.12 476.84,595.25 478.01,595.38C479.17,595.51 480.33,595.65 481.49,595.79C482.65,595.92 483.8,596.06 484.96,596.21C486.12,596.35 487.28,596.5 488.44,596.64C489.6,596.79 490.75,596.94 491.91,597.09C493.07,597.25 494.23,597.4 495.38,597.56C496.54,597.72 497.69,597.88 498.85,598.04C500.01,598.2 501.16,598.37 502.32,598.54C503.47,598.71 504.62,598.88 505.78,599.05C506.93,599.22 508.09,599.4 509.24,599.58C510.39,599.75 511.54,599.93 512.7,600.12C513.85,600.3 515,600.49 516.15,600.67C517.3,600.86 518.46,601.05 519.61,601.25C520.76,601.44 521.91,601.63 523.06,601.83C524.21,602.03 525.36,602.23 526.51,602.44C527.65,602.64 528.8,602.85 529.95,603.05C531.1,603.26 532.25,603.47 533.4,603.69C534.54,603.9 535.69,604.12 536.84,604.34C537.98,604.55 539.13,604.78 540.28,605C541.42,605.22 542.57,605.45 543.71,605.68C544.86,605.91 546,606.14 547.15,606.37C548.29,606.61 549.44,606.84 550.58,607.08C551.72,607.32 552.87,607.56 554.01,607.8C555.15,608.04 556.3,608.28 557.44,608.52C558.58,608.77 559.73,609.01 560.87,609.25C562.01,609.49 563.16,609.73 564.3,609.97C565.44,610.21 566.58,610.45 567.73,610.68C568.87,610.92 570.01,611.15 571.16,611.39C572.3,611.63 573.44,611.87 574.58,612.12C575.71,612.37 576.85,612.62 577.98,612.89C579.11,613.16 580.23,613.44 581.35,613.74C582.47,614.04 583.59,614.35 584.7,614.69C585.8,615.03 586.9,615.39 587.99,615.79C589.08,616.18 590.16,616.6 591.23,617.05C592.31,617.49 593.37,617.97 594.43,618.46C595.49,618.95 596.54,619.47 597.59,619.98C598.64,620.5 598.75,620.54 600.73,621.56C602.72,622.58 606.96,625.04 609.5,626.1C612.04,627.16 614,627.9 616,627.9C618,627.9 619.85,627.32 621.5,626.1C623.15,624.88 624.45,623.15 625.9,620.6C627.35,618.05 628.93,613.45 630.2,610.8C631.47,608.15 632.58,605.87 633.5,604.7C634.42,603.53 634.97,603.33 635.7,603.8C636.43,604.27 636.98,604.52 637.9,607.5C638.82,610.48 640.1,616.77 641.2,621.7C642.3,626.63 643.58,633.27 644.5,637.1C645.42,640.93 646.05,643.17 646.7,644.7C647.35,646.23 647.75,646.83 648.4,646.3C649.05,645.77 649.8,643.95 650.6,641.5C651.4,639.05 652.47,633.73 653.2,631.6C653.93,629.47 654.45,628.52 655,628.7C655.55,628.88 655.98,630.22 656.5,632.7C657.02,635.18 657.43,638.22 658.1,643.6C658.77,648.98 660.1,661.43 660.5,665" stroke="#8da0cb" stroke-width="1.63" fill="none" stroke-linejoin="round" stroke-linecap="butt"/>
<path d="M670.3,470L670.3,665" stroke="#8da0cb" stroke-width="1.63" fill="none" stroke-linejoin="round" stroke-linecap="butt"/>
<path d="M397.6,585.07C398.19,585.12 399.95,585.28 401.13,585.38C402.31,585.48 403.49,585.58 404.67,585.67C405.85,585.76 407.02,585.85 408.2,585.93C409.38,586.01 410.56,586.09 411.74,586.16C412.92,586.24 414.1,586.31 415.28,586.37C416.46,586.44 417.64,586.5 418.82,586.56C420.01,586.62 421.19,586.68 422.37,586.74C423.55,586.79 424.73,586.84 425.91,586.89C427.09,586.94 428.27,586.99 429.46,587.03C430.64,587.08 431.82,587.12 433,587.16C434.18,587.2 435.37,587.24 436.55,587.28C437.73,587.32 438.91,587.36 440.09,587.39C441.28,587.43 442.46,587.46 443.64,587.5C444.82,587.53 446.01,587.57 447.19,587.6C448.37,587.63 449.55,587.67 450.73,587.7C451.92,587.73 453.1,587.77 454.28,587.8C455.46,587.83 456.64,587.87 457.83,587.9C459.01,587.94 460.19,587.97 461.37,588.01C462.55,588.05 463.73,588.08 464.91,588.12C466.09,588.16 467.28,588.2 468.46,588.24C469.64,588.29 470.82,588.33 472,588.38C473.18,588.42 474.36,588.47 475.54,588.52C476.72,588.57 477.9,588.63 479.08,588.68C480.26,588.74 481.43,588.8 482.61,588.86C483.79,588.92 484.97,588.99 486.15,589.06C487.33,589.13 488.5,589.2 489.68,589.28C490.86,589.35 492.03,589.43 493.21,589.52C494.39,589.6 495.56,589.69 496.74,589.79C497.91,589.88 499.09,589.98 500.26,590.08C501.44,590.18 502.61,590.29 503.78,590.4C504.96,590.52 506.13,590.64 507.3,590.76C508.47,590.88 509.65,591.01 510.82,591.15C511.99,591.29 513.16,591.43 514.33,591.58C515.5,591.72 516.67,591.88 517.84,592.04C519.01,592.2 520.17,592.37 521.34,592.54C522.51,592.72 523.68,592.9 524.84,593.09C526.01,593.28 527.17,593.47 528.34,593.68C529.5,593.88 530.67,594.09 531.83,594.32C532.99,594.54 534.16,594.76 535.32,595C536.48,595.24 537.64,595.48 538.8,595.74C539.96,595.99 541.12,596.25 542.28,596.52C543.44,596.8 544.6,597.08 545.75,597.37C546.91,597.66 548.07,597.96 549.22,598.26C550.38,598.56 551.53,598.87 552.68,599.16C553.84,599.45 554.99,599.75 556.15,600.02C557.3,600.29 558.45,600.55 559.61,600.78C560.76,601.01 561.91,601.23 563.07,601.4C564.22,601.58 565.38,601.72 566.53,601.82C567.69,601.92 568.84,601.98 570,602C571.16,602.01 572.31,601.98 573.47,601.91C574.63,601.84 575.78,601.73 576.94,601.59C578.09,601.44 579.24,601.25 580.39,601.04C581.54,600.82 582.69,600.57 583.84,600.29C584.99,600.01 586.13,599.7 587.27,599.36C588.41,599.02 589.55,598.65 590.68,598.26C591.81,597.88 592.94,597.46 594.07,597.04C595.19,596.63 596.32,596.19 597.44,595.78C598.56,595.36 598.8,595.23 600.81,594.55C602.82,593.87 606.6,592.09 609.5,591.7C612.4,591.31 615.28,591.93 618.2,592.2C621.12,592.47 624.45,593.2 627,593.3C629.55,593.4 631.5,592.43 633.5,592.8C635.5,593.17 637.53,594.77 639,595.5C640.47,596.23 641.38,597.57 642.3,597.2C643.22,596.83 643.77,595.78 644.5,593.3C645.23,590.82 646.05,585.77 646.7,582.3C647.35,578.83 647.87,574.68 648.4,572.5C648.93,570.32 649.38,569.2 649.9,569.2C650.42,569.2 650.95,569.58 651.5,572.5C652.05,575.42 652.62,580.32 653.2,586.7C653.78,593.08 654.42,602.4 655,610.8C655.58,619.2 656.13,628.07 656.7,637.1C657.27,646.13 658.12,660.35 658.4,665" stroke="#e78ac3" stroke-width="1.63" fill="none" stroke-linejoin="round" stroke-linecap="butt"/>
<path d="M662.5,665L664.5,600" stroke="#e78ac3" stroke-width="1.63" fill="none" stroke-linejoin="round" stroke-linecap="butt"/>
<path d="M397.54,577.97C398.14,577.95 399.94,577.9 401.14,577.87C402.33,577.83 403.53,577.79 404.72,577.74C405.91,577.7 407.1,577.65 408.28,577.6C409.47,577.55 410.65,577.49 411.83,577.44C413.01,577.38 414.19,577.32 415.37,577.26C416.55,577.19 417.72,577.13 418.9,577.06C420.07,576.99 421.24,576.92 422.41,576.85C423.58,576.77 424.75,576.7 425.92,576.62C427.08,576.54 428.25,576.46 429.41,576.37C430.58,576.29 431.74,576.2 432.91,576.11C434.07,576.02 435.23,575.93 436.39,575.84C437.55,575.74 438.71,575.65 439.87,575.55C441.03,575.45 442.19,575.35 443.35,575.24C444.51,575.14 445.67,575.03 446.83,574.92C447.98,574.82 449.14,574.7 450.3,574.59C451.46,574.48 452.62,574.36 453.78,574.25C454.94,574.13 456.1,574.01 457.26,573.89C458.42,573.77 459.58,573.64 460.74,573.52C461.9,573.39 463.06,573.26 464.22,573.13C465.39,573.01 466.55,572.87 467.71,572.74C468.88,572.61 470.05,572.47 471.21,572.34C472.38,572.2 473.55,572.06 474.72,571.92C475.89,571.78 477.06,571.64 478.24,571.49C479.41,571.35 480.59,571.2 481.77,571.06C482.94,570.91 484.12,570.76 485.31,570.61C486.49,570.46 487.67,570.31 488.86,570.16C490.04,570.02 491.23,569.87 492.41,569.72C493.6,569.58 494.79,569.44 495.98,569.3C497.17,569.16 498.36,569.03 499.54,568.9C500.73,568.77 501.92,568.65 503.11,568.53C504.3,568.42 505.49,568.31 506.68,568.21C507.86,568.11 509.05,568.02 510.24,567.94C511.42,567.86 512.61,567.78 513.79,567.73C514.98,567.67 516.16,567.62 517.34,567.58C518.52,567.55 519.7,567.53 520.87,567.52C522.05,567.51 523.22,567.52 524.39,567.55C525.56,567.57 526.73,567.61 527.89,567.67C529.06,567.73 530.22,567.8 531.38,567.89C532.54,567.99 533.69,568.1 534.84,568.24C535.99,568.37 537.14,568.52 538.28,568.7C539.42,568.88 540.56,569.08 541.69,569.3C542.83,569.52 543.95,569.77 545.08,570.04C546.2,570.31 547.32,570.61 548.43,570.93C549.54,571.25 550.65,571.6 551.75,571.97C552.85,572.34 553.94,572.73 555.03,573.15C556.12,573.57 557.2,574.02 558.27,574.48C559.34,574.95 560.4,575.44 561.46,575.96C562.52,576.47 563.56,577.01 564.6,577.57C565.64,578.13 566.67,578.71 567.7,579.31C568.72,579.92 569.73,580.54 570.73,581.18C571.74,581.82 572.74,582.49 573.73,583.15C574.72,583.82 575.71,584.5 576.69,585.19C577.68,585.87 578.66,586.56 579.64,587.25C580.62,587.94 581.59,588.63 582.57,589.31C583.55,589.99 584.53,590.68 585.52,591.34C586.5,592.01 587.49,592.67 588.48,593.3C589.47,593.94 590.46,594.57 591.47,595.16C592.47,595.76 593.48,596.34 594.5,596.88C595.52,597.43 596.54,597.95 597.59,598.42C598.63,598.89 598.76,599.13 600.74,599.72C602.73,600.32 606.59,601.8 609.5,602C612.41,602.2 615.65,601.8 618.2,600.9C620.75,600 622.97,598.6 624.8,596.6C626.63,594.6 627.93,591.65 629.2,588.9C630.47,586.15 631.5,582.83 632.4,580.1C633.3,577.37 633.97,574.68 634.6,572.5C635.23,570.32 635.55,571.08 636.2,567C636.85,562.92 637.67,555.7 638.5,548C639.33,540.3 640.37,533.8 641.2,520.8C642.03,507.8 643.12,478.47 643.5,470" stroke="#a6d854" stroke-width="1.63" fill="none" stroke-linejoin="round" stroke-linecap="butt"/>
<path d="M397.62,567.99C398.2,568.05 399.96,568.24 401.13,568.36C402.3,568.48 403.47,568.59 404.64,568.71C405.81,568.82 406.98,568.93 408.16,569.04C409.33,569.15 410.5,569.25 411.67,569.35C412.85,569.45 414.02,569.55 415.2,569.64C416.37,569.73 417.54,569.82 418.72,569.91C419.89,569.99 421.07,570.08 422.24,570.16C423.42,570.24 424.6,570.31 425.77,570.39C426.95,570.46 428.12,570.53 429.3,570.59C430.48,570.66 431.65,570.72 432.83,570.78C434.01,570.84 435.19,570.9 436.36,570.95C437.54,571 438.72,571.05 439.9,571.1C441.08,571.14 442.25,571.19 443.43,571.22C444.61,571.26 445.79,571.3 446.97,571.33C448.15,571.36 449.33,571.39 450.5,571.42C451.68,571.45 452.86,571.47 454.04,571.49C455.22,571.51 456.4,571.52 457.58,571.54C458.76,571.55 459.94,571.56 461.12,571.56C462.3,571.57 463.48,571.57 464.66,571.57C465.83,571.57 467.01,571.57 468.19,571.56C469.37,571.55 470.55,571.54 471.73,571.53C472.91,571.52 474.09,571.5 475.27,571.48C476.45,571.46 477.63,571.43 478.81,571.41C479.99,571.38 481.17,571.35 482.34,571.32C483.52,571.29 484.7,571.25 485.88,571.21C487.06,571.17 488.24,571.13 489.42,571.08C490.6,571.03 491.77,570.98 492.95,570.93C494.13,570.88 495.31,570.82 496.48,570.76C497.66,570.71 498.84,570.64 500.02,570.58C501.19,570.51 502.37,570.44 503.55,570.37C504.72,570.3 505.9,570.22 507.08,570.15C508.25,570.07 509.43,569.99 510.6,569.92C511.78,569.84 512.95,569.77 514.13,569.7C515.3,569.64 516.47,569.57 517.64,569.52C518.82,569.47 519.99,569.42 521.16,569.39C522.32,569.36 523.49,569.34 524.66,569.34C525.83,569.33 526.99,569.34 528.16,569.37C529.32,569.4 530.48,569.45 531.64,569.52C532.8,569.59 533.96,569.68 535.12,569.79C536.27,569.91 537.43,570.05 538.58,570.21C539.74,570.37 540.89,570.55 542.04,570.75C543.2,570.95 544.35,571.16 545.5,571.39C546.66,571.62 547.81,571.86 548.97,572.11C550.13,572.35 551.29,572.61 552.46,572.87C553.62,573.14 554.79,573.41 555.96,573.67C557.13,573.94 558.31,574.21 559.49,574.47C560.67,574.74 561.85,575 563.04,575.25C564.22,575.5 565.41,575.74 566.6,575.96C567.78,576.18 568.97,576.38 570.15,576.56C571.34,576.74 572.52,576.9 573.7,577.02C574.88,577.15 576.05,577.25 577.22,577.31C578.39,577.36 579.55,577.39 580.71,577.37C581.86,577.35 583.01,577.29 584.15,577.18C585.29,577.07 586.42,576.91 587.53,576.7C588.65,576.48 589.76,576.21 590.85,575.89C591.94,575.56 593.01,575.18 594.07,574.75C595.12,574.31 596.16,573.82 597.17,573.28C598.18,572.74 599.17,572.14 600.13,571.49C601.08,570.84 602.02,570.13 602.91,569.38C603.81,568.62 604.67,567.81 605.5,566.97C606.33,566.12 606.85,565.79 607.87,564.29C608.88,562.8 610.24,561.23 611.6,558C612.96,554.77 614.53,549.63 616,544.9C617.47,540.17 618.93,534.72 620.4,529.6C621.87,524.48 623.33,519.68 624.8,514.2C626.27,508.72 627.83,504.07 629.2,496.7C630.57,489.33 632.37,474.45 633,470" stroke="#ffd92f" stroke-width="1.84" fill="none" stroke-linejoin="round" stroke-linecap="butt"/>
<path d="M661.5,470C661,481.67 659.15,523.83 658.5,540C657.85,556.17 657.75,562.5 657.6,567" stroke="#ffd92f" stroke-width="1.84" fill="none" stroke-linejoin="round" stroke-linecap="butt"/>
<path d="M665.5,470L666.4,610" stroke="#ffd92f" stroke-width="1.84" fill="none" stroke-linejoin="round" stroke-linecap="butt"/>
<path d="M397.55,561.95C398.14,562.04 399.92,562.3 401.1,562.45C402.28,562.6 403.46,562.74 404.64,562.85C405.82,562.97 407,563.07 408.18,563.16C409.35,563.25 410.53,563.32 411.71,563.38C412.88,563.44 414.06,563.48 415.23,563.51C416.41,563.54 417.58,563.56 418.75,563.57C419.93,563.57 421.1,563.57 422.27,563.55C423.44,563.54 424.61,563.51 425.78,563.47C426.95,563.43 428.12,563.39 429.29,563.33C430.46,563.27 431.63,563.21 432.8,563.13C433.97,563.06 435.13,562.98 436.3,562.89C437.47,562.8 438.64,562.7 439.8,562.6C440.97,562.5 442.14,562.39 443.3,562.28C444.47,562.16 445.64,562.04 446.8,561.92C447.97,561.8 449.14,561.67 450.3,561.54C451.47,561.4 452.63,561.27 453.8,561.13C454.97,560.99 456.13,560.85 457.3,560.71C458.46,560.57 459.63,560.43 460.8,560.28C461.96,560.14 463.13,559.99 464.3,559.85C465.46,559.71 466.63,559.56 467.8,559.42C468.96,559.28 470.13,559.14 471.3,559C472.47,558.86 473.64,558.72 474.81,558.59C475.97,558.46 477.14,558.33 478.31,558.2C479.48,558.08 480.65,557.95 481.83,557.84C483,557.72 484.17,557.61 485.34,557.5C486.51,557.4 487.69,557.3 488.86,557.2C490.03,557.11 491.21,557.03 492.38,556.95C493.56,556.87 494.74,556.8 495.91,556.74C497.09,556.68 498.27,556.63 499.45,556.58C500.63,556.54 501.81,556.51 502.99,556.49C504.17,556.46 505.35,556.45 506.53,556.44C507.72,556.43 508.9,556.43 510.08,556.43C511.26,556.43 512.45,556.44 513.63,556.44C514.81,556.45 515.99,556.46 517.17,556.48C518.35,556.49 519.53,556.5 520.71,556.51C521.89,556.52 523.07,556.53 524.24,556.53C525.42,556.53 526.59,556.54 527.77,556.53C528.94,556.53 530.11,556.52 531.28,556.5C532.45,556.48 533.61,556.46 534.78,556.42C535.94,556.38 537.1,556.34 538.26,556.29C539.42,556.23 540.57,556.17 541.73,556.1C542.88,556.04 544.04,555.96 545.19,555.89C546.35,555.81 547.5,555.73 548.66,555.64C549.81,555.56 550.96,555.47 552.12,555.38C553.28,555.3 554.43,555.21 555.59,555.12C556.75,555.04 557.92,554.95 559.08,554.87C560.25,554.79 561.41,554.71 562.59,554.64C563.76,554.57 564.93,554.5 566.11,554.44C567.3,554.38 568.48,554.32 569.67,554.28C570.86,554.24 572.06,554.2 573.26,554.18C574.46,554.16 575.67,554.14 576.89,554.14C578.1,554.14 579.33,554.16 580.56,554.18C581.78,554.2 583.02,554.24 584.25,554.27C585.48,554.3 586.72,554.33 587.94,554.34C589.17,554.35 590.39,554.36 591.59,554.33C592.79,554.3 593.98,554.26 595.15,554.17C596.32,554.08 597.48,553.96 598.6,553.79C599.73,553.62 600.83,553.4 601.9,553.12C602.97,552.84 603.58,552.74 605.01,552.1C606.45,551.47 608.85,551.23 610.5,549.3C612.15,547.37 613.43,544.52 614.9,540.5C616.37,536.48 617.83,531.03 619.3,525.2C620.77,519.37 622.42,511.35 623.7,505.5C624.98,499.65 625.95,496.02 627,490.1C628.05,484.18 629.5,473.35 630,470" stroke="#e5c494" stroke-width="1.63" fill="none" stroke-linejoin="round" stroke-linecap="butt"/>
<path d="M668.6,470L668.6,665" stroke="#e5c494" stroke-width="1.63" fill="none" stroke-linejoin="round" stroke-linecap="butt"/>
</g>
<path d="M397.5,482.1 V655.09 H684.63" stroke="#333" stroke-width="1.02" fill="none" stroke-linecap="square"/>
<path d="M416.4,655.09 v3.67 M480.4,655.09 v3.67 M544.4,655.09 v3.67 M608.4,655.09 v3.67 M672.4,655.09 v3.67 M397.5,494.2 h-3.67 M397.5,516.1 h-3.67 M397.5,538 h-3.67 M397.5,559.95 h-3.67 M397.5,581.9 h-3.67 M397.5,603.8 h-3.67 M397.5,625.7 h-3.67 M397.5,647.6 h-3.67" stroke="#333" stroke-width="0.92" fill="none"/>
<path d="M402.2,655.09 v2.14 M406.49,655.09 v2.14 M410.2,655.09 v2.14 M413.47,655.09 v2.14 M435.67,655.09 v2.14 M446.94,655.09 v2.14 M454.93,655.09 v2.14 M461.13,655.09 v2.14 M466.2,655.09 v2.14 M470.49,655.09 v2.14 M474.2,655.09 v2.14 M477.47,655.09 v2.14 M499.67,655.09 v2.14 M510.94,655.09 v2.14 M518.93,655.09 v2.14 M525.13,655.09 v2.14 M530.2,655.09 v2.14 M534.49,655.09 v2.14 M538.2,655.09 v2.14 M541.47,655.09 v2.14 M563.67,655.09 v2.14 M574.94,655.09 v2.14 M582.93,655.09 v2.14 M589.13,655.09 v2.14 M594.2,655.09 v2.14 M598.49,655.09 v2.14 M602.2,655.09 v2.14 M605.47,655.09 v2.14 M627.67,655.09 v2.14 M638.94,655.09 v2.14 M646.93,655.09 v2.14 M653.13,655.09 v2.14 M658.2,655.09 v2.14 M662.49,655.09 v2.14 M666.2,655.09 v2.14 M669.47,655.09 v2.14" stroke="#333" stroke-width="0.82" fill="none"/>
<text x="403.55" y="670.39" font-size="11.22" textLength="13.77" lengthAdjust="spacingAndGlyphs">10</text>
<text x="417.42" y="666.57" font-size="8.26" textLength="11.12" lengthAdjust="spacingAndGlyphs">−4</text>
<text x="467.55" y="670.39" font-size="11.22" textLength="13.77" lengthAdjust="spacingAndGlyphs">10</text>
<text x="481.42" y="666.57" font-size="8.26" textLength="11.12" lengthAdjust="spacingAndGlyphs">−3</text>
<text x="531.55" y="670.39" font-size="11.22" textLength="13.77" lengthAdjust="spacingAndGlyphs">10</text>
<text x="545.42" y="666.57" font-size="8.26" textLength="11.12" lengthAdjust="spacingAndGlyphs">−2</text>
<text x="595.55" y="670.39" font-size="11.22" textLength="13.77" lengthAdjust="spacingAndGlyphs">10</text>
<text x="609.42" y="666.57" font-size="8.26" textLength="11.12" lengthAdjust="spacingAndGlyphs">−1</text>
<text x="663.02" y="670.39" font-size="11.22" textLength="13.77" lengthAdjust="spacingAndGlyphs">10</text>
<text x="676.89" y="666.57" font-size="8.26" textLength="4.59" lengthAdjust="spacingAndGlyphs">0</text>
<text x="389.95" y="498.23" font-size="10.91" text-anchor="end" textLength="23.36" lengthAdjust="spacingAndGlyphs">1.04</text>
<text x="389.95" y="520.13" font-size="10.91" text-anchor="end" textLength="23.36" lengthAdjust="spacingAndGlyphs">1.03</text>
<text x="389.95" y="542.03" font-size="10.91" text-anchor="end" textLength="23.36" lengthAdjust="spacingAndGlyphs">1.02</text>
<text x="389.95" y="563.98" font-size="10.91" text-anchor="end" textLength="23.36" lengthAdjust="spacingAndGlyphs">1.01</text>
<text x="389.95" y="585.93" font-size="10.91" text-anchor="end" textLength="23.36" lengthAdjust="spacingAndGlyphs">1.00</text>
<text x="389.95" y="607.83" font-size="10.91" text-anchor="end" textLength="23.36" lengthAdjust="spacingAndGlyphs">0.99</text>
<text x="389.95" y="629.73" font-size="10.91" text-anchor="end" textLength="23.36" lengthAdjust="spacingAndGlyphs">0.98</text>
<text x="389.95" y="651.63" font-size="10.91" text-anchor="end" textLength="23.36" lengthAdjust="spacingAndGlyphs">0.97</text>
<text x="540.76" y="684.06" font-size="11.12" text-anchor="middle">x</text>
<text transform="translate(359.76,568.6) rotate(-90)" font-size="10.91" text-anchor="middle" textLength="107.61" lengthAdjust="spacingAndGlyphs">Ratio to α<tspan font-size="7.35" dy="1.84" font-style="italic">s</tspan><tspan dy="-1.84"> = 0.1180</tspan></text>
<text x="539.94" y="476.08" font-size="12.55" text-anchor="middle" textLength="82.62" lengthAdjust="spacingAndGlyphs">s at 100 GeV</text>
<path d="M500.1,467.4 h4.4" stroke="#000" stroke-width="0.92"/>
<rect x="595.9" y="486.9" width="85.27" height="97.72" rx="2.04" fill="#fff" fill-opacity="0.6" stroke="#ccc" stroke-opacity="0.8" stroke-width="0.82"/>
<g><clipPath id="lc6"><rect x="599.47" y="490.98" width="18.77" height="6.73"/></clipPath>
<rect x="599.47" y="490.98" width="18.77" height="6.73" fill="#66c2a5" fill-opacity="0.5"/>
<path d="M549.22,498.71 L557.95,489.98 M571.36,498.71 L580.1,489.98 M593.51,498.71 L602.24,489.98 M615.65,498.71 L624.39,489.98 M637.8,498.71 L646.53,489.98" stroke="#555" stroke-width="0.82" clip-path="url(#lc6)"/>
<rect x="599.47" y="490.98" width="18.77" height="6.73" fill="none" stroke="#555" stroke-width="0.92"/></g>
<text x="624.66" y="497.71" font-size="9.89" textLength="51.51" lengthAdjust="spacingAndGlyphs">α<tspan font-size="6.93" dy="1.63" font-style="italic">s</tspan><tspan dy="-1.63"> = 0.1180</tspan></text>
<path d="M599.47,507.92 H618.24" stroke="#fc8d62" stroke-width="1.63" fill="none"/>
<text x="624.66" y="511.29" font-size="9.89" textLength="51.51" lengthAdjust="spacingAndGlyphs">α<tspan font-size="6.93" dy="1.63" font-style="italic">s</tspan><tspan dy="-1.63"> = 0.1160</tspan></text>
<path d="M599.47,521.5 H618.24" stroke="#8da0cb" stroke-width="1.63" fill="none"/>
<text x="624.66" y="524.86" font-size="9.89" textLength="51.51" lengthAdjust="spacingAndGlyphs">α<tspan font-size="6.93" dy="1.63" font-style="italic">s</tspan><tspan dy="-1.63"> = 0.1170</tspan></text>
<path d="M599.47,535.07 H618.24" stroke="#e78ac3" stroke-width="1.63" fill="none"/>
<text x="624.66" y="538.44" font-size="9.89" textLength="51.51" lengthAdjust="spacingAndGlyphs">α<tspan font-size="6.93" dy="1.63" font-style="italic">s</tspan><tspan dy="-1.63"> = 0.1175</tspan></text>
<path d="M599.47,548.65 H618.24" stroke="#a6d854" stroke-width="1.63" fill="none"/>
<text x="624.66" y="552.02" font-size="9.89" textLength="51.51" lengthAdjust="spacingAndGlyphs">α<tspan font-size="6.93" dy="1.63" font-style="italic">s</tspan><tspan dy="-1.63"> = 0.1188</tspan></text>
<path d="M599.47,562.23 H618.24" stroke="#ffd92f" stroke-width="1.84" fill="none"/>
<text x="624.66" y="565.59" font-size="9.89" textLength="51.51" lengthAdjust="spacingAndGlyphs">α<tspan font-size="6.93" dy="1.63" font-style="italic">s</tspan><tspan dy="-1.63"> = 0.1190</tspan></text>
<path d="M599.47,575.8 H618.24" stroke="#e5c494" stroke-width="1.63" fill="none"/>
<text x="624.66" y="579.17" font-size="9.89" textLength="51.51" lengthAdjust="spacingAndGlyphs">α<tspan font-size="6.93" dy="1.63" font-style="italic">s</tspan><tspan dy="-1.63"> = 0.1200</tspan></text>
</g>
<g id="p7">
<path d="M64.5,717 V890.5 M128.5,717 V890.5 M192.5,717 V890.5 M256.5,717 V890.5 M320.5,717 V890.5 M45.6,729.2 H333.57 M45.6,770.7 H333.57 M45.6,812.2 H333.57 M45.6,853.7 H333.57" stroke="#f3f3f3" stroke-width="0.8" fill="none"/>
<clipPath id="ax7"><rect x="45.6" y="717" width="287.97" height="173.5"/></clipPath>
<g clip-path="url(#ax7)">
<clipPath id="bd7"><path d="M45.6,775.9L51.8,777.7L58.3,779.9L64.9,781L71.5,782.1L78,783.2L84.6,785.4L91.2,787.5L97.7,789.7L104.3,791.9L110.9,793.5L117.4,793L124,792.4L129.5,791.9L135,793L141.5,793.5L148.1,792.6L154.7,793L161.2,791.3L167.8,789.7L174.4,788.6L181,787.5L187.5,786.5L190,787.5L194.4,785.4L198.8,786.5L203.1,787.5L207.5,785.4L211.9,784.3L216.3,782.1L219.6,783.2L222.8,779.9L227.2,777.3L231.6,777.7L234.9,774.4L238.2,772.9L241.5,770L244.7,769.4L247.4,771.1L249.1,764.6L250.9,755.8L252.4,751.4L253.9,752.5L255.2,750.3L256.8,744.8L258.3,733.9L260.1,723L261.8,716.8L262,705L320,705L320,900L258.5,900L257.9,889.6L255.7,883L253.5,876.4L250.2,869.9L246.9,864.4L243.6,860L240.4,856.7L236,854.1L231.6,852.8L227.2,851.3L224,848L220.7,843.6L216.3,841.4L209.7,840.3L203.1,839.2L196.6,838.1L187.5,837.5L181,836.6L174.4,835.3L167.8,833.7L161.2,832.7L154.7,831.6L148.1,830L141.5,830L135,829.4L129.5,830.5L124,832.2L117.4,833.7L110.9,835.3L104.3,835.9L97.7,837L91.2,838.1L84.6,839.7L78,841L71.5,842.5L64.9,845.8L58.3,848.4L51.8,849.7L45.6,849.1Z"/></clipPath>
<path d="M45.6,775.9L51.8,777.7L58.3,779.9L64.9,781L71.5,782.1L78,783.2L84.6,785.4L91.2,787.5L97.7,789.7L104.3,791.9L110.9,793.5L117.4,793L124,792.4L129.5,791.9L135,793L141.5,793.5L148.1,792.6L154.7,793L161.2,791.3L167.8,789.7L174.4,788.6L181,787.5L187.5,786.5L190,787.5L194.4,785.4L198.8,786.5L203.1,787.5L207.5,785.4L211.9,784.3L216.3,782.1L219.6,783.2L222.8,779.9L227.2,777.3L231.6,777.7L234.9,774.4L238.2,772.9L241.5,770L244.7,769.4L247.4,771.1L249.1,764.6L250.9,755.8L252.4,751.4L253.9,752.5L255.2,750.3L256.8,744.8L258.3,733.9L260.1,723L261.8,716.8L262,705L320,705L320,900L258.5,900L257.9,889.6L255.7,883L253.5,876.4L250.2,869.9L246.9,864.4L243.6,860L240.4,856.7L236,854.1L231.6,852.8L227.2,851.3L224,848L220.7,843.6L216.3,841.4L209.7,840.3L203.1,839.2L196.6,838.1L187.5,837.5L181,836.6L174.4,835.3L167.8,833.7L161.2,832.7L154.7,831.6L148.1,830L141.5,830L135,829.4L129.5,830.5L124,832.2L117.4,833.7L110.9,835.3L104.3,835.9L97.7,837L91.2,838.1L84.6,839.7L78,841L71.5,842.5L64.9,845.8L58.3,848.4L51.8,849.7L45.6,849.1Z" fill="#b3e1d2" stroke="#66c2a5" stroke-opacity="0.5" stroke-width="0.6"/>
<path d="M44.6,687.95 L16.55,716 M44.6,710.16 L38.76,716 M44.6,732.37 L60.97,716 M44.6,754.58 L83.18,716 M44.6,776.79 L105.39,716 M44.6,799 L127.6,716 M44.6,821.21 L149.81,716 M44.6,843.42 L172.02,716 M44.6,865.63 L194.23,716 M44.6,887.84 L216.44,716 M44.6,910.05 L238.65,716 M44.6,932.26 L260.86,716 M44.6,954.47 L283.07,716 M44.6,976.67 L305.27,716 M44.6,998.88 L327.48,716 M44.6,1021.09 L349.69,716 M44.6,1043.3 L371.9,716 M44.6,1065.51 L394.11,716 M44.6,1087.72 L416.32,716 M44.6,1109.93 L438.53,716 M44.6,1132.14 L460.74,716 M44.6,1154.35 L482.95,716 M44.6,1176.56 L505.16,716 M44.6,1198.77 L527.37,716" stroke="#62c0a2" stroke-width="1.18" fill="none" clip-path="url(#bd7)"/>
<path d="M45.6,812.2 H320.5" stroke="#66c2a5" stroke-opacity="1" stroke-width="1.53" fill="none"/>
<path d="M45.66,844.72C46.22,844.61 47.92,844.26 49.06,844.04C50.2,843.82 51.34,843.6 52.48,843.38C53.63,843.16 54.78,842.95 55.93,842.74C57.08,842.54 58.24,842.33 59.39,842.13C60.55,841.93 61.71,841.74 62.88,841.55C64.04,841.36 65.21,841.18 66.37,841.01C67.54,840.83 68.71,840.66 69.88,840.5C71.06,840.33 72.23,840.18 73.41,840.03C74.58,839.88 75.76,839.74 76.94,839.61C78.12,839.47 79.3,839.35 80.48,839.23C81.66,839.12 82.84,839.01 84.02,838.91C85.2,838.81 86.38,838.72 87.56,838.65C88.75,838.57 89.93,838.5 91.11,838.44C92.29,838.38 93.48,838.34 94.66,838.3C95.84,838.27 97.02,838.24 98.2,838.23C99.38,838.21 100.56,838.21 101.74,838.23C102.92,838.24 104.1,838.26 105.27,838.3C106.45,838.34 107.62,838.39 108.8,838.45C109.97,838.51 111.14,838.59 112.31,838.68C113.48,838.78 114.65,838.88 115.81,839C116.97,839.13 118.13,839.26 119.29,839.41C120.45,839.57 121.61,839.73 122.76,839.92C123.91,840.1 125.06,840.3 126.21,840.52C127.36,840.74 128.5,840.97 129.64,841.22C130.78,841.47 131.91,841.74 133.04,842.03C134.18,842.32 135.3,842.62 136.43,842.94C137.55,843.25 138.67,843.58 139.79,843.93C140.91,844.27 142.03,844.63 143.14,845C144.25,845.37 145.36,845.75 146.47,846.14C147.58,846.53 148.69,846.93 149.8,847.34C150.9,847.74 152,848.16 153.11,848.58C154.21,849 155.31,849.43 156.41,849.86C157.51,850.29 158.61,850.73 159.71,851.17C160.81,851.6 161.91,852.05 163.01,852.49C164.11,852.93 165.21,853.37 166.31,853.82C167.41,854.26 168.51,854.7 169.62,855.14C170.72,855.58 171.82,856.02 172.92,856.45C174.03,856.88 175.13,857.31 176.24,857.73C177.35,858.16 178.46,858.57 179.57,858.98C180.68,859.39 181.79,859.79 182.91,860.19C184.02,860.58 185.14,860.96 186.26,861.33C187.38,861.7 188.51,862.07 189.63,862.41C190.76,862.76 191.89,863.09 193.02,863.41C194.16,863.72 195.29,864.02 196.43,864.3C197.57,864.57 198.71,864.83 199.85,865.07C201,865.3 202.14,865.51 203.29,865.7C204.44,865.88 205.6,866.05 206.75,866.18C207.91,866.31 209.07,866.41 210.23,866.48C211.39,866.56 212.56,866.59 213.73,866.6C214.89,866.62 216.06,866.6 217.24,866.58C218.41,866.56 219.59,866.52 220.76,866.5C221.94,866.48 223.12,866.44 224.3,866.45C225.48,866.46 226.66,866.47 227.85,866.53C229.03,866.6 230.22,866.68 231.4,866.84C232.59,866.99 233.77,867.2 234.96,867.45C236.15,867.7 237.33,868.03 238.51,868.35C239.69,868.66 240.87,869.02 242.04,869.33C243.21,869.64 244.37,869.96 245.52,870.18C246.66,870.41 247.8,870.62 248.92,870.69C250.04,870.76 251.15,870.78 252.23,870.63C253.3,870.48 254.06,870.64 255.37,869.78C256.68,868.93 258.58,868.03 260.1,865.5C261.62,862.97 263.05,859.35 264.5,854.6C265.95,849.85 267.53,842.85 268.8,837C270.07,831.15 271.07,825.33 272.1,819.5C273.13,813.67 274.27,807.87 275,802C275.73,796.13 276.07,790.18 276.5,784.3C276.93,778.42 277.13,773.28 277.6,766.7C278.07,760.12 278.75,751 279.3,744.8C279.85,738.6 280.28,736.13 280.9,729.5C281.52,722.87 282.65,709.08 283,705" stroke="#fc8d62" stroke-width="1.64" fill="none" stroke-linejoin="round" stroke-linecap="butt"/>
<path d="M45.6,823.89C46.19,823.87 47.93,823.81 49.1,823.78C50.27,823.74 51.43,823.71 52.6,823.68C53.77,823.65 54.93,823.63 56.1,823.6C57.27,823.58 58.44,823.56 59.61,823.55C60.77,823.53 61.94,823.52 63.11,823.51C64.28,823.51 65.45,823.5 66.62,823.5C67.79,823.5 68.96,823.51 70.12,823.51C71.29,823.52 72.46,823.54 73.63,823.55C74.8,823.57 75.97,823.59 77.14,823.62C78.31,823.64 79.48,823.67 80.64,823.71C81.81,823.74 82.98,823.78 84.15,823.83C85.32,823.87 86.49,823.92 87.65,823.97C88.82,824.03 89.99,824.09 91.15,824.15C92.32,824.22 93.49,824.29 94.65,824.36C95.82,824.44 96.99,824.52 98.15,824.61C99.32,824.69 100.48,824.79 101.64,824.89C102.81,824.98 103.97,825.09 105.13,825.2C106.3,825.31 107.46,825.42 108.62,825.54C109.78,825.67 110.94,825.79 112.1,825.93C113.26,826.06 114.42,826.2 115.58,826.35C116.74,826.5 117.9,826.65 119.05,826.81C120.21,826.97 121.37,827.14 122.52,827.32C123.67,827.49 124.83,827.67 125.98,827.86C127.13,828.05 128.28,828.24 129.44,828.44C130.59,828.65 131.74,828.86 132.88,829.07C134.03,829.29 135.18,829.51 136.33,829.74C137.47,829.97 138.62,830.2 139.76,830.44C140.91,830.68 142.05,830.92 143.19,831.17C144.34,831.41 145.48,831.66 146.62,831.91C147.77,832.16 148.91,832.41 150.05,832.67C151.19,832.92 152.34,833.17 153.48,833.43C154.62,833.68 155.76,833.93 156.91,834.19C158.05,834.44 159.19,834.69 160.33,834.93C161.48,835.18 162.62,835.43 163.76,835.67C164.91,835.91 166.05,836.15 167.2,836.38C168.34,836.61 169.49,836.84 170.63,837.06C171.78,837.28 172.93,837.5 174.08,837.7C175.22,837.91 176.37,838.11 177.52,838.3C178.67,838.5 179.83,838.68 180.98,838.85C182.13,839.03 183.29,839.19 184.44,839.35C185.6,839.5 186.76,839.65 187.92,839.78C189.08,839.91 190.24,840.03 191.4,840.13C192.56,840.24 193.73,840.33 194.89,840.41C196.06,840.49 197.22,840.55 198.39,840.6C199.56,840.64 200.73,840.67 201.89,840.68C203.06,840.69 204.23,840.68 205.39,840.65C206.56,840.62 207.72,840.57 208.89,840.5C210.05,840.42 211.21,840.32 212.37,840.2C213.53,840.09 214.69,839.93 215.85,839.79C217.01,839.64 218.16,839.47 219.32,839.33C220.47,839.19 221.63,839.03 222.78,838.92C223.94,838.81 225.09,838.7 226.25,838.65C227.41,838.6 228.56,838.57 229.72,838.62C230.88,838.66 232.04,838.74 233.2,838.91C234.37,839.07 235.53,839.31 236.7,839.58C237.86,839.86 239.03,840.21 240.19,840.56C241.35,840.91 242.51,841.32 243.66,841.69C244.81,842.07 245.96,842.47 247.09,842.82C248.23,843.17 249.36,843.52 250.48,843.79C251.59,844.07 252.18,844.31 253.78,844.46C255.39,844.61 258.15,845.58 260.1,844.7C262.05,843.82 263.87,841.93 265.5,839.2C267.13,836.47 268.62,832.32 269.9,828.3C271.18,824.28 272.22,819.48 273.2,815.1C274.18,810.72 274.52,807.13 275.8,802C277.08,796.87 279.68,789.08 280.9,784.3C282.12,779.52 282.38,777.68 283.1,773.3C283.82,768.92 284.48,763.47 285.2,758C285.92,752.53 286.67,745.98 287.4,740.5C288.13,735.02 288.83,731.02 289.6,725.1C290.37,719.18 291.6,708.35 292,705" stroke="#8da0cb" stroke-width="1.64" fill="none" stroke-linejoin="round" stroke-linecap="butt"/>
<path d="M308.5,705C308.82,709.82 309.9,725.43 310.4,733.9C310.9,742.37 311.13,749.6 311.5,755.8C311.87,762 312.23,771.1 312.6,771.1C312.97,771.1 313.37,766.82 313.7,755.8C314.03,744.78 314.45,713.47 314.6,705" stroke="#8da0cb" stroke-width="1.64" fill="none" stroke-linejoin="round" stroke-linecap="butt"/>
<path d="M45.6,818.34C46.19,818.33 47.96,818.3 49.13,818.28C50.31,818.26 51.49,818.23 52.67,818.21C53.85,818.18 55.02,818.15 56.2,818.13C57.38,818.1 58.56,818.07 59.74,818.04C60.92,818.01 62.1,817.98 63.28,817.95C64.46,817.92 65.64,817.89 66.82,817.85C68,817.82 69.17,817.79 70.35,817.76C71.53,817.73 72.71,817.7 73.89,817.68C75.07,817.65 76.25,817.62 77.43,817.6C78.61,817.57 79.79,817.55 80.97,817.53C82.15,817.51 83.33,817.49 84.51,817.48C85.69,817.46 86.87,817.45 88.05,817.44C89.23,817.43 90.41,817.42 91.59,817.42C92.77,817.42 93.95,817.42 95.13,817.42C96.31,817.43 97.49,817.44 98.67,817.45C99.85,817.46 101.02,817.48 102.2,817.51C103.38,817.53 104.56,817.56 105.74,817.59C106.92,817.63 108.09,817.67 109.27,817.71C110.45,817.76 111.63,817.81 112.8,817.87C113.98,817.93 115.16,817.99 116.33,818.07C117.51,818.14 118.69,818.22 119.86,818.31C121.04,818.39 122.21,818.49 123.39,818.59C124.56,818.69 125.74,818.8 126.91,818.92C128.08,819.04 129.26,819.17 130.43,819.31C131.6,819.44 132.78,819.59 133.95,819.74C135.12,819.89 136.29,820.06 137.46,820.22C138.63,820.39 139.81,820.56 140.98,820.74C142.15,820.92 143.32,821.1 144.49,821.28C145.66,821.47 146.83,821.65 148,821.84C149.17,822.03 150.34,822.22 151.51,822.41C152.67,822.6 153.84,822.79 155.01,822.97C156.18,823.16 157.35,823.35 158.52,823.53C159.69,823.71 160.86,823.89 162.03,824.06C163.2,824.23 164.36,824.4 165.53,824.56C166.7,824.72 167.87,824.88 169.04,825.02C170.21,825.17 171.38,825.31 172.55,825.44C173.72,825.56 174.89,825.68 176.06,825.79C177.23,825.9 178.4,825.99 179.57,826.08C180.74,826.16 181.91,826.23 183.08,826.28C184.25,826.34 185.42,826.38 186.6,826.4C187.77,826.43 188.94,826.44 190.11,826.43C191.28,826.42 192.46,826.39 193.63,826.34C194.8,826.29 195.97,826.23 197.14,826.13C198.31,826.03 199.47,825.91 200.63,825.75C201.79,825.6 202.95,825.42 204.09,825.2C205.24,824.98 206.38,824.73 207.52,824.43C208.65,824.14 209.78,823.81 210.89,823.43C212.01,823.06 213.11,822.63 214.21,822.18C215.31,821.73 216.39,821.23 217.48,820.73C218.56,820.22 219.64,819.68 220.72,819.16C221.8,818.63 222.88,818.08 223.96,817.56C225.04,817.04 226.13,816.52 227.22,816.04C228.31,815.55 229.41,815.08 230.52,814.66C231.63,814.25 232.74,813.86 233.88,813.54C235.01,813.21 236.16,812.94 237.31,812.73C238.46,812.52 239.63,812.36 240.79,812.27C241.95,812.18 243.12,812.14 244.29,812.18C245.45,812.21 246.61,812.3 247.77,812.47C248.92,812.63 249.51,812.54 251.2,813.16C252.89,813.78 255.87,815.33 257.9,816.2C259.93,817.07 261.77,818.4 263.4,818.4C265.03,818.4 266.43,817.65 267.7,816.2C268.97,814.75 270.08,812.07 271,809.7C271.92,807.33 272.03,804.62 273.2,802C274.37,799.38 276.53,796.58 278,794C279.47,791.42 280.8,789.22 282,786.5C283.2,783.78 284.12,781.35 285.2,777.7C286.28,774.05 287.4,770.08 288.5,764.6C289.6,759.12 290.77,751.02 291.8,744.8C292.83,738.58 293.75,733.93 294.7,727.3C295.65,720.67 297.03,708.72 297.5,705" stroke="#e78ac3" stroke-width="1.64" fill="none" stroke-linejoin="round" stroke-linecap="butt"/>
<path d="M313.7,705L313.7,758" stroke="#e78ac3" stroke-width="1.64" fill="none" stroke-linejoin="round" stroke-linecap="butt"/>
<path d="M45.6,798.83C46.18,798.9 47.92,799.1 49.09,799.23C50.25,799.36 51.41,799.49 52.58,799.61C53.74,799.74 54.9,799.86 56.07,799.98C57.23,800.11 58.39,800.22 59.56,800.34C60.72,800.46 61.88,800.57 63.04,800.68C64.21,800.79 65.37,800.9 66.53,801.01C67.7,801.11 68.86,801.22 70.02,801.32C71.18,801.42 72.35,801.52 73.51,801.61C74.67,801.71 75.84,801.8 77,801.89C78.16,801.98 79.32,802.07 80.49,802.15C81.65,802.24 82.81,802.32 83.98,802.39C85.14,802.47 86.3,802.55 87.47,802.62C88.63,802.69 89.8,802.76 90.96,802.83C92.12,802.89 93.29,802.96 94.45,803.02C95.62,803.08 96.78,803.13 97.95,803.19C99.11,803.24 100.28,803.29 101.44,803.34C102.61,803.38 103.77,803.43 104.94,803.47C106.1,803.51 107.27,803.54 108.43,803.58C109.6,803.61 110.77,803.64 111.93,803.66C113.1,803.69 114.27,803.71 115.43,803.73C116.6,803.75 117.77,803.77 118.94,803.78C120.1,803.79 121.27,803.8 122.44,803.8C123.61,803.8 124.78,803.8 125.95,803.8C127.12,803.8 128.29,803.79 129.46,803.78C130.63,803.77 131.8,803.75 132.97,803.73C134.14,803.71 135.31,803.69 136.48,803.65C137.65,803.62 138.82,803.59 139.99,803.55C141.16,803.5 142.33,803.45 143.5,803.4C144.67,803.34 145.84,803.28 147.01,803.2C148.17,803.13 149.34,803.05 150.51,802.96C151.67,802.86 152.84,802.76 154,802.65C155.16,802.54 156.32,802.42 157.48,802.28C158.64,802.15 159.79,802.01 160.95,801.85C162.1,801.69 163.25,801.52 164.4,801.33C165.55,801.15 166.7,800.95 167.84,800.74C168.99,800.53 170.13,800.31 171.27,800.08C172.41,799.85 173.55,799.61 174.69,799.38C175.83,799.14 176.97,798.9 178.11,798.66C179.25,798.42 180.39,798.18 181.53,797.95C182.67,797.71 183.81,797.48 184.96,797.27C186.1,797.05 187.24,796.84 188.39,796.65C189.54,796.45 190.69,796.27 191.85,796.11C193,795.94 194.16,795.79 195.32,795.65C196.48,795.51 197.64,795.39 198.8,795.27C199.96,795.15 201.13,795.05 202.3,794.94C203.46,794.84 204.63,794.75 205.8,794.65C206.97,794.56 208.14,794.47 209.31,794.39C210.48,794.3 211.65,794.22 212.82,794.13C213.98,794.04 215.15,793.96 216.32,793.86C217.49,793.77 218.66,793.68 219.83,793.57C220.99,793.47 222.16,793.36 223.32,793.24C224.48,793.12 225.65,793 226.81,792.86C227.97,792.72 229.12,792.57 230.28,792.4C231.43,792.23 232.58,792.06 233.73,791.86C234.88,791.66 236.03,791.45 237.16,791.21C238.3,790.97 239.43,790.72 240.56,790.43C241.68,790.14 242.79,789.84 243.89,789.49C244.99,789.14 246.08,788.77 247.16,788.36C248.23,787.94 249.29,787.5 250.33,787C251.36,786.51 251.76,786.58 253.38,785.4C255.01,784.21 258.08,781.43 260.1,779.9C262.12,778.37 264.05,776.87 265.5,776.2C266.95,775.53 267.8,775.47 268.8,775.9C269.8,776.33 270.58,777.03 271.5,778.8C272.42,780.57 273.47,783.03 274.3,786.5C275.13,789.97 275.55,792.35 276.5,799.6C277.45,806.85 278.75,818.27 280,830C281.25,841.73 283,858.33 284,870C285,881.67 285.67,895 286,900" stroke="#a6d854" stroke-width="1.64" fill="none" stroke-linejoin="round" stroke-linecap="butt"/>
<path d="M45.61,789.74C46.19,789.81 47.93,790.05 49.1,790.2C50.26,790.36 51.43,790.53 52.59,790.69C53.76,790.85 54.93,791.02 56.1,791.19C57.26,791.35 58.43,791.52 59.6,791.69C60.77,791.86 61.94,792.03 63.11,792.2C64.28,792.37 65.46,792.54 66.63,792.71C67.8,792.88 68.97,793.05 70.15,793.22C71.32,793.38 72.49,793.55 73.67,793.71C74.84,793.87 76.02,794.04 77.19,794.19C78.37,794.35 79.54,794.51 80.72,794.66C81.89,794.81 83.07,794.96 84.25,795.1C85.42,795.24 86.6,795.38 87.78,795.52C88.96,795.65 90.13,795.78 91.31,795.9C92.49,796.02 93.67,796.14 94.85,796.25C96.02,796.36 97.2,796.47 98.38,796.56C99.56,796.66 100.74,796.75 101.92,796.83C103.09,796.91 104.27,796.98 105.45,797.05C106.63,797.11 107.81,797.17 108.99,797.21C110.16,797.26 111.34,797.3 112.52,797.32C113.7,797.35 114.88,797.36 116.05,797.37C117.23,797.37 118.41,797.37 119.59,797.35C120.76,797.33 121.94,797.3 123.12,797.26C124.29,797.22 125.47,797.17 126.64,797.1C127.82,797.03 128.99,796.95 130.17,796.86C131.34,796.76 132.52,796.65 133.69,796.53C134.87,796.41 136.04,796.27 137.21,796.13C138.38,795.98 139.55,795.82 140.72,795.64C141.89,795.47 143.06,795.28 144.23,795.08C145.4,794.88 146.56,794.67 147.73,794.45C148.89,794.22 150.05,793.99 151.21,793.74C152.37,793.5 153.53,793.24 154.69,792.97C155.84,792.7 157,792.42 158.15,792.13C159.3,791.84 160.44,791.54 161.59,791.22C162.74,790.91 163.88,790.59 165.02,790.26C166.16,789.93 167.29,789.59 168.43,789.24C169.56,788.89 170.69,788.53 171.82,788.16C172.94,787.79 174.06,787.41 175.18,787.03C176.3,786.64 177.42,786.25 178.53,785.84C179.64,785.44 180.74,785.03 181.84,784.61C182.95,784.2 184.04,783.77 185.14,783.34C186.23,782.91 187.32,782.47 188.4,782.02C189.48,781.57 190.56,781.12 191.64,780.66C192.71,780.2 193.79,779.73 194.86,779.25C195.92,778.78 196.99,778.3 198.05,777.81C199.11,777.32 200.17,776.82 201.23,776.32C202.29,775.82 203.34,775.31 204.4,774.79C205.45,774.28 206.5,773.76 207.55,773.23C208.61,772.7 209.65,772.16 210.7,771.62C211.75,771.08 212.8,770.53 213.85,769.97C214.9,769.42 215.94,768.86 216.99,768.3C218.04,767.74 219.09,767.18 220.15,766.62C221.21,766.07 222.26,765.51 223.33,764.96C224.39,764.42 225.45,763.87 226.53,763.34C227.6,762.81 228.68,762.28 229.76,761.78C230.85,761.27 231.94,760.77 233.05,760.29C234.15,759.81 235.26,759.35 236.38,758.91C237.5,758.47 238.62,758.05 239.75,757.68C240.89,757.3 242.02,756.94 243.16,756.64C244.3,756.34 245.45,756.07 246.59,755.86C247.73,755.65 248.88,755.49 250.02,755.39C251.17,755.29 251.77,755.21 253.45,755.28C255.13,755.35 258.09,755.16 260.1,755.8C262.11,756.44 263.87,757.47 265.5,759.1C267.13,760.73 268.62,763.05 269.9,765.6C271.18,768.15 272.1,770.92 273.2,774.4C274.3,777.88 275.58,782.3 276.5,786.5C277.42,790.7 277.6,793.37 278.7,799.6C279.8,805.83 281.65,816.2 283.1,823.9C284.55,831.6 285.95,838.5 287.4,845.8C288.85,853.1 290.52,860.4 291.8,867.7C293.08,875 294.23,884.22 295.1,889.6C295.97,894.98 296.68,898.27 297,900" stroke="#ffd92f" stroke-width="1.84" fill="none" stroke-linejoin="round" stroke-linecap="butt"/>
<path d="M315.2,705L315.2,900" stroke="#ffd92f" stroke-width="1.84" fill="none" stroke-linejoin="round" stroke-linecap="butt"/>
<path d="M45.68,773.4C46.24,773.48 47.9,773.71 49.02,773.88C50.13,774.05 51.25,774.23 52.38,774.42C53.5,774.61 54.63,774.81 55.76,775.01C56.89,775.22 58.03,775.43 59.17,775.65C60.31,775.87 61.45,776.09 62.59,776.32C63.74,776.55 64.89,776.78 66.04,777.01C67.19,777.25 68.34,777.49 69.49,777.72C70.65,777.96 71.81,778.2 72.97,778.44C74.13,778.67 75.29,778.91 76.45,779.14C77.61,779.38 78.78,779.61 79.94,779.83C81.11,780.06 82.27,780.28 83.44,780.5C84.61,780.71 85.77,780.93 86.94,781.13C88.11,781.33 89.28,781.53 90.45,781.71C91.62,781.9 92.79,782.08 93.96,782.24C95.13,782.41 96.3,782.56 97.46,782.71C98.63,782.85 99.8,782.98 100.97,783.1C102.14,783.21 103.3,783.31 104.47,783.4C105.63,783.49 106.8,783.56 107.96,783.61C109.12,783.66 110.28,783.7 111.44,783.71C112.6,783.73 113.76,783.73 114.91,783.71C116.06,783.68 117.22,783.64 118.37,783.57C119.52,783.5 120.66,783.42 121.81,783.3C122.95,783.19 124.09,783.05 125.23,782.89C126.37,782.73 127.51,782.54 128.64,782.33C129.77,782.11 130.9,781.87 132.02,781.6C133.14,781.33 134.26,781.03 135.38,780.7C136.49,780.38 137.6,780.03 138.7,779.65C139.81,779.28 140.91,778.88 142,778.45C143.09,778.03 144.17,777.58 145.25,777.12C146.33,776.65 147.4,776.16 148.46,775.65C149.52,775.14 150.58,774.61 151.62,774.07C152.67,773.52 153.7,772.95 154.73,772.37C155.75,771.78 156.77,771.18 157.77,770.57C158.78,769.95 159.77,769.32 160.76,768.67C161.74,768.02 162.71,767.36 163.67,766.69C164.63,766.02 165.58,765.33 166.52,764.64C167.46,763.95 168.39,763.24 169.32,762.54C170.25,761.84 171.17,761.13 172.09,760.43C173.01,759.73 173.93,759.02 174.86,758.33C175.79,757.64 176.72,756.95 177.66,756.28C178.6,755.61 179.54,754.95 180.5,754.31C181.46,753.68 182.42,753.05 183.41,752.45C184.39,751.86 185.39,751.28 186.41,750.73C187.43,750.18 188.47,749.66 189.51,749.15C190.56,748.64 191.62,748.15 192.68,747.67C193.75,747.18 194.83,746.72 195.9,746.24C196.98,745.77 198.06,745.31 199.14,744.84C200.22,744.36 201.3,743.89 202.37,743.4C203.44,742.92 204.51,742.42 205.57,741.92C206.63,741.43 207.69,740.92 208.75,740.42C209.8,739.92 210.85,739.41 211.89,738.91C212.94,738.41 213.98,737.91 215.01,737.41C216.05,736.92 217.08,736.42 218.11,735.92C219.14,735.43 220.17,734.93 221.21,734.43C222.24,733.93 223.27,733.43 224.31,732.92C225.35,732.41 226.39,731.9 227.44,731.38C228.49,730.86 229.54,730.34 230.61,729.8C231.67,729.27 232.74,728.72 233.82,728.17C234.91,727.63 236,727.05 237.1,726.52C238.19,726 239.3,725.46 240.4,725.02C241.49,724.58 242.6,724.16 243.69,723.87C244.77,723.58 245.86,723.35 246.93,723.27C248,723.2 249.06,723.21 250.09,723.43C251.13,723.64 251.84,723.59 253.14,724.53C254.44,725.48 256.37,726.99 257.9,729.1C259.43,731.21 261.03,734.22 262.3,737.2C263.57,740.18 264.42,743.17 265.5,747C266.58,750.83 267.8,755.82 268.8,760.2C269.8,764.58 270.58,768.92 271.5,773.3C272.42,777.68 273.47,782.12 274.3,786.5C275.13,790.88 275.58,793.37 276.5,799.6C277.42,805.83 278.88,816.2 279.8,823.9C280.72,831.6 281.27,838.5 282,845.8C282.73,853.1 283.48,860.4 284.2,867.7C284.92,875 285.75,884.22 286.3,889.6C286.85,894.98 287.3,898.27 287.5,900" stroke="#e5c494" stroke-width="1.64" fill="none" stroke-linejoin="round" stroke-linecap="butt"/>
<path d="M317.2,705L317.2,900" stroke="#e5c494" stroke-width="1.64" fill="none" stroke-linejoin="round" stroke-linecap="butt"/>
<path d="M318.4,705L318.4,900" stroke="#e5c494" stroke-width="1.64" fill="none" stroke-linejoin="round" stroke-linecap="butt"/>
<path d="M319.2,705L319.2,900" stroke="#e5c494" stroke-width="1.64" fill="none" stroke-linejoin="round" stroke-linecap="butt"/>
</g>
<path d="M45.6,717 V890.5 H333.57" stroke="#333" stroke-width="1.02" fill="none" stroke-linecap="square"/>
<path d="M64.5,890.5 v3.68 M128.5,890.5 v3.68 M192.5,890.5 v3.68 M256.5,890.5 v3.68 M320.5,890.5 v3.68 M45.6,729.2 h-3.68 M45.6,770.7 h-3.68 M45.6,812.2 h-3.68 M45.6,853.7 h-3.68" stroke="#333" stroke-width="0.92" fill="none"/>
<path d="M50.3,890.5 v2.15 M54.59,890.5 v2.15 M58.3,890.5 v2.15 M61.57,890.5 v2.15 M83.77,890.5 v2.15 M95.04,890.5 v2.15 M103.03,890.5 v2.15 M109.23,890.5 v2.15 M114.3,890.5 v2.15 M118.59,890.5 v2.15 M122.3,890.5 v2.15 M125.57,890.5 v2.15 M147.77,890.5 v2.15 M159.04,890.5 v2.15 M167.03,890.5 v2.15 M173.23,890.5 v2.15 M178.3,890.5 v2.15 M182.59,890.5 v2.15 M186.3,890.5 v2.15 M189.57,890.5 v2.15 M211.77,890.5 v2.15 M223.04,890.5 v2.15 M231.03,890.5 v2.15 M237.23,890.5 v2.15 M242.3,890.5 v2.15 M246.59,890.5 v2.15 M250.3,890.5 v2.15 M253.57,890.5 v2.15 M275.77,890.5 v2.15 M287.04,890.5 v2.15 M295.03,890.5 v2.15 M301.23,890.5 v2.15 M306.3,890.5 v2.15 M310.59,890.5 v2.15 M314.3,890.5 v2.15 M317.57,890.5 v2.15" stroke="#333" stroke-width="0.82" fill="none"/>
<text x="51.61" y="905.85" font-size="11.25" textLength="13.81" lengthAdjust="spacingAndGlyphs">10</text>
<text x="65.52" y="902.01" font-size="8.29" textLength="11.15" lengthAdjust="spacingAndGlyphs">−4</text>
<text x="115.61" y="905.85" font-size="11.25" textLength="13.81" lengthAdjust="spacingAndGlyphs">10</text>
<text x="129.52" y="902.01" font-size="8.29" textLength="11.15" lengthAdjust="spacingAndGlyphs">−3</text>
<text x="179.61" y="905.85" font-size="11.25" textLength="13.81" lengthAdjust="spacingAndGlyphs">10</text>
<text x="193.52" y="902.01" font-size="8.29" textLength="11.15" lengthAdjust="spacingAndGlyphs">−2</text>
<text x="243.61" y="905.85" font-size="11.25" textLength="13.81" lengthAdjust="spacingAndGlyphs">10</text>
<text x="257.52" y="902.01" font-size="8.29" textLength="11.15" lengthAdjust="spacingAndGlyphs">−1</text>
<text x="311.09" y="905.85" font-size="11.25" textLength="13.81" lengthAdjust="spacingAndGlyphs">10</text>
<text x="325" y="902.01" font-size="8.29" textLength="4.6" lengthAdjust="spacingAndGlyphs">0</text>
<text x="38.03" y="733.24" font-size="10.95" text-anchor="end" textLength="23.43" lengthAdjust="spacingAndGlyphs">1.04</text>
<text x="38.03" y="774.74" font-size="10.95" text-anchor="end" textLength="23.43" lengthAdjust="spacingAndGlyphs">1.02</text>
<text x="38.03" y="816.24" font-size="10.95" text-anchor="end" textLength="23.43" lengthAdjust="spacingAndGlyphs">1.00</text>
<text x="38.03" y="857.74" font-size="10.95" text-anchor="end" textLength="23.43" lengthAdjust="spacingAndGlyphs">0.98</text>
<text x="189.28" y="919.55" font-size="11.15" text-anchor="middle">x</text>
<text transform="translate(7.75,803.75) rotate(-90)" font-size="10.95" text-anchor="middle" textLength="107.93" lengthAdjust="spacingAndGlyphs">Ratio to α<tspan font-size="7.38" dy="1.84" font-style="italic">s</tspan><tspan dy="-1.84"> = 0.1180</tspan></text>
<text x="188.46" y="710.96" font-size="12.58" text-anchor="middle" textLength="83.07" lengthAdjust="spacingAndGlyphs">c at 100 GeV</text>
<rect x="244.2" y="787.6" width="85.52" height="98" rx="2.05" fill="#fff" fill-opacity="0.6" stroke="#ccc" stroke-opacity="0.8" stroke-width="0.82"/>
<g><clipPath id="lc7"><rect x="247.78" y="791.69" width="18.82" height="6.75"/></clipPath>
<rect x="247.78" y="791.69" width="18.82" height="6.75" fill="#66c2a5" fill-opacity="0.5"/>
<path d="M199.62,799.44 L208.37,790.69 M221.83,799.44 L230.58,790.69 M244.04,799.44 L252.79,790.69 M266.25,799.44 L275,790.69" stroke="#555" stroke-width="0.82" clip-path="url(#lc7)"/>
<rect x="247.78" y="791.69" width="18.82" height="6.75" fill="none" stroke="#555" stroke-width="0.92"/></g>
<text x="273.05" y="798.44" font-size="9.92" textLength="51.66" lengthAdjust="spacingAndGlyphs">α<tspan font-size="6.95" dy="1.64" font-style="italic">s</tspan><tspan dy="-1.64"> = 0.1180</tspan></text>
<path d="M247.78,808.68 H266.6" stroke="#fc8d62" stroke-width="1.64" fill="none"/>
<text x="273.05" y="812.06" font-size="9.92" textLength="51.66" lengthAdjust="spacingAndGlyphs">α<tspan font-size="6.95" dy="1.64" font-style="italic">s</tspan><tspan dy="-1.64"> = 0.1160</tspan></text>
<path d="M247.78,822.3 H266.6" stroke="#8da0cb" stroke-width="1.64" fill="none"/>
<text x="273.05" y="825.68" font-size="9.92" textLength="51.66" lengthAdjust="spacingAndGlyphs">α<tspan font-size="6.95" dy="1.64" font-style="italic">s</tspan><tspan dy="-1.64"> = 0.1170</tspan></text>
<path d="M247.78,835.92 H266.6" stroke="#e78ac3" stroke-width="1.64" fill="none"/>
<text x="273.05" y="839.29" font-size="9.92" textLength="51.66" lengthAdjust="spacingAndGlyphs">α<tspan font-size="6.95" dy="1.64" font-style="italic">s</tspan><tspan dy="-1.64"> = 0.1175</tspan></text>
<path d="M247.78,849.53 H266.6" stroke="#a6d854" stroke-width="1.64" fill="none"/>
<text x="273.05" y="852.91" font-size="9.92" textLength="51.66" lengthAdjust="spacingAndGlyphs">α<tspan font-size="6.95" dy="1.64" font-style="italic">s</tspan><tspan dy="-1.64"> = 0.1188</tspan></text>
<path d="M247.78,863.15 H266.6" stroke="#ffd92f" stroke-width="1.84" fill="none"/>
<text x="273.05" y="866.52" font-size="9.92" textLength="51.66" lengthAdjust="spacingAndGlyphs">α<tspan font-size="6.95" dy="1.64" font-style="italic">s</tspan><tspan dy="-1.64"> = 0.1190</tspan></text>
<path d="M247.78,876.76 H266.6" stroke="#e5c494" stroke-width="1.64" fill="none"/>
<text x="273.05" y="880.14" font-size="9.92" textLength="51.66" lengthAdjust="spacingAndGlyphs">α<tspan font-size="6.95" dy="1.64" font-style="italic">s</tspan><tspan dy="-1.64"> = 0.1200</tspan></text>
</g>
<g id="p8">
<path d="M422.1,722 V891.6 M484.5,722 V891.6 M546.9,722 V891.6 M609.3,722 V891.6 M671.7,722 V891.6 M403.4,732.8 H684.9 M403.4,768.1 H684.9 M403.4,803.4 H684.9 M403.4,838.4 H684.9 M403.4,873.4 H684.9" stroke="#f3f3f3" stroke-width="0.8" fill="none"/>
<clipPath id="ax8"><rect x="403.4" y="722" width="281.5" height="169.6"/></clipPath>
<g clip-path="url(#ax8)">
<clipPath id="bd8"><path d="M403.3,712L425.2,712L425.2,722.1L428.5,726.9L432.8,732.4L437.2,736.8L441.6,742.3L446,744.5L450.4,746.7L454.7,749.3L459.1,752.1L462.4,757.6L465.7,760.9L470.1,763.1L475.5,762.4L481,762.6L487.6,763.7L494.2,763.1L500.7,764.2L507.3,763.1L513.9,763.7L519.3,761.5L524.8,760.4L531.4,761.5L535,763.1L541.6,765.3L548.1,767.5L554.7,770.7L561.3,773.4L567.8,775.1L574.4,778.4L581,779.5L585.4,777.3L589.7,774.7L594.1,773.4L597.4,771.8L600.7,767.5L604,762L607.3,756.5L610.5,748.8L613.8,740.1L617.1,733.5L619.3,729.1L621.5,724.8L623.7,722.1L624,712L672,712L672,900L631,900L630.2,891.2L628.1,887.3L624.8,881.8L621.5,875.3L618.2,867.6L614.9,861L611.6,854.5L608.3,849L605.1,843.5L601.8,839.1L598.5,836.9L594.1,833.7L590.8,831.5L587.6,829.7L584.3,830.4L579.9,831L575.5,831L572.2,832.6L567.8,833.7L563.5,835.8L559.1,839.1L554.7,840.7L548.1,842L541.6,843.1L535,843.5L529.2,845L523.7,844.6L519.3,843.5L515,843.5L510.6,844.2L507.3,842.4L504,839.8L499.6,838L494.2,837.6L489.8,836.9L485.4,839.1L481,839.8L476.6,840.7L473.4,844.6L469,846.8L464.6,850.1L460.2,855.1L455.8,857.7L451.5,859.5L447.1,861L442.7,862.1L438.3,865.4L433.9,867.6L429.6,868.7L425.2,869.8L421.9,872.6L418.1,879.8L413.6,885.5L409,891.2L408.6,900L403.3,900Z"/></clipPath>
<path d="M403.3,712L425.2,712L425.2,722.1L428.5,726.9L432.8,732.4L437.2,736.8L441.6,742.3L446,744.5L450.4,746.7L454.7,749.3L459.1,752.1L462.4,757.6L465.7,760.9L470.1,763.1L475.5,762.4L481,762.6L487.6,763.7L494.2,763.1L500.7,764.2L507.3,763.1L513.9,763.7L519.3,761.5L524.8,760.4L531.4,761.5L535,763.1L541.6,765.3L548.1,767.5L554.7,770.7L561.3,773.4L567.8,775.1L574.4,778.4L581,779.5L585.4,777.3L589.7,774.7L594.1,773.4L597.4,771.8L600.7,767.5L604,762L607.3,756.5L610.5,748.8L613.8,740.1L617.1,733.5L619.3,729.1L621.5,724.8L623.7,722.1L624,712L672,712L672,900L631,900L630.2,891.2L628.1,887.3L624.8,881.8L621.5,875.3L618.2,867.6L614.9,861L611.6,854.5L608.3,849L605.1,843.5L601.8,839.1L598.5,836.9L594.1,833.7L590.8,831.5L587.6,829.7L584.3,830.4L579.9,831L575.5,831L572.2,832.6L567.8,833.7L563.5,835.8L559.1,839.1L554.7,840.7L548.1,842L541.6,843.1L535,843.5L529.2,845L523.7,844.6L519.3,843.5L515,843.5L510.6,844.2L507.3,842.4L504,839.8L499.6,838L494.2,837.6L489.8,836.9L485.4,839.1L481,839.8L476.6,840.7L473.4,844.6L469,846.8L464.6,850.1L460.2,855.1L455.8,857.7L451.5,859.5L447.1,861L442.7,862.1L438.3,865.4L433.9,867.6L429.6,868.7L425.2,869.8L421.9,872.6L418.1,879.8L413.6,885.5L409,891.2L408.6,900L403.3,900Z" fill="#b3e1d2" stroke="#66c2a5" stroke-opacity="0.5" stroke-width="0.6"/>
<path d="M402.4,685.48 L366.88,721 M402.4,707.19 L388.59,721 M402.4,728.9 L410.3,721 M402.4,750.61 L432.01,721 M402.4,772.32 L453.72,721 M402.4,794.03 L475.43,721 M402.4,815.74 L497.14,721 M402.4,837.45 L518.85,721 M402.4,859.16 L540.56,721 M402.4,880.87 L562.27,721 M402.4,902.58 L583.98,721 M402.4,924.29 L605.69,721 M402.4,946 L627.4,721 M402.4,967.71 L649.11,721 M402.4,989.42 L670.82,721 M402.4,1011.13 L692.53,721 M402.4,1032.84 L714.24,721 M402.4,1054.55 L735.95,721 M402.4,1076.26 L757.66,721 M402.4,1097.97 L779.37,721 M402.4,1119.68 L801.08,721 M402.4,1141.39 L822.79,721 M402.4,1163.1 L844.5,721 M402.4,1184.81 L866.21,721" stroke="#62c0a2" stroke-width="1.15" fill="none" clip-path="url(#bd8)"/>
<path d="M403.4,803.4 H671.7" stroke="#66c2a5" stroke-opacity="1" stroke-width="1.5" fill="none"/>
<path d="M403.35,778.9C403.87,778.67 405.44,777.99 406.48,777.52C407.53,777.04 408.57,776.56 409.61,776.06C410.66,775.56 411.7,775.05 412.75,774.53C413.79,774.01 414.84,773.48 415.88,772.94C416.93,772.41 417.97,771.86 419.02,771.31C420.06,770.76 421.11,770.2 422.16,769.64C423.21,769.07 424.25,768.51 425.3,767.94C426.35,767.37 427.4,766.79 428.46,766.22C429.51,765.64 430.56,765.06 431.62,764.49C432.67,763.91 433.73,763.34 434.79,762.76C435.85,762.19 436.91,761.62 437.97,761.05C439.03,760.48 440.09,759.91 441.16,759.35C442.23,758.79 443.3,758.24 444.37,757.69C445.44,757.14 446.51,756.6 447.59,756.07C448.66,755.54 449.74,755.01 450.82,754.5C451.91,753.98 452.99,753.48 454.08,752.99C455.17,752.5 456.26,752.01 457.35,751.55C458.45,751.08 459.54,750.63 460.64,750.19C461.74,749.75 462.85,749.33 463.96,748.92C465.06,748.52 466.18,748.12 467.29,747.75C468.41,747.38 469.53,747.03 470.65,746.7C471.78,746.36 472.9,746.05 474.04,745.76C475.17,745.47 476.31,745.2 477.45,744.95C478.59,744.71 479.73,744.48 480.89,744.29C482.04,744.09 483.19,743.91 484.35,743.77C485.51,743.62 486.68,743.5 487.85,743.41C489.02,743.32 490.2,743.26 491.38,743.22C492.56,743.19 493.74,743.18 494.92,743.21C496.1,743.23 497.29,743.29 498.47,743.37C499.65,743.46 500.83,743.57 502.01,743.72C503.18,743.87 504.36,744.04 505.52,744.25C506.69,744.46 507.85,744.7 509.01,744.98C510.16,745.25 511.31,745.56 512.44,745.9C513.57,746.24 514.7,746.62 515.81,747.03C516.92,747.44 518.02,747.88 519.11,748.35C520.2,748.83 521.28,749.34 522.34,749.87C523.4,750.4 524.45,750.96 525.49,751.54C526.53,752.13 527.56,752.74 528.58,753.36C529.6,753.99 530.6,754.64 531.6,755.3C532.59,755.96 533.57,756.64 534.55,757.34C535.52,758.03 536.48,758.73 537.43,759.45C538.38,760.16 539.32,760.89 540.26,761.63C541.19,762.36 542.12,763.11 543.04,763.86C543.96,764.61 544.87,765.37 545.78,766.14C546.68,766.9 547.58,767.67 548.48,768.45C549.38,769.22 550.27,770 551.16,770.79C552.05,771.57 552.94,772.35 553.83,773.14C554.71,773.92 555.6,774.71 556.48,775.5C557.37,776.28 558.25,777.07 559.14,777.85C560.03,778.63 560.91,779.41 561.8,780.19C562.7,780.96 563.59,781.74 564.49,782.5C565.38,783.27 566.29,784.03 567.19,784.78C568.1,785.54 569.01,786.29 569.93,787.02C570.85,787.76 571.78,788.49 572.72,789.21C573.65,789.92 574.59,790.63 575.55,791.33C576.5,792.02 577.46,792.71 578.44,793.38C579.41,794.05 580.39,794.7 581.39,795.34C582.39,795.98 583.39,796.6 584.41,797.21C585.43,797.81 586.46,798.4 587.5,798.96C588.55,799.52 589.6,800.06 590.66,800.58C591.73,801.1 592.81,801.59 593.89,802.05C594.98,802.52 596.08,802.96 597.19,803.36C598.31,803.77 598.51,803.82 600.57,804.5C602.62,805.17 606.93,806 609.5,807.4C612.07,808.8 614,810.53 616,812.9C618,815.27 619.85,818.13 621.5,821.6C623.15,825.07 624.62,828.77 625.9,833.7C627.18,838.63 628.3,845.37 629.2,851.2C630.1,857.03 630.65,863.23 631.3,868.7C631.95,874.17 632.57,878.78 633.1,884C633.63,889.22 634.27,897.33 634.5,900" stroke="#fc8d62" stroke-width="1.6" fill="none" stroke-linejoin="round" stroke-linecap="butt"/>
<path d="M403.29,775.29C403.88,775.22 405.63,775.03 406.8,774.9C407.97,774.78 409.14,774.66 410.31,774.55C411.48,774.44 412.65,774.33 413.82,774.23C414.99,774.13 416.16,774.04 417.34,773.95C418.51,773.86 419.68,773.77 420.86,773.69C422.03,773.62 423.2,773.54 424.38,773.47C425.55,773.41 426.72,773.35 427.9,773.29C429.07,773.23 430.25,773.18 431.42,773.14C432.6,773.09 433.77,773.05 434.95,773.02C436.12,772.99 437.3,772.96 438.48,772.94C439.65,772.92 440.83,772.9 442,772.89C443.18,772.88 444.35,772.88 445.53,772.88C446.7,772.88 447.88,772.89 449.05,772.9C450.23,772.92 451.4,772.94 452.58,772.96C453.75,772.99 454.93,773.02 456.1,773.06C457.28,773.09 458.45,773.14 459.62,773.19C460.8,773.24 461.97,773.29 463.14,773.36C464.31,773.42 465.49,773.49 466.66,773.56C467.83,773.63 469,773.71 470.17,773.8C471.34,773.89 472.51,773.98 473.68,774.08C474.85,774.18 476.02,774.29 477.19,774.4C478.35,774.51 479.52,774.63 480.69,774.75C481.85,774.88 483.02,775.01 484.18,775.14C485.35,775.28 486.51,775.42 487.67,775.57C488.84,775.72 490,775.88 491.16,776.04C492.32,776.21 493.48,776.38 494.64,776.55C495.8,776.73 496.96,776.91 498.11,777.1C499.27,777.29 500.42,777.48 501.58,777.69C502.73,777.89 503.89,778.1 505.04,778.31C506.19,778.53 507.34,778.75 508.49,778.98C509.64,779.21 510.79,779.44 511.93,779.69C513.08,779.93 514.22,780.18 515.37,780.43C516.51,780.69 517.65,780.95 518.79,781.22C519.93,781.49 521.07,781.77 522.21,782.05C523.34,782.34 524.48,782.63 525.61,782.92C526.75,783.22 527.88,783.52 529.01,783.84C530.14,784.15 531.27,784.46 532.39,784.79C533.52,785.11 534.65,785.45 535.77,785.79C536.89,786.12 538.01,786.47 539.13,786.82C540.25,787.17 541.37,787.52 542.49,787.87C543.61,788.23 544.73,788.58 545.85,788.93C546.97,789.29 548.09,789.64 549.21,789.98C550.33,790.33 551.45,790.67 552.57,791.01C553.7,791.34 554.82,791.67 555.95,791.99C557.08,792.31 558.21,792.62 559.34,792.92C560.48,793.21 561.61,793.5 562.75,793.78C563.89,794.06 565.03,794.33 566.18,794.59C567.32,794.85 568.46,795.1 569.61,795.35C570.76,795.59 571.91,795.83 573.06,796.06C574.21,796.29 575.37,796.51 576.52,796.73C577.68,796.94 578.83,797.15 579.99,797.36C581.15,797.56 582.31,797.76 583.47,797.96C584.63,798.16 585.79,798.35 586.95,798.56C588.1,798.76 589.26,798.96 590.42,799.17C591.57,799.38 592.72,799.6 593.87,799.83C595.02,800.06 596.17,800.29 597.31,800.54C598.45,800.8 598.68,800.85 600.71,801.35C602.74,801.84 606.59,802.31 609.5,803.5C612.41,804.69 615.65,806.58 618.2,808.5C620.75,810.42 622.8,812.27 624.8,815C626.8,817.73 628.57,820.7 630.2,824.9C631.83,829.1 633.32,834.37 634.6,840.2C635.88,846.03 636.98,853.68 637.9,859.9C638.82,866.12 639.45,870.82 640.1,877.5C640.75,884.18 641.52,896.25 641.8,900" stroke="#8da0cb" stroke-width="1.6" fill="none" stroke-linejoin="round" stroke-linecap="butt"/>
<path d="M403.31,790.44C403.9,790.46 405.65,790.53 406.82,790.57C407.99,790.61 409.16,790.64 410.33,790.66C411.51,790.69 412.68,790.71 413.86,790.72C415.03,790.73 416.2,790.74 417.38,790.74C418.56,790.74 419.73,790.74 420.91,790.73C422.09,790.73 423.27,790.72 424.44,790.7C425.62,790.69 426.8,790.67 427.98,790.65C429.16,790.63 430.34,790.61 431.52,790.59C432.7,790.57 433.88,790.54 435.06,790.52C436.24,790.49 437.42,790.47 438.6,790.44C439.78,790.42 440.97,790.39 442.15,790.37C443.33,790.34 444.51,790.32 445.69,790.3C446.87,790.27 448.05,790.25 449.23,790.24C450.41,790.22 451.59,790.2 452.77,790.19C453.95,790.18 455.13,790.17 456.31,790.17C457.49,790.16 458.67,790.16 459.85,790.17C461.02,790.18 462.2,790.18 463.38,790.2C464.56,790.22 465.73,790.24 466.91,790.27C468.08,790.3 469.26,790.33 470.43,790.37C471.61,790.41 472.78,790.46 473.95,790.51C475.12,790.56 476.3,790.61 477.47,790.67C478.64,790.73 479.81,790.8 480.98,790.86C482.16,790.93 483.33,791 484.5,791.08C485.67,791.15 486.84,791.23 488.01,791.31C489.18,791.39 490.35,791.47 491.52,791.56C492.69,791.64 493.86,791.73 495.03,791.82C496.2,791.91 497.37,792 498.54,792.09C499.71,792.18 500.88,792.27 502.05,792.36C503.22,792.45 504.39,792.54 505.56,792.63C506.73,792.73 507.9,792.82 509.07,792.91C510.24,793 511.41,793.08 512.58,793.17C513.76,793.26 514.93,793.34 516.1,793.43C517.27,793.51 518.45,793.59 519.62,793.67C520.8,793.75 521.97,793.82 523.15,793.89C524.32,793.96 525.5,794.03 526.67,794.1C527.85,794.16 529.03,794.22 530.21,794.28C531.39,794.33 532.57,794.38 533.75,794.43C534.93,794.48 536.11,794.52 537.29,794.56C538.47,794.6 539.65,794.63 540.84,794.67C542.02,794.7 543.2,794.73 544.39,794.76C545.57,794.79 546.75,794.82 547.94,794.85C549.12,794.88 550.3,794.91 551.49,794.94C552.67,794.97 553.85,795 555.04,795.03C556.22,795.06 557.4,795.1 558.58,795.13C559.76,795.17 560.95,795.21 562.13,795.25C563.31,795.3 564.49,795.34 565.67,795.39C566.84,795.45 568.02,795.5 569.2,795.57C570.38,795.63 571.55,795.7 572.73,795.77C573.9,795.85 575.07,795.93 576.24,796.02C577.42,796.1 578.59,796.2 579.75,796.31C580.92,796.41 582.09,796.53 583.25,796.65C584.42,796.77 585.58,796.91 586.74,797.05C587.9,797.2 589.06,797.35 590.22,797.52C591.37,797.68 592.53,797.86 593.68,798.05C594.83,798.24 595.98,798.45 597.12,798.67C598.27,798.88 597.78,798.64 600.55,799.36C603.33,800.08 610.13,801.66 613.8,803C617.47,804.34 620.03,805.4 622.6,807.4C625.17,809.4 627.38,812.08 629.2,815C631.02,817.92 632.12,820.7 633.5,824.9C634.88,829.1 636.4,834.73 637.5,840.2C638.6,845.67 639.3,851.85 640.1,857.7C640.9,863.55 641.62,868.25 642.3,875.3C642.98,882.35 643.88,895.88 644.2,900" stroke="#e78ac3" stroke-width="1.6" fill="none" stroke-linejoin="round" stroke-linecap="butt"/>
<path d="M403.31,811.84C403.89,811.89 405.64,812.06 406.81,812.16C407.98,812.27 409.15,812.38 410.32,812.48C411.49,812.59 412.66,812.69 413.83,812.79C415,812.89 416.17,812.99 417.34,813.09C418.51,813.18 419.68,813.28 420.86,813.37C422.03,813.47 423.2,813.56 424.37,813.65C425.55,813.74 426.72,813.82 427.89,813.91C429.07,813.99 430.24,814.08 431.41,814.16C432.59,814.24 433.76,814.31 434.94,814.39C436.11,814.47 437.29,814.54 438.46,814.61C439.64,814.68 440.81,814.75 441.99,814.82C443.16,814.88 444.34,814.94 445.52,815.01C446.69,815.07 447.87,815.12 449.04,815.18C450.22,815.23 451.4,815.29 452.57,815.34C453.75,815.39 454.93,815.43 456.1,815.48C457.28,815.52 458.46,815.56 459.63,815.6C460.81,815.64 461.99,815.67 463.17,815.7C464.34,815.73 465.52,815.76 466.7,815.79C467.87,815.81 469.05,815.83 470.23,815.85C471.41,815.87 472.58,815.89 473.76,815.9C474.94,815.91 476.11,815.92 477.29,815.92C478.47,815.93 479.64,815.93 480.82,815.93C482,815.92 483.18,815.92 484.35,815.91C485.53,815.9 486.7,815.89 487.88,815.87C489.06,815.85 490.23,815.83 491.41,815.8C492.58,815.78 493.76,815.75 494.94,815.72C496.11,815.68 497.29,815.65 498.46,815.61C499.64,815.57 500.81,815.52 501.99,815.47C503.16,815.42 504.33,815.37 505.51,815.31C506.68,815.25 507.86,815.19 509.03,815.12C510.2,815.06 511.37,814.99 512.55,814.91C513.72,814.83 514.89,814.75 516.06,814.67C517.24,814.59 518.41,814.5 519.58,814.4C520.75,814.31 521.92,814.21 523.09,814.11C524.26,814 525.43,813.89 526.6,813.78C527.77,813.67 528.94,813.55 530.1,813.43C531.27,813.3 532.44,813.18 533.61,813.04C534.77,812.91 535.94,812.77 537.11,812.63C538.27,812.49 539.44,812.34 540.6,812.18C541.77,812.03 542.93,811.87 544.1,811.71C545.26,811.54 546.42,811.37 547.58,811.2C548.75,811.02 549.91,810.84 551.07,810.66C552.23,810.47 553.39,810.29 554.55,810.09C555.71,809.9 556.87,809.71 558.03,809.51C559.19,809.31 560.35,809.11 561.51,808.91C562.67,808.7 563.83,808.5 564.99,808.29C566.15,808.09 567.3,807.88 568.46,807.67C569.62,807.47 570.78,807.26 571.94,807.05C573.1,806.84 574.26,806.64 575.42,806.43C576.57,806.23 577.73,806.02 578.89,805.82C580.05,805.62 581.21,805.42 582.37,805.22C583.53,805.02 584.69,804.83 585.85,804.64C587.01,804.45 588.17,804.26 589.33,804.07C590.5,803.89 591.66,803.71 592.82,803.53C593.98,803.35 593.44,803.34 596.3,803C599.17,802.66 605.72,802.33 610,801.5C614.28,800.67 618.67,799.92 622,798C625.33,796.08 627.83,794.33 630,790C632.17,785.67 633.58,779.5 635,772C636.42,764.5 637.47,755 638.5,745C639.53,735 640.75,717.5 641.2,712" stroke="#a6d854" stroke-width="1.6" fill="none" stroke-linejoin="round" stroke-linecap="butt"/>
<path d="M670.9,712L670.9,900" stroke="#a6d854" stroke-width="1.6" fill="none" stroke-linejoin="round" stroke-linecap="butt"/>
<path d="M403.35,811.86C403.91,812 405.58,812.41 406.7,812.7C407.82,812.99 408.94,813.29 410.06,813.6C411.17,813.91 412.29,814.23 413.41,814.55C414.53,814.87 415.64,815.21 416.76,815.54C417.88,815.88 419,816.23 420.12,816.57C421.23,816.92 422.35,817.28 423.47,817.64C424.59,817.99 425.71,818.36 426.82,818.72C427.94,819.09 429.06,819.46 430.18,819.83C431.3,820.2 432.42,820.57 433.54,820.95C434.66,821.32 435.78,821.7 436.9,822.07C438.02,822.45 439.15,822.83 440.27,823.2C441.39,823.57 442.51,823.95 443.64,824.32C444.76,824.69 445.89,825.06 447.01,825.43C448.14,825.79 449.26,826.16 450.39,826.52C451.52,826.87 452.64,827.23 453.77,827.58C454.9,827.93 456.03,828.27 457.16,828.61C458.29,828.95 459.43,829.28 460.56,829.61C461.69,829.93 462.83,830.25 463.96,830.56C465.1,830.87 466.24,831.17 467.37,831.46C468.51,831.75 469.65,832.04 470.79,832.31C471.93,832.58 473.08,832.84 474.22,833.09C475.36,833.34 476.51,833.58 477.65,833.81C478.8,834.04 479.95,834.25 481.1,834.45C482.25,834.65 483.4,834.84 484.56,835.01C485.71,835.18 486.86,835.34 488.02,835.48C489.18,835.62 490.34,835.75 491.5,835.86C492.66,835.97 493.82,836.07 494.99,836.14C496.15,836.22 497.32,836.28 498.49,836.32C499.66,836.35 500.83,836.38 502,836.38C503.17,836.38 504.34,836.37 505.51,836.34C506.68,836.3 507.86,836.25 509.03,836.18C510.2,836.11 511.37,836.03 512.54,835.92C513.71,835.81 514.88,835.69 516.04,835.54C517.21,835.4 518.37,835.24 519.53,835.06C520.7,834.88 521.85,834.68 523.01,834.46C524.16,834.25 525.32,834.01 526.46,833.75C527.61,833.5 528.75,833.23 529.89,832.93C531.03,832.64 532.16,832.33 533.29,832C534.42,831.67 535.54,831.32 536.66,830.95C537.77,830.58 538.88,830.2 539.98,829.79C541.08,829.39 542.18,828.96 543.27,828.52C544.35,828.07 545.43,827.61 546.5,827.13C547.57,826.64 548.63,826.14 549.69,825.62C550.74,825.1 551.78,824.56 552.82,824C553.85,823.44 554.87,822.86 555.89,822.27C556.9,821.68 557.91,821.06 558.91,820.45C559.92,819.83 560.91,819.19 561.9,818.56C562.9,817.92 563.89,817.28 564.87,816.63C565.86,815.99 566.85,815.33 567.84,814.69C568.82,814.04 569.81,813.39 570.8,812.75C571.79,812.11 572.78,811.48 573.78,810.85C574.78,810.23 575.78,809.61 576.79,809.01C577.8,808.41 578.81,807.82 579.84,807.25C580.87,806.68 581.9,806.13 582.94,805.6C583.99,805.07 585.05,804.56 586.12,804.08C587.19,803.6 588.27,803.15 589.37,802.72C590.46,802.3 591.58,801.9 592.71,801.54C593.83,801.19 595,800.83 596.13,800.61C597.26,800.39 598.42,800.19 599.5,800.22C600.58,800.24 601.65,800.36 602.61,800.76C603.57,801.16 604.47,801.81 605.28,802.61C606.08,803.41 606.46,803.84 607.42,805.57C608.37,807.3 609.57,811.06 611,813C612.43,814.94 614.07,816.5 616,817.2C617.93,817.9 620.77,818.1 622.6,817.2C624.43,816.3 625.77,814.17 627,811.8C628.23,809.43 629.1,805.8 630,803C630.9,800.2 631.63,798.55 632.4,795C633.17,791.45 633.97,787.57 634.6,781.7C635.23,775.83 635.65,767.1 636.2,759.8C636.75,752.5 637.38,745.87 637.9,737.9C638.42,729.93 639.07,716.32 639.3,712" stroke="#ffd92f" stroke-width="1.8" fill="none" stroke-linejoin="round" stroke-linecap="butt"/>
<path d="M403.35,842.91C403.88,843.12 405.49,843.76 406.56,844.2C407.62,844.64 408.7,845.08 409.77,845.53C410.84,845.98 411.92,846.44 412.99,846.9C414.07,847.36 415.14,847.82 416.22,848.29C417.3,848.76 418.38,849.23 419.47,849.7C420.55,850.18 421.63,850.65 422.72,851.13C423.8,851.6 424.89,852.08 425.98,852.55C427.07,853.03 428.16,853.51 429.26,853.98C430.35,854.45 431.45,854.92 432.54,855.39C433.64,855.86 434.74,856.33 435.84,856.79C436.94,857.25 438.05,857.71 439.15,858.16C440.26,858.61 441.36,859.06 442.47,859.5C443.58,859.94 444.69,860.37 445.81,860.79C446.92,861.22 448.04,861.64 449.16,862.05C450.27,862.45 451.4,862.85 452.52,863.24C453.64,863.63 454.77,864.01 455.89,864.38C457.02,864.74 458.15,865.1 459.28,865.44C460.42,865.78 461.55,866.11 462.69,866.43C463.83,866.75 464.97,867.05 466.11,867.34C467.25,867.62 468.4,867.89 469.54,868.15C470.69,868.4 471.84,868.64 472.99,868.86C474.15,869.08 475.3,869.29 476.46,869.47C477.62,869.66 478.78,869.82 479.94,869.97C481.11,870.11 482.27,870.24 483.44,870.34C484.61,870.45 485.78,870.53 486.96,870.59C488.13,870.65 489.31,870.69 490.49,870.7C491.67,870.72 492.85,870.71 494.03,870.67C495.21,870.63 496.39,870.57 497.57,870.49C498.74,870.4 499.92,870.28 501.09,870.14C502.26,869.99 503.43,869.82 504.59,869.62C505.75,869.41 506.91,869.18 508.06,868.91C509.2,868.65 510.34,868.35 511.47,868.02C512.6,867.69 513.73,867.33 514.84,866.93C515.94,866.53 517.04,866.1 518.13,865.63C519.21,865.16 520.28,864.65 521.35,864.12C522.41,863.59 523.45,863.02 524.49,862.44C525.54,861.86 526.57,861.26 527.59,860.65C528.61,860.04 529.63,859.42 530.64,858.79C531.65,858.16 532.66,857.53 533.65,856.89C534.65,856.25 535.64,855.6 536.61,854.94C537.59,854.29 538.55,853.62 539.51,852.94C540.46,852.26 541.41,851.57 542.34,850.87C543.28,850.17 544.2,849.46 545.12,848.74C546.04,848.02 546.95,847.29 547.85,846.55C548.75,845.8 549.64,845.05 550.52,844.28C551.41,843.52 552.28,842.74 553.15,841.95C554.02,841.16 554.88,840.36 555.73,839.55C556.59,838.74 557.43,837.91 558.27,837.08C559.11,836.24 559.94,835.39 560.77,834.52C561.6,833.66 562.41,832.78 563.23,831.9C564.05,831.02 564.86,830.12 565.68,829.24C566.49,828.35 567.31,827.46 568.14,826.58C568.96,825.71 569.79,824.83 570.64,823.99C571.48,823.14 572.34,822.31 573.21,821.51C574.09,820.71 574.97,819.93 575.89,819.19C576.8,818.45 577.73,817.74 578.69,817.08C579.65,816.42 580.64,815.8 581.65,815.23C582.66,814.65 583.7,814.11 584.75,813.61C585.8,813.11 586.88,812.65 587.97,812.21C589.05,811.78 590.16,811.38 591.28,811C592.4,810.63 593.53,810.28 594.68,809.96C595.82,809.64 596.97,809.34 598.13,809.06C599.29,808.78 600.45,808.52 601.62,808.27C602.78,808.03 602.89,808.04 605.12,807.58C607.36,807.12 612.19,806.76 615,805.5C617.81,804.24 620.08,802.25 622,800C623.92,797.75 625.3,795.05 626.5,792C627.7,788.95 628.4,787.07 629.2,781.7C630,776.33 630.58,767.1 631.3,759.8C632.02,752.5 632.88,745.87 633.5,737.9C634.12,729.93 634.75,716.32 635,712" stroke="#e5c494" stroke-width="1.6" fill="none" stroke-linejoin="round" stroke-linecap="butt"/>
</g>
<path d="M403.4,722 V891.6 H684.9" stroke="#333" stroke-width="1" fill="none" stroke-linecap="square"/>
<path d="M422.1,891.6 v3.6 M484.5,891.6 v3.6 M546.9,891.6 v3.6 M609.3,891.6 v3.6 M671.7,891.6 v3.6 M403.4,732.8 h-3.6 M403.4,768.1 h-3.6 M403.4,803.4 h-3.6 M403.4,838.4 h-3.6 M403.4,873.4 h-3.6" stroke="#333" stroke-width="0.9" fill="none"/>
<path d="M408.26,891.6 v2.1 M412.43,891.6 v2.1 M416.05,891.6 v2.1 M419.24,891.6 v2.1 M440.88,891.6 v2.1 M451.87,891.6 v2.1 M459.67,891.6 v2.1 M465.72,891.6 v2.1 M470.66,891.6 v2.1 M474.83,891.6 v2.1 M478.45,891.6 v2.1 M481.64,891.6 v2.1 M503.28,891.6 v2.1 M514.27,891.6 v2.1 M522.07,891.6 v2.1 M528.12,891.6 v2.1 M533.06,891.6 v2.1 M537.23,891.6 v2.1 M540.85,891.6 v2.1 M544.04,891.6 v2.1 M565.68,891.6 v2.1 M576.67,891.6 v2.1 M584.47,891.6 v2.1 M590.52,891.6 v2.1 M595.46,891.6 v2.1 M599.63,891.6 v2.1 M603.25,891.6 v2.1 M606.44,891.6 v2.1 M628.08,891.6 v2.1 M639.07,891.6 v2.1 M646.87,891.6 v2.1 M652.92,891.6 v2.1 M657.86,891.6 v2.1 M662.03,891.6 v2.1 M665.65,891.6 v2.1 M668.84,891.6 v2.1" stroke="#333" stroke-width="0.8" fill="none"/>
<text x="409.5" y="906.6" font-size="11" textLength="13.5" lengthAdjust="spacingAndGlyphs">10</text>
<text x="423.1" y="902.85" font-size="8.1" textLength="10.9" lengthAdjust="spacingAndGlyphs">−4</text>
<text x="471.9" y="906.6" font-size="11" textLength="13.5" lengthAdjust="spacingAndGlyphs">10</text>
<text x="485.5" y="902.85" font-size="8.1" textLength="10.9" lengthAdjust="spacingAndGlyphs">−3</text>
<text x="534.3" y="906.6" font-size="11" textLength="13.5" lengthAdjust="spacingAndGlyphs">10</text>
<text x="547.9" y="902.85" font-size="8.1" textLength="10.9" lengthAdjust="spacingAndGlyphs">−2</text>
<text x="596.7" y="906.6" font-size="11" textLength="13.5" lengthAdjust="spacingAndGlyphs">10</text>
<text x="610.3" y="902.85" font-size="8.1" textLength="10.9" lengthAdjust="spacingAndGlyphs">−1</text>
<text x="662.5" y="906.6" font-size="11" textLength="13.5" lengthAdjust="spacingAndGlyphs">10</text>
<text x="676.1" y="902.85" font-size="8.1" textLength="4.5" lengthAdjust="spacingAndGlyphs">0</text>
<text x="396" y="736.75" font-size="10.7" text-anchor="end" textLength="29.3" lengthAdjust="spacingAndGlyphs">1.010</text>
<text x="396" y="772.05" font-size="10.7" text-anchor="end" textLength="29.3" lengthAdjust="spacingAndGlyphs">1.005</text>
<text x="396" y="807.35" font-size="10.7" text-anchor="end" textLength="29.3" lengthAdjust="spacingAndGlyphs">1.000</text>
<text x="396" y="842.35" font-size="10.7" text-anchor="end" textLength="29.3" lengthAdjust="spacingAndGlyphs">0.995</text>
<text x="396" y="877.35" font-size="10.7" text-anchor="end" textLength="29.3" lengthAdjust="spacingAndGlyphs">0.990</text>
<text x="543.85" y="920" font-size="10.9" text-anchor="middle">x</text>
<text transform="translate(359.7,806.8) rotate(-90)" font-size="10.7" text-anchor="middle" textLength="105.5" lengthAdjust="spacingAndGlyphs">Ratio to α<tspan font-size="7.21" dy="1.8" font-style="italic">s</tspan><tspan dy="-1.8"> = 0.1180</tspan></text>
<text x="543.65" y="716.1" font-size="12.3" text-anchor="middle" textLength="82.2" lengthAdjust="spacingAndGlyphs">g at 100 GeV</text>
<rect x="597.9" y="726.4" width="83.6" height="95.8" rx="2" fill="#fff" fill-opacity="0.6" stroke="#ccc" stroke-opacity="0.8" stroke-width="0.8"/>
<g><clipPath id="lc8"><rect x="601.4" y="730.4" width="18.4" height="6.6"/></clipPath>
<rect x="601.4" y="730.4" width="18.4" height="6.6" fill="#66c2a5" fill-opacity="0.5"/>
<path d="M566.98,738 L575.58,729.4 M588.69,738 L597.29,729.4 M610.4,738 L619,729.4 M632.11,738 L640.71,729.4" stroke="#555" stroke-width="0.8" clip-path="url(#lc8)"/>
<rect x="601.4" y="730.4" width="18.4" height="6.6" fill="none" stroke="#555" stroke-width="0.9"/></g>
<text x="626.1" y="737" font-size="9.7" textLength="50.5" lengthAdjust="spacingAndGlyphs">α<tspan font-size="6.79" dy="1.6" font-style="italic">s</tspan><tspan dy="-1.6"> = 0.1180</tspan></text>
<path d="M601.4,747.01 H619.8" stroke="#fc8d62" stroke-width="1.6" fill="none"/>
<text x="626.1" y="750.31" font-size="9.7" textLength="50.5" lengthAdjust="spacingAndGlyphs">α<tspan font-size="6.79" dy="1.6" font-style="italic">s</tspan><tspan dy="-1.6"> = 0.1160</tspan></text>
<path d="M601.4,760.32 H619.8" stroke="#8da0cb" stroke-width="1.6" fill="none"/>
<text x="626.1" y="763.62" font-size="9.7" textLength="50.5" lengthAdjust="spacingAndGlyphs">α<tspan font-size="6.79" dy="1.6" font-style="italic">s</tspan><tspan dy="-1.6"> = 0.1170</tspan></text>
<path d="M601.4,773.63 H619.8" stroke="#e78ac3" stroke-width="1.6" fill="none"/>
<text x="626.1" y="776.93" font-size="9.7" textLength="50.5" lengthAdjust="spacingAndGlyphs">α<tspan font-size="6.79" dy="1.6" font-style="italic">s</tspan><tspan dy="-1.6"> = 0.1175</tspan></text>
<path d="M601.4,786.94 H619.8" stroke="#a6d854" stroke-width="1.6" fill="none"/>
<text x="626.1" y="790.24" font-size="9.7" textLength="50.5" lengthAdjust="spacingAndGlyphs">α<tspan font-size="6.79" dy="1.6" font-style="italic">s</tspan><tspan dy="-1.6"> = 0.1188</tspan></text>
<path d="M601.4,800.25 H619.8" stroke="#ffd92f" stroke-width="1.8" fill="none"/>
<text x="626.1" y="803.55" font-size="9.7" textLength="50.5" lengthAdjust="spacingAndGlyphs">α<tspan font-size="6.79" dy="1.6" font-style="italic">s</tspan><tspan dy="-1.6"> = 0.1190</tspan></text>
<path d="M601.4,813.56 H619.8" stroke="#e5c494" stroke-width="1.6" fill="none"/>
<text x="626.1" y="816.86" font-size="9.7" textLength="50.5" lengthAdjust="spacingAndGlyphs">α<tspan font-size="6.79" dy="1.6" font-style="italic">s</tspan><tspan dy="-1.6"> = 0.1200</tspan></text>
</g>
</svg>
</body></html>
